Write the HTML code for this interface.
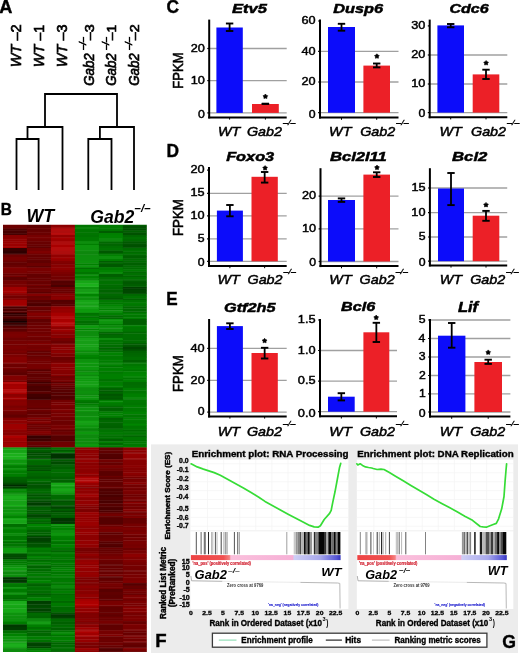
<!DOCTYPE html>
<html><head><meta charset="utf-8"><style>
html,body{margin:0;padding:0;background:#fff;}
body{width:520px;height:653px;overflow:hidden;}
svg{display:block;font-family:"Liberation Sans",sans-serif;will-change:transform;}
</style></head><body>
<svg width="520" height="653" viewBox="0 0 520 653">
<text transform="translate(-0.86,12.70) scale(0.978,1)" font-size="18.62" font-weight="bold" font-style="normal" fill="#000" stroke="#000" stroke-width="0.4">A</text>
<text transform="translate(20.60,67.27) rotate(-90) scale(0.961,1)" font-size="15.13" font-weight="normal" font-style="italic" fill="#000" stroke="#000" stroke-width="0.65">WT</text>
<text transform="translate(20.60,40.60) rotate(-90) scale(1.013,1)" font-size="14.34" font-weight="normal" font-style="normal" fill="#000" stroke="#000" stroke-width="0.65">–2</text>
<text transform="translate(43.60,67.27) rotate(-90) scale(0.961,1)" font-size="15.13" font-weight="normal" font-style="italic" fill="#000" stroke="#000" stroke-width="0.65">WT</text>
<text transform="translate(43.60,40.60) rotate(-90) scale(0.958,1)" font-size="14.55" font-weight="normal" font-style="normal" fill="#000" stroke="#000" stroke-width="0.65">–1</text>
<text transform="translate(66.70,67.27) rotate(-90) scale(0.961,1)" font-size="15.13" font-weight="normal" font-style="italic" fill="#000" stroke="#000" stroke-width="0.65">WT</text>
<text transform="translate(66.70,40.60) rotate(-90) scale(1.006,1)" font-size="14.34" font-weight="normal" font-style="normal" fill="#000" stroke="#000" stroke-width="0.65">–3</text>
<text transform="translate(93.50,85.87) rotate(-90) scale(0.939,1)" font-size="14.21" font-weight="normal" font-style="italic" fill="#000" stroke="#000" stroke-width="0.65">Gab2</text>
<text transform="translate(86.20,49.85) rotate(-90) scale(0.919,1)" font-size="9.93" font-weight="normal" font-style="italic" fill="#000" stroke="#000" stroke-width="0.65">–/–</text>
<text transform="translate(93.50,40.20) rotate(-90) scale(1.142,1)" font-size="12.47" font-weight="normal" font-style="normal" fill="#000" stroke="#000" stroke-width="0.65">–3</text>
<text transform="translate(116.30,85.87) rotate(-90) scale(0.939,1)" font-size="14.21" font-weight="normal" font-style="italic" fill="#000" stroke="#000" stroke-width="0.65">Gab2</text>
<text transform="translate(109.00,49.85) rotate(-90) scale(0.919,1)" font-size="9.93" font-weight="normal" font-style="italic" fill="#000" stroke="#000" stroke-width="0.65">–/–</text>
<text transform="translate(116.30,40.20) rotate(-90) scale(1.086,1)" font-size="12.65" font-weight="normal" font-style="normal" fill="#000" stroke="#000" stroke-width="0.65">–1</text>
<text transform="translate(139.10,85.87) rotate(-90) scale(0.939,1)" font-size="14.21" font-weight="normal" font-style="italic" fill="#000" stroke="#000" stroke-width="0.65">Gab2</text>
<text transform="translate(131.80,49.85) rotate(-90) scale(0.919,1)" font-size="9.93" font-weight="normal" font-style="italic" fill="#000" stroke="#000" stroke-width="0.65">–/–</text>
<text transform="translate(139.10,40.20) rotate(-90) scale(1.150,1)" font-size="12.47" font-weight="normal" font-style="normal" fill="#000" stroke="#000" stroke-width="0.65">–2</text>
<path d="M16.5,190V139H38.6V190 M27.5,139V127H62.5V190 M88.3,190V139H111.5V190 M99.9,139V127H134V190 M45,127V94H117V127" fill="none" stroke="#000" stroke-width="1.8"/>
<text transform="translate(0.86,215.10) scale(0.905,1)" font-size="17.02" font-weight="bold" font-style="normal" fill="#000" stroke="#000" stroke-width="0.4">B</text>
<text transform="translate(26.41,222.20) scale(1.014,1)" font-size="17.60" font-weight="bold" font-style="italic" fill="#000">WT</text>
<text transform="translate(90.26,222.60) scale(0.967,1)" font-size="18.21" font-weight="bold" font-style="italic" fill="#000">Gab2</text>
<text transform="translate(134.54,211.50) scale(1.099,1)" font-size="10.48" font-weight="bold" font-style="italic" fill="#000">–/–</text>
<defs><clipPath id="hmc"><rect x="2.9" y="224.8" width="144" height="427.2"/></clipPath><filter id="hmb" x="-0.01" y="-0.01" width="1.02" height="1.02"><feGaussianBlur stdDeviation="0.25 0.55"/></filter></defs><g clip-path="url(#hmc)"><g filter="url(#hmb)">
<rect x="2.90" y="222.00" width="24.40" height="3.40" fill="rgb(128,0,0)"/>
<rect x="2.90" y="225.00" width="24.40" height="3.40" fill="rgb(108,0,0)"/>
<rect x="2.90" y="228.00" width="24.40" height="0.90" fill="rgb(109,0,0)"/>
<rect x="2.90" y="228.50" width="24.40" height="2.40" fill="rgb(80,0,0)"/>
<rect x="2.90" y="230.50" width="24.40" height="3.40" fill="rgb(71,0,0)"/>
<rect x="2.90" y="233.50" width="24.40" height="1.90" fill="rgb(70,0,0)"/>
<rect x="2.90" y="235.00" width="24.40" height="3.40" fill="rgb(135,1,1)"/>
<rect x="2.90" y="238.00" width="24.40" height="1.90" fill="rgb(139,2,2)"/>
<rect x="2.90" y="239.50" width="24.40" height="2.40" fill="rgb(147,2,2)"/>
<rect x="2.90" y="241.50" width="24.40" height="2.40" fill="rgb(152,3,3)"/>
<rect x="2.90" y="243.50" width="24.40" height="1.90" fill="rgb(156,3,3)"/>
<rect x="2.90" y="245.00" width="24.40" height="1.90" fill="rgb(152,3,3)"/>
<rect x="2.90" y="246.50" width="24.40" height="1.90" fill="rgb(162,5,5)"/>
<rect x="2.90" y="248.00" width="24.40" height="3.40" fill="rgb(53,0,0)"/>
<rect x="2.90" y="251.00" width="24.40" height="2.90" fill="rgb(47,0,0)"/>
<rect x="2.90" y="253.50" width="24.40" height="1.40" fill="rgb(66,0,0)"/>
<rect x="2.90" y="254.50" width="24.40" height="2.90" fill="rgb(108,0,0)"/>
<rect x="2.90" y="257.00" width="24.40" height="3.40" fill="rgb(118,0,0)"/>
<rect x="2.90" y="260.00" width="24.40" height="1.40" fill="rgb(111,0,0)"/>
<rect x="2.90" y="261.00" width="24.40" height="1.90" fill="rgb(105,0,0)"/>
<rect x="2.90" y="262.50" width="24.40" height="2.90" fill="rgb(98,0,0)"/>
<rect x="2.90" y="265.00" width="24.40" height="2.90" fill="rgb(105,0,0)"/>
<rect x="2.90" y="267.50" width="24.40" height="1.90" fill="rgb(129,1,1)"/>
<rect x="2.90" y="269.00" width="24.40" height="3.40" fill="rgb(124,0,0)"/>
<rect x="2.90" y="272.00" width="24.40" height="1.90" fill="rgb(122,0,0)"/>
<rect x="2.90" y="273.50" width="24.40" height="0.90" fill="rgb(112,0,0)"/>
<rect x="2.90" y="274.00" width="24.40" height="1.90" fill="rgb(104,0,0)"/>
<rect x="2.90" y="275.50" width="24.40" height="1.90" fill="rgb(116,0,0)"/>
<rect x="2.90" y="277.00" width="24.40" height="3.40" fill="rgb(91,0,0)"/>
<rect x="2.90" y="280.00" width="24.40" height="0.90" fill="rgb(108,0,0)"/>
<rect x="2.90" y="280.50" width="24.40" height="1.90" fill="rgb(114,0,0)"/>
<rect x="2.90" y="282.00" width="24.40" height="2.90" fill="rgb(116,0,0)"/>
<rect x="2.90" y="284.50" width="24.40" height="2.90" fill="rgb(124,0,0)"/>
<rect x="2.90" y="287.00" width="24.40" height="3.40" fill="rgb(158,4,4)"/>
<rect x="2.90" y="290.00" width="24.40" height="1.90" fill="rgb(163,5,5)"/>
<rect x="2.90" y="291.50" width="24.40" height="1.90" fill="rgb(164,5,5)"/>
<rect x="2.90" y="293.00" width="24.40" height="0.90" fill="rgb(146,2,2)"/>
<rect x="2.90" y="293.50" width="24.40" height="2.40" fill="rgb(138,1,1)"/>
<rect x="2.90" y="295.50" width="24.40" height="3.40" fill="rgb(115,0,0)"/>
<rect x="2.90" y="298.50" width="24.40" height="1.90" fill="rgb(135,1,1)"/>
<rect x="26.90" y="222.00" width="24.40" height="3.40" fill="rgb(98,0,0)"/>
<rect x="26.90" y="225.00" width="24.40" height="3.40" fill="rgb(97,0,0)"/>
<rect x="26.90" y="228.00" width="24.40" height="0.90" fill="rgb(115,0,0)"/>
<rect x="26.90" y="228.50" width="24.40" height="2.90" fill="rgb(100,0,0)"/>
<rect x="26.90" y="231.00" width="24.40" height="1.90" fill="rgb(102,0,0)"/>
<rect x="26.90" y="232.50" width="24.40" height="1.90" fill="rgb(107,0,0)"/>
<rect x="26.90" y="234.00" width="24.40" height="1.40" fill="rgb(105,0,0)"/>
<rect x="26.90" y="235.00" width="24.40" height="2.90" fill="rgb(118,0,0)"/>
<rect x="26.90" y="237.50" width="24.40" height="1.90" fill="rgb(119,0,0)"/>
<rect x="26.90" y="239.00" width="24.40" height="2.90" fill="rgb(112,0,0)"/>
<rect x="26.90" y="241.50" width="24.40" height="3.40" fill="rgb(103,0,0)"/>
<rect x="26.90" y="244.50" width="24.40" height="2.40" fill="rgb(102,0,0)"/>
<rect x="26.90" y="246.50" width="24.40" height="1.90" fill="rgb(94,0,0)"/>
<rect x="26.90" y="248.00" width="24.40" height="3.40" fill="rgb(114,0,0)"/>
<rect x="26.90" y="251.00" width="24.40" height="2.40" fill="rgb(126,0,0)"/>
<rect x="26.90" y="253.00" width="24.40" height="1.90" fill="rgb(116,0,0)"/>
<rect x="26.90" y="254.50" width="24.40" height="3.40" fill="rgb(102,0,0)"/>
<rect x="26.90" y="257.50" width="24.40" height="2.40" fill="rgb(104,0,0)"/>
<rect x="26.90" y="259.50" width="24.40" height="1.90" fill="rgb(100,0,0)"/>
<rect x="26.90" y="261.00" width="24.40" height="2.40" fill="rgb(96,0,0)"/>
<rect x="26.90" y="263.00" width="24.40" height="3.40" fill="rgb(108,0,0)"/>
<rect x="26.90" y="266.00" width="24.40" height="1.90" fill="rgb(93,0,0)"/>
<rect x="26.90" y="267.50" width="24.40" height="1.90" fill="rgb(120,0,0)"/>
<rect x="26.90" y="269.00" width="24.40" height="2.90" fill="rgb(120,0,0)"/>
<rect x="26.90" y="271.50" width="24.40" height="2.40" fill="rgb(118,0,0)"/>
<rect x="26.90" y="273.50" width="24.40" height="0.90" fill="rgb(111,0,0)"/>
<rect x="26.90" y="274.00" width="24.40" height="3.40" fill="rgb(99,0,0)"/>
<rect x="26.90" y="277.00" width="24.40" height="1.90" fill="rgb(105,0,0)"/>
<rect x="26.90" y="278.50" width="24.40" height="2.40" fill="rgb(102,0,0)"/>
<rect x="26.90" y="280.50" width="24.40" height="1.90" fill="rgb(109,0,0)"/>
<rect x="26.90" y="282.00" width="24.40" height="2.90" fill="rgb(104,0,0)"/>
<rect x="26.90" y="284.50" width="24.40" height="1.90" fill="rgb(116,0,0)"/>
<rect x="26.90" y="286.00" width="24.40" height="1.40" fill="rgb(99,0,0)"/>
<rect x="26.90" y="287.00" width="24.40" height="1.90" fill="rgb(108,0,0)"/>
<rect x="26.90" y="288.50" width="24.40" height="1.90" fill="rgb(103,0,0)"/>
<rect x="26.90" y="290.00" width="24.40" height="2.40" fill="rgb(106,0,0)"/>
<rect x="26.90" y="292.00" width="24.40" height="1.90" fill="rgb(90,0,0)"/>
<rect x="26.90" y="293.50" width="24.40" height="2.90" fill="rgb(130,1,1)"/>
<rect x="26.90" y="296.00" width="24.40" height="2.40" fill="rgb(105,0,0)"/>
<rect x="26.90" y="298.00" width="24.40" height="2.40" fill="rgb(110,0,0)"/>
<rect x="50.90" y="222.00" width="24.40" height="2.90" fill="rgb(149,3,3)"/>
<rect x="50.90" y="224.50" width="24.40" height="1.90" fill="rgb(137,1,1)"/>
<rect x="50.90" y="226.00" width="24.40" height="1.90" fill="rgb(143,2,2)"/>
<rect x="50.90" y="227.50" width="24.40" height="1.40" fill="rgb(156,3,3)"/>
<rect x="50.90" y="228.50" width="24.40" height="2.40" fill="rgb(177,8,8)"/>
<rect x="50.90" y="230.50" width="24.40" height="2.90" fill="rgb(174,7,7)"/>
<rect x="50.90" y="233.00" width="24.40" height="1.90" fill="rgb(184,10,10)"/>
<rect x="50.90" y="234.50" width="24.40" height="0.90" fill="rgb(167,5,5)"/>
<rect x="50.90" y="235.00" width="24.40" height="2.90" fill="rgb(148,2,2)"/>
<rect x="50.90" y="237.50" width="24.40" height="1.90" fill="rgb(164,5,5)"/>
<rect x="50.90" y="239.00" width="24.40" height="2.90" fill="rgb(156,3,3)"/>
<rect x="50.90" y="241.50" width="24.40" height="3.40" fill="rgb(173,7,7)"/>
<rect x="50.90" y="244.50" width="24.40" height="1.90" fill="rgb(169,6,6)"/>
<rect x="50.90" y="246.00" width="24.40" height="1.90" fill="rgb(169,6,6)"/>
<rect x="50.90" y="247.50" width="24.40" height="0.90" fill="rgb(183,9,9)"/>
<rect x="50.90" y="248.00" width="24.40" height="2.90" fill="rgb(179,8,8)"/>
<rect x="50.90" y="250.50" width="24.40" height="3.40" fill="rgb(173,7,7)"/>
<rect x="50.90" y="253.50" width="24.40" height="1.40" fill="rgb(166,5,5)"/>
<rect x="50.90" y="254.50" width="24.40" height="3.40" fill="rgb(146,2,2)"/>
<rect x="50.90" y="257.50" width="24.40" height="1.90" fill="rgb(157,4,4)"/>
<rect x="50.90" y="259.00" width="24.40" height="2.40" fill="rgb(148,2,2)"/>
<rect x="50.90" y="261.00" width="24.40" height="2.40" fill="rgb(131,1,1)"/>
<rect x="50.90" y="263.00" width="24.40" height="1.90" fill="rgb(126,0,0)"/>
<rect x="50.90" y="264.50" width="24.40" height="3.40" fill="rgb(136,1,1)"/>
<rect x="50.90" y="267.50" width="24.40" height="2.90" fill="rgb(142,2,2)"/>
<rect x="50.90" y="270.00" width="24.40" height="2.40" fill="rgb(132,1,1)"/>
<rect x="50.90" y="272.00" width="24.40" height="2.40" fill="rgb(124,0,0)"/>
<rect x="50.90" y="274.00" width="24.40" height="2.90" fill="rgb(117,0,0)"/>
<rect x="50.90" y="276.50" width="24.40" height="3.40" fill="rgb(113,0,0)"/>
<rect x="50.90" y="279.50" width="24.40" height="1.40" fill="rgb(118,0,0)"/>
<rect x="50.90" y="280.50" width="24.40" height="2.90" fill="rgb(83,0,0)"/>
<rect x="50.90" y="283.00" width="24.40" height="2.40" fill="rgb(88,0,0)"/>
<rect x="50.90" y="285.00" width="24.40" height="2.40" fill="rgb(73,0,0)"/>
<rect x="50.90" y="287.00" width="24.40" height="2.90" fill="rgb(107,0,0)"/>
<rect x="50.90" y="289.50" width="24.40" height="2.40" fill="rgb(106,0,0)"/>
<rect x="50.90" y="291.50" width="24.40" height="1.90" fill="rgb(107,0,0)"/>
<rect x="50.90" y="293.00" width="24.40" height="0.90" fill="rgb(106,0,0)"/>
<rect x="50.90" y="293.50" width="24.40" height="2.40" fill="rgb(135,1,1)"/>
<rect x="50.90" y="295.50" width="24.40" height="1.90" fill="rgb(131,1,1)"/>
<rect x="50.90" y="297.00" width="24.40" height="2.40" fill="rgb(138,1,1)"/>
<rect x="50.90" y="299.00" width="24.40" height="1.40" fill="rgb(130,1,1)"/>
<rect x="74.90" y="222.00" width="24.40" height="2.90" fill="rgb(5,128,5)"/>
<rect x="74.90" y="224.50" width="24.40" height="3.40" fill="rgb(2,116,2)"/>
<rect x="74.90" y="227.50" width="24.40" height="1.40" fill="rgb(7,134,7)"/>
<rect x="74.90" y="228.50" width="24.40" height="1.90" fill="rgb(3,119,3)"/>
<rect x="74.90" y="230.00" width="24.40" height="2.90" fill="rgb(2,117,2)"/>
<rect x="74.90" y="232.50" width="24.40" height="2.90" fill="rgb(2,116,2)"/>
<rect x="74.90" y="235.00" width="24.40" height="2.40" fill="rgb(2,114,2)"/>
<rect x="74.90" y="237.00" width="24.40" height="3.40" fill="rgb(3,120,3)"/>
<rect x="74.90" y="240.00" width="24.40" height="1.90" fill="rgb(3,122,3)"/>
<rect x="74.90" y="241.50" width="24.40" height="2.40" fill="rgb(10,142,10)"/>
<rect x="74.90" y="243.50" width="24.40" height="1.90" fill="rgb(5,127,5)"/>
<rect x="74.90" y="245.00" width="24.40" height="3.40" fill="rgb(13,147,13)"/>
<rect x="74.90" y="248.00" width="24.40" height="2.90" fill="rgb(12,146,12)"/>
<rect x="74.90" y="250.50" width="24.40" height="1.90" fill="rgb(8,138,8)"/>
<rect x="74.90" y="252.00" width="24.40" height="2.90" fill="rgb(7,135,7)"/>
<rect x="74.90" y="254.50" width="24.40" height="2.90" fill="rgb(9,140,9)"/>
<rect x="74.90" y="257.00" width="24.40" height="3.40" fill="rgb(9,141,9)"/>
<rect x="74.90" y="260.00" width="24.40" height="1.40" fill="rgb(10,142,10)"/>
<rect x="74.90" y="261.00" width="24.40" height="2.90" fill="rgb(12,145,12)"/>
<rect x="74.90" y="263.50" width="24.40" height="2.40" fill="rgb(5,130,5)"/>
<rect x="74.90" y="265.50" width="24.40" height="2.40" fill="rgb(13,148,13)"/>
<rect x="74.90" y="267.50" width="24.40" height="1.90" fill="rgb(1,109,1)"/>
<rect x="74.90" y="269.00" width="24.40" height="3.40" fill="rgb(6,130,6)"/>
<rect x="74.90" y="272.00" width="24.40" height="2.40" fill="rgb(2,117,2)"/>
<rect x="74.90" y="274.00" width="24.40" height="1.90" fill="rgb(9,141,9)"/>
<rect x="74.90" y="275.50" width="24.40" height="3.40" fill="rgb(6,130,6)"/>
<rect x="74.90" y="278.50" width="24.40" height="2.40" fill="rgb(8,137,8)"/>
<rect x="74.90" y="280.50" width="24.40" height="3.40" fill="rgb(24,166,24)"/>
<rect x="74.90" y="283.50" width="24.40" height="1.90" fill="rgb(30,176,30)"/>
<rect x="74.90" y="285.00" width="24.40" height="1.90" fill="rgb(30,176,30)"/>
<rect x="74.90" y="286.50" width="24.40" height="0.90" fill="rgb(30,176,30)"/>
<rect x="74.90" y="287.00" width="24.40" height="2.90" fill="rgb(12,146,12)"/>
<rect x="74.90" y="289.50" width="24.40" height="2.90" fill="rgb(18,155,18)"/>
<rect x="74.90" y="292.00" width="24.40" height="1.90" fill="rgb(26,170,26)"/>
<rect x="74.90" y="293.50" width="24.40" height="2.90" fill="rgb(6,132,6)"/>
<rect x="74.90" y="296.00" width="24.40" height="1.90" fill="rgb(12,146,12)"/>
<rect x="74.90" y="297.50" width="24.40" height="2.90" fill="rgb(9,141,9)"/>
<rect x="98.90" y="222.00" width="24.40" height="2.90" fill="rgb(3,120,3)"/>
<rect x="98.90" y="224.50" width="24.40" height="1.90" fill="rgb(3,122,3)"/>
<rect x="98.90" y="226.00" width="24.40" height="2.90" fill="rgb(4,123,4)"/>
<rect x="98.90" y="228.50" width="24.40" height="2.90" fill="rgb(2,118,2)"/>
<rect x="98.90" y="231.00" width="24.40" height="2.40" fill="rgb(0,92,0)"/>
<rect x="98.90" y="233.00" width="24.40" height="2.40" fill="rgb(5,127,5)"/>
<rect x="98.90" y="235.00" width="24.40" height="3.40" fill="rgb(6,130,6)"/>
<rect x="98.90" y="238.00" width="24.40" height="2.40" fill="rgb(7,135,7)"/>
<rect x="98.90" y="240.00" width="24.40" height="1.90" fill="rgb(7,134,7)"/>
<rect x="98.90" y="241.50" width="24.40" height="2.40" fill="rgb(0,103,0)"/>
<rect x="98.90" y="243.50" width="24.40" height="2.90" fill="rgb(0,101,0)"/>
<rect x="98.90" y="246.00" width="24.40" height="2.40" fill="rgb(1,110,1)"/>
<rect x="98.90" y="248.00" width="24.40" height="2.90" fill="rgb(2,115,2)"/>
<rect x="98.90" y="250.50" width="24.40" height="2.90" fill="rgb(0,89,0)"/>
<rect x="98.90" y="253.00" width="24.40" height="1.90" fill="rgb(0,107,0)"/>
<rect x="98.90" y="254.50" width="24.40" height="1.90" fill="rgb(6,130,6)"/>
<rect x="98.90" y="256.00" width="24.40" height="3.40" fill="rgb(9,141,9)"/>
<rect x="98.90" y="259.00" width="24.40" height="2.40" fill="rgb(4,125,4)"/>
<rect x="98.90" y="261.00" width="24.40" height="1.90" fill="rgb(0,93,0)"/>
<rect x="98.90" y="262.50" width="24.40" height="1.90" fill="rgb(0,105,0)"/>
<rect x="98.90" y="264.00" width="24.40" height="3.40" fill="rgb(0,88,0)"/>
<rect x="98.90" y="267.00" width="24.40" height="0.90" fill="rgb(1,113,1)"/>
<rect x="98.90" y="267.50" width="24.40" height="2.90" fill="rgb(3,122,3)"/>
<rect x="98.90" y="270.00" width="24.40" height="2.90" fill="rgb(6,130,6)"/>
<rect x="98.90" y="272.50" width="24.40" height="1.90" fill="rgb(7,136,7)"/>
<rect x="98.90" y="274.00" width="24.40" height="3.40" fill="rgb(0,94,0)"/>
<rect x="98.90" y="277.00" width="24.40" height="2.90" fill="rgb(1,110,1)"/>
<rect x="98.90" y="279.50" width="24.40" height="1.40" fill="rgb(0,109,0)"/>
<rect x="98.90" y="280.50" width="24.40" height="2.90" fill="rgb(1,112,1)"/>
<rect x="98.90" y="283.00" width="24.40" height="1.90" fill="rgb(1,113,1)"/>
<rect x="98.90" y="284.50" width="24.40" height="1.90" fill="rgb(0,106,0)"/>
<rect x="98.90" y="286.00" width="24.40" height="1.40" fill="rgb(0,109,0)"/>
<rect x="98.90" y="287.00" width="24.40" height="2.90" fill="rgb(0,103,0)"/>
<rect x="98.90" y="289.50" width="24.40" height="3.40" fill="rgb(0,99,0)"/>
<rect x="98.90" y="292.50" width="24.40" height="1.40" fill="rgb(0,94,0)"/>
<rect x="98.90" y="293.50" width="24.40" height="2.90" fill="rgb(0,104,0)"/>
<rect x="98.90" y="296.00" width="24.40" height="2.40" fill="rgb(0,99,0)"/>
<rect x="98.90" y="298.00" width="24.40" height="1.90" fill="rgb(0,90,0)"/>
<rect x="98.90" y="299.50" width="24.40" height="0.90" fill="rgb(0,95,0)"/>
<rect x="122.90" y="222.00" width="24.00" height="2.40" fill="rgb(0,76,0)"/>
<rect x="122.90" y="224.00" width="24.00" height="2.40" fill="rgb(0,92,0)"/>
<rect x="122.90" y="226.00" width="24.00" height="2.40" fill="rgb(0,79,0)"/>
<rect x="122.90" y="228.00" width="24.00" height="0.90" fill="rgb(0,92,0)"/>
<rect x="122.90" y="228.50" width="24.00" height="2.40" fill="rgb(0,78,0)"/>
<rect x="122.90" y="230.50" width="24.00" height="2.40" fill="rgb(0,95,0)"/>
<rect x="122.90" y="232.50" width="24.00" height="2.90" fill="rgb(0,81,0)"/>
<rect x="122.90" y="235.00" width="24.00" height="2.40" fill="rgb(0,101,0)"/>
<rect x="122.90" y="237.00" width="24.00" height="2.40" fill="rgb(1,110,1)"/>
<rect x="122.90" y="239.00" width="24.00" height="2.40" fill="rgb(0,105,0)"/>
<rect x="122.90" y="241.00" width="24.00" height="0.90" fill="rgb(0,99,0)"/>
<rect x="122.90" y="241.50" width="24.00" height="2.40" fill="rgb(0,89,0)"/>
<rect x="122.90" y="243.50" width="24.00" height="1.90" fill="rgb(0,83,0)"/>
<rect x="122.90" y="245.00" width="24.00" height="2.90" fill="rgb(0,80,0)"/>
<rect x="122.90" y="247.50" width="24.00" height="0.90" fill="rgb(0,91,0)"/>
<rect x="122.90" y="248.00" width="24.00" height="2.40" fill="rgb(0,107,0)"/>
<rect x="122.90" y="250.00" width="24.00" height="1.90" fill="rgb(1,114,1)"/>
<rect x="122.90" y="251.50" width="24.00" height="1.90" fill="rgb(0,107,0)"/>
<rect x="122.90" y="253.00" width="24.00" height="1.90" fill="rgb(2,114,2)"/>
<rect x="122.90" y="254.50" width="24.00" height="1.90" fill="rgb(0,101,0)"/>
<rect x="122.90" y="256.00" width="24.00" height="2.90" fill="rgb(0,94,0)"/>
<rect x="122.90" y="258.50" width="24.00" height="2.40" fill="rgb(0,107,0)"/>
<rect x="122.90" y="260.50" width="24.00" height="0.90" fill="rgb(0,96,0)"/>
<rect x="122.90" y="261.00" width="24.00" height="1.90" fill="rgb(0,105,0)"/>
<rect x="122.90" y="262.50" width="24.00" height="3.40" fill="rgb(0,94,0)"/>
<rect x="122.90" y="265.50" width="24.00" height="2.40" fill="rgb(0,105,0)"/>
<rect x="122.90" y="267.50" width="24.00" height="2.40" fill="rgb(0,107,0)"/>
<rect x="122.90" y="269.50" width="24.00" height="2.40" fill="rgb(3,120,3)"/>
<rect x="122.90" y="271.50" width="24.00" height="1.90" fill="rgb(0,103,0)"/>
<rect x="122.90" y="273.00" width="24.00" height="1.40" fill="rgb(1,111,1)"/>
<rect x="122.90" y="274.00" width="24.00" height="1.90" fill="rgb(1,112,1)"/>
<rect x="122.90" y="275.50" width="24.00" height="1.90" fill="rgb(0,100,0)"/>
<rect x="122.90" y="277.00" width="24.00" height="2.90" fill="rgb(1,111,1)"/>
<rect x="122.90" y="279.50" width="24.00" height="1.40" fill="rgb(0,106,0)"/>
<rect x="122.90" y="280.50" width="24.00" height="1.90" fill="rgb(0,93,0)"/>
<rect x="122.90" y="282.00" width="24.00" height="2.40" fill="rgb(0,89,0)"/>
<rect x="122.90" y="284.00" width="24.00" height="2.90" fill="rgb(0,93,0)"/>
<rect x="122.90" y="286.50" width="24.00" height="0.90" fill="rgb(0,95,0)"/>
<rect x="122.90" y="287.00" width="24.00" height="1.90" fill="rgb(0,63,0)"/>
<rect x="122.90" y="288.50" width="24.00" height="1.90" fill="rgb(0,67,0)"/>
<rect x="122.90" y="290.00" width="24.00" height="3.40" fill="rgb(0,71,0)"/>
<rect x="122.90" y="293.00" width="24.00" height="0.90" fill="rgb(0,47,0)"/>
<rect x="122.90" y="293.50" width="24.00" height="2.90" fill="rgb(0,103,0)"/>
<rect x="122.90" y="296.00" width="24.00" height="2.90" fill="rgb(2,114,2)"/>
<rect x="122.90" y="298.50" width="24.00" height="1.90" fill="rgb(0,98,0)"/>
<rect x="2.90" y="300.00" width="24.40" height="3.40" fill="rgb(159,4,4)"/>
<rect x="2.90" y="303.00" width="24.40" height="2.90" fill="rgb(160,4,4)"/>
<rect x="2.90" y="305.50" width="24.40" height="1.23" fill="rgb(155,3,3)"/>
<rect x="2.90" y="306.33" width="24.40" height="2.40" fill="rgb(72,0,0)"/>
<rect x="2.90" y="308.33" width="24.40" height="1.90" fill="rgb(82,0,0)"/>
<rect x="2.90" y="309.83" width="24.40" height="1.90" fill="rgb(74,0,0)"/>
<rect x="2.90" y="311.33" width="24.40" height="1.73" fill="rgb(99,0,0)"/>
<rect x="2.90" y="312.67" width="24.40" height="1.90" fill="rgb(45,0,0)"/>
<rect x="2.90" y="314.17" width="24.40" height="2.40" fill="rgb(58,0,0)"/>
<rect x="2.90" y="316.17" width="24.40" height="2.90" fill="rgb(81,0,0)"/>
<rect x="2.90" y="318.67" width="24.40" height="0.73" fill="rgb(62,0,0)"/>
<rect x="2.90" y="319.00" width="24.40" height="2.40" fill="rgb(49,0,0)"/>
<rect x="2.90" y="321.00" width="24.40" height="1.90" fill="rgb(18,0,0)"/>
<rect x="2.90" y="322.50" width="24.40" height="2.40" fill="rgb(62,0,0)"/>
<rect x="2.90" y="324.50" width="24.40" height="1.23" fill="rgb(43,0,0)"/>
<rect x="2.90" y="325.33" width="24.40" height="1.90" fill="rgb(78,0,0)"/>
<rect x="2.90" y="326.83" width="24.40" height="1.90" fill="rgb(91,0,0)"/>
<rect x="2.90" y="328.33" width="24.40" height="2.90" fill="rgb(92,0,0)"/>
<rect x="2.90" y="330.83" width="24.40" height="1.23" fill="rgb(98,0,0)"/>
<rect x="2.90" y="331.67" width="24.40" height="2.40" fill="rgb(120,0,0)"/>
<rect x="2.90" y="333.67" width="24.40" height="3.40" fill="rgb(124,0,0)"/>
<rect x="2.90" y="336.67" width="24.40" height="1.73" fill="rgb(119,0,0)"/>
<rect x="2.90" y="338.00" width="24.40" height="2.90" fill="rgb(110,0,0)"/>
<rect x="2.90" y="340.50" width="24.40" height="1.90" fill="rgb(116,0,0)"/>
<rect x="2.90" y="342.00" width="24.40" height="2.73" fill="rgb(119,0,0)"/>
<rect x="2.90" y="344.33" width="24.40" height="1.90" fill="rgb(116,0,0)"/>
<rect x="2.90" y="345.83" width="24.40" height="3.40" fill="rgb(122,0,0)"/>
<rect x="2.90" y="348.83" width="24.40" height="2.23" fill="rgb(116,0,0)"/>
<rect x="2.90" y="350.67" width="24.40" height="2.40" fill="rgb(124,0,0)"/>
<rect x="2.90" y="352.67" width="24.40" height="1.90" fill="rgb(111,0,0)"/>
<rect x="2.90" y="354.17" width="24.40" height="3.23" fill="rgb(125,0,0)"/>
<rect x="2.90" y="357.00" width="24.40" height="3.40" fill="rgb(134,1,1)"/>
<rect x="2.90" y="360.00" width="24.40" height="2.90" fill="rgb(132,1,1)"/>
<rect x="2.90" y="362.50" width="24.40" height="1.23" fill="rgb(141,2,2)"/>
<rect x="2.90" y="363.33" width="24.40" height="2.90" fill="rgb(112,0,0)"/>
<rect x="2.90" y="365.83" width="24.40" height="1.90" fill="rgb(108,0,0)"/>
<rect x="2.90" y="367.33" width="24.40" height="1.90" fill="rgb(120,0,0)"/>
<rect x="2.90" y="368.83" width="24.40" height="1.23" fill="rgb(109,0,0)"/>
<rect x="2.90" y="369.67" width="24.40" height="3.40" fill="rgb(101,0,0)"/>
<rect x="2.90" y="372.67" width="24.40" height="2.90" fill="rgb(92,0,0)"/>
<rect x="2.90" y="375.17" width="24.40" height="1.23" fill="rgb(121,0,0)"/>
<rect x="26.90" y="300.00" width="24.40" height="2.90" fill="rgb(88,0,0)"/>
<rect x="26.90" y="302.50" width="24.40" height="1.90" fill="rgb(82,0,0)"/>
<rect x="26.90" y="304.00" width="24.40" height="2.73" fill="rgb(75,0,0)"/>
<rect x="26.90" y="306.33" width="24.40" height="2.90" fill="rgb(106,0,0)"/>
<rect x="26.90" y="308.83" width="24.40" height="1.90" fill="rgb(99,0,0)"/>
<rect x="26.90" y="310.33" width="24.40" height="2.73" fill="rgb(112,0,0)"/>
<rect x="26.90" y="312.67" width="24.40" height="2.40" fill="rgb(133,1,1)"/>
<rect x="26.90" y="314.67" width="24.40" height="1.90" fill="rgb(125,0,0)"/>
<rect x="26.90" y="316.17" width="24.40" height="1.90" fill="rgb(121,0,0)"/>
<rect x="26.90" y="317.67" width="24.40" height="1.73" fill="rgb(123,0,0)"/>
<rect x="26.90" y="319.00" width="24.40" height="2.40" fill="rgb(95,0,0)"/>
<rect x="26.90" y="321.00" width="24.40" height="1.90" fill="rgb(97,0,0)"/>
<rect x="26.90" y="322.50" width="24.40" height="3.23" fill="rgb(103,0,0)"/>
<rect x="26.90" y="325.33" width="24.40" height="3.40" fill="rgb(110,0,0)"/>
<rect x="26.90" y="328.33" width="24.40" height="3.40" fill="rgb(112,0,0)"/>
<rect x="26.90" y="331.33" width="24.40" height="0.73" fill="rgb(120,0,0)"/>
<rect x="26.90" y="331.67" width="24.40" height="2.40" fill="rgb(110,0,0)"/>
<rect x="26.90" y="333.67" width="24.40" height="2.90" fill="rgb(118,0,0)"/>
<rect x="26.90" y="336.17" width="24.40" height="1.90" fill="rgb(113,0,0)"/>
<rect x="26.90" y="337.67" width="24.40" height="0.73" fill="rgb(120,0,0)"/>
<rect x="26.90" y="338.00" width="24.40" height="2.90" fill="rgb(108,0,0)"/>
<rect x="26.90" y="340.50" width="24.40" height="2.90" fill="rgb(117,0,0)"/>
<rect x="26.90" y="343.00" width="24.40" height="1.73" fill="rgb(129,1,1)"/>
<rect x="26.90" y="344.33" width="24.40" height="2.90" fill="rgb(118,0,0)"/>
<rect x="26.90" y="346.83" width="24.40" height="2.40" fill="rgb(114,0,0)"/>
<rect x="26.90" y="348.83" width="24.40" height="2.23" fill="rgb(120,0,0)"/>
<rect x="26.90" y="350.67" width="24.40" height="1.90" fill="rgb(99,0,0)"/>
<rect x="26.90" y="352.17" width="24.40" height="1.90" fill="rgb(99,0,0)"/>
<rect x="26.90" y="353.67" width="24.40" height="1.90" fill="rgb(108,0,0)"/>
<rect x="26.90" y="355.17" width="24.40" height="1.90" fill="rgb(101,0,0)"/>
<rect x="26.90" y="356.67" width="24.40" height="0.73" fill="rgb(106,0,0)"/>
<rect x="26.90" y="357.00" width="24.40" height="2.40" fill="rgb(109,0,0)"/>
<rect x="26.90" y="359.00" width="24.40" height="2.90" fill="rgb(115,0,0)"/>
<rect x="26.90" y="361.50" width="24.40" height="2.23" fill="rgb(113,0,0)"/>
<rect x="26.90" y="363.33" width="24.40" height="2.90" fill="rgb(119,0,0)"/>
<rect x="26.90" y="365.83" width="24.40" height="3.40" fill="rgb(118,0,0)"/>
<rect x="26.90" y="368.83" width="24.40" height="1.23" fill="rgb(105,0,0)"/>
<rect x="26.90" y="369.67" width="24.40" height="1.90" fill="rgb(86,0,0)"/>
<rect x="26.90" y="371.17" width="24.40" height="2.40" fill="rgb(105,0,0)"/>
<rect x="26.90" y="373.17" width="24.40" height="3.23" fill="rgb(95,0,0)"/>
<rect x="50.90" y="300.00" width="24.40" height="2.40" fill="rgb(83,0,0)"/>
<rect x="50.90" y="302.00" width="24.40" height="2.90" fill="rgb(89,0,0)"/>
<rect x="50.90" y="304.50" width="24.40" height="2.23" fill="rgb(93,0,0)"/>
<rect x="50.90" y="306.33" width="24.40" height="2.90" fill="rgb(143,2,2)"/>
<rect x="50.90" y="308.83" width="24.40" height="2.40" fill="rgb(151,3,3)"/>
<rect x="50.90" y="310.83" width="24.40" height="2.23" fill="rgb(149,3,3)"/>
<rect x="50.90" y="312.67" width="24.40" height="3.40" fill="rgb(166,5,5)"/>
<rect x="50.90" y="315.67" width="24.40" height="2.90" fill="rgb(177,7,7)"/>
<rect x="50.90" y="318.17" width="24.40" height="1.23" fill="rgb(176,7,7)"/>
<rect x="50.90" y="319.00" width="24.40" height="3.40" fill="rgb(170,6,6)"/>
<rect x="50.90" y="322.00" width="24.40" height="1.90" fill="rgb(186,10,10)"/>
<rect x="50.90" y="323.50" width="24.40" height="2.23" fill="rgb(177,7,7)"/>
<rect x="50.90" y="325.33" width="24.40" height="1.90" fill="rgb(166,5,5)"/>
<rect x="50.90" y="326.83" width="24.40" height="2.90" fill="rgb(142,2,2)"/>
<rect x="50.90" y="329.33" width="24.40" height="2.73" fill="rgb(155,3,3)"/>
<rect x="50.90" y="331.67" width="24.40" height="2.90" fill="rgb(140,2,2)"/>
<rect x="50.90" y="334.17" width="24.40" height="2.90" fill="rgb(133,1,1)"/>
<rect x="50.90" y="336.67" width="24.40" height="1.73" fill="rgb(142,2,2)"/>
<rect x="50.90" y="338.00" width="24.40" height="3.40" fill="rgb(115,0,0)"/>
<rect x="50.90" y="341.00" width="24.40" height="2.90" fill="rgb(106,0,0)"/>
<rect x="50.90" y="343.50" width="24.40" height="1.23" fill="rgb(123,0,0)"/>
<rect x="50.90" y="344.33" width="24.40" height="3.40" fill="rgb(133,1,1)"/>
<rect x="50.90" y="347.33" width="24.40" height="2.40" fill="rgb(143,2,2)"/>
<rect x="50.90" y="349.33" width="24.40" height="1.73" fill="rgb(132,1,1)"/>
<rect x="50.90" y="350.67" width="24.40" height="2.90" fill="rgb(142,2,2)"/>
<rect x="50.90" y="353.17" width="24.40" height="3.40" fill="rgb(125,0,0)"/>
<rect x="50.90" y="356.17" width="24.40" height="1.23" fill="rgb(130,1,1)"/>
<rect x="50.90" y="357.00" width="24.40" height="3.40" fill="rgb(105,0,0)"/>
<rect x="50.90" y="360.00" width="24.40" height="2.40" fill="rgb(115,0,0)"/>
<rect x="50.90" y="362.00" width="24.40" height="1.73" fill="rgb(125,0,0)"/>
<rect x="50.90" y="363.33" width="24.40" height="2.90" fill="rgb(141,2,2)"/>
<rect x="50.90" y="365.83" width="24.40" height="1.90" fill="rgb(137,1,1)"/>
<rect x="50.90" y="367.33" width="24.40" height="2.40" fill="rgb(139,2,2)"/>
<rect x="50.90" y="369.33" width="24.40" height="0.73" fill="rgb(147,2,2)"/>
<rect x="50.90" y="369.67" width="24.40" height="3.40" fill="rgb(134,1,1)"/>
<rect x="50.90" y="372.67" width="24.40" height="1.90" fill="rgb(131,1,1)"/>
<rect x="50.90" y="374.17" width="24.40" height="1.90" fill="rgb(133,1,1)"/>
<rect x="50.90" y="375.67" width="24.40" height="0.73" fill="rgb(147,2,2)"/>
<rect x="74.90" y="300.00" width="24.40" height="2.90" fill="rgb(23,164,23)"/>
<rect x="74.90" y="302.50" width="24.40" height="1.90" fill="rgb(26,168,26)"/>
<rect x="74.90" y="304.00" width="24.40" height="1.90" fill="rgb(20,160,20)"/>
<rect x="74.90" y="305.50" width="24.40" height="1.23" fill="rgb(19,158,19)"/>
<rect x="74.90" y="306.33" width="24.40" height="2.90" fill="rgb(22,163,22)"/>
<rect x="74.90" y="308.83" width="24.40" height="3.40" fill="rgb(16,153,16)"/>
<rect x="74.90" y="311.83" width="24.40" height="1.23" fill="rgb(22,162,22)"/>
<rect x="74.90" y="312.67" width="24.40" height="2.40" fill="rgb(1,113,1)"/>
<rect x="74.90" y="314.67" width="24.40" height="1.90" fill="rgb(3,122,3)"/>
<rect x="74.90" y="316.17" width="24.40" height="1.90" fill="rgb(1,110,1)"/>
<rect x="74.90" y="317.67" width="24.40" height="1.73" fill="rgb(5,129,5)"/>
<rect x="74.90" y="319.00" width="24.40" height="1.90" fill="rgb(5,127,5)"/>
<rect x="74.90" y="320.50" width="24.40" height="3.40" fill="rgb(1,109,1)"/>
<rect x="74.90" y="323.50" width="24.40" height="1.90" fill="rgb(1,111,1)"/>
<rect x="74.90" y="325.00" width="24.40" height="0.73" fill="rgb(3,120,3)"/>
<rect x="74.90" y="325.33" width="24.40" height="3.40" fill="rgb(17,154,17)"/>
<rect x="74.90" y="328.33" width="24.40" height="2.40" fill="rgb(6,133,6)"/>
<rect x="74.90" y="330.33" width="24.40" height="1.73" fill="rgb(13,147,13)"/>
<rect x="74.90" y="331.67" width="24.40" height="2.40" fill="rgb(8,140,8)"/>
<rect x="74.90" y="333.67" width="24.40" height="2.90" fill="rgb(10,142,10)"/>
<rect x="74.90" y="336.17" width="24.40" height="2.23" fill="rgb(13,147,13)"/>
<rect x="74.90" y="338.00" width="24.40" height="2.90" fill="rgb(21,160,21)"/>
<rect x="74.90" y="340.50" width="24.40" height="2.90" fill="rgb(19,157,19)"/>
<rect x="74.90" y="343.00" width="24.40" height="1.73" fill="rgb(18,157,18)"/>
<rect x="74.90" y="344.33" width="24.40" height="2.40" fill="rgb(22,162,22)"/>
<rect x="74.90" y="346.33" width="24.40" height="1.90" fill="rgb(19,158,19)"/>
<rect x="74.90" y="347.83" width="24.40" height="3.23" fill="rgb(18,157,18)"/>
<rect x="74.90" y="350.67" width="24.40" height="1.90" fill="rgb(8,138,8)"/>
<rect x="74.90" y="352.17" width="24.40" height="2.90" fill="rgb(11,144,11)"/>
<rect x="74.90" y="354.67" width="24.40" height="2.40" fill="rgb(6,132,6)"/>
<rect x="74.90" y="356.67" width="24.40" height="0.73" fill="rgb(7,135,7)"/>
<rect x="74.90" y="357.00" width="24.40" height="2.40" fill="rgb(4,126,4)"/>
<rect x="74.90" y="359.00" width="24.40" height="3.40" fill="rgb(12,145,12)"/>
<rect x="74.90" y="362.00" width="24.40" height="1.73" fill="rgb(17,154,17)"/>
<rect x="74.90" y="363.33" width="24.40" height="3.40" fill="rgb(14,149,14)"/>
<rect x="74.90" y="366.33" width="24.40" height="2.90" fill="rgb(15,151,15)"/>
<rect x="74.90" y="368.83" width="24.40" height="1.23" fill="rgb(20,159,20)"/>
<rect x="74.90" y="369.67" width="24.40" height="1.90" fill="rgb(7,135,7)"/>
<rect x="74.90" y="371.17" width="24.40" height="1.90" fill="rgb(9,140,9)"/>
<rect x="74.90" y="372.67" width="24.40" height="2.40" fill="rgb(16,152,16)"/>
<rect x="74.90" y="374.67" width="24.40" height="1.73" fill="rgb(7,136,7)"/>
<rect x="98.90" y="300.00" width="24.40" height="2.90" fill="rgb(3,122,3)"/>
<rect x="98.90" y="302.50" width="24.40" height="2.40" fill="rgb(3,119,3)"/>
<rect x="98.90" y="304.50" width="24.40" height="1.90" fill="rgb(6,133,6)"/>
<rect x="98.90" y="306.00" width="24.40" height="0.73" fill="rgb(1,111,1)"/>
<rect x="98.90" y="306.33" width="24.40" height="2.40" fill="rgb(8,138,8)"/>
<rect x="98.90" y="308.33" width="24.40" height="2.40" fill="rgb(6,130,6)"/>
<rect x="98.90" y="310.33" width="24.40" height="2.73" fill="rgb(11,143,11)"/>
<rect x="98.90" y="312.67" width="24.40" height="2.90" fill="rgb(5,127,5)"/>
<rect x="98.90" y="315.17" width="24.40" height="2.40" fill="rgb(0,107,0)"/>
<rect x="98.90" y="317.17" width="24.40" height="2.23" fill="rgb(0,105,0)"/>
<rect x="98.90" y="319.00" width="24.40" height="1.90" fill="rgb(13,147,13)"/>
<rect x="98.90" y="320.50" width="24.40" height="1.90" fill="rgb(15,150,15)"/>
<rect x="98.90" y="322.00" width="24.40" height="2.40" fill="rgb(12,146,12)"/>
<rect x="98.90" y="324.00" width="24.40" height="1.73" fill="rgb(5,127,5)"/>
<rect x="98.90" y="325.33" width="24.40" height="1.90" fill="rgb(7,134,7)"/>
<rect x="98.90" y="326.83" width="24.40" height="1.90" fill="rgb(13,148,13)"/>
<rect x="98.90" y="328.33" width="24.40" height="3.40" fill="rgb(8,139,8)"/>
<rect x="98.90" y="331.33" width="24.40" height="0.73" fill="rgb(8,137,8)"/>
<rect x="98.90" y="331.67" width="24.40" height="1.90" fill="rgb(0,106,0)"/>
<rect x="98.90" y="333.17" width="24.40" height="1.90" fill="rgb(0,97,0)"/>
<rect x="98.90" y="334.67" width="24.40" height="3.40" fill="rgb(0,106,0)"/>
<rect x="98.90" y="337.67" width="24.40" height="0.73" fill="rgb(1,113,1)"/>
<rect x="98.90" y="338.00" width="24.40" height="2.40" fill="rgb(8,139,8)"/>
<rect x="98.90" y="340.00" width="24.40" height="2.90" fill="rgb(2,116,2)"/>
<rect x="98.90" y="342.50" width="24.40" height="2.23" fill="rgb(2,114,2)"/>
<rect x="98.90" y="344.33" width="24.40" height="3.40" fill="rgb(1,109,1)"/>
<rect x="98.90" y="347.33" width="24.40" height="1.90" fill="rgb(0,97,0)"/>
<rect x="98.90" y="348.83" width="24.40" height="1.90" fill="rgb(1,112,1)"/>
<rect x="98.90" y="350.33" width="24.40" height="0.73" fill="rgb(0,99,0)"/>
<rect x="98.90" y="350.67" width="24.40" height="1.90" fill="rgb(1,111,1)"/>
<rect x="98.90" y="352.17" width="24.40" height="3.40" fill="rgb(5,129,5)"/>
<rect x="98.90" y="355.17" width="24.40" height="2.23" fill="rgb(3,122,3)"/>
<rect x="98.90" y="357.00" width="24.40" height="2.40" fill="rgb(3,121,3)"/>
<rect x="98.90" y="359.00" width="24.40" height="1.90" fill="rgb(4,125,4)"/>
<rect x="98.90" y="360.50" width="24.40" height="2.40" fill="rgb(4,125,4)"/>
<rect x="98.90" y="362.50" width="24.40" height="1.23" fill="rgb(3,120,3)"/>
<rect x="98.90" y="363.33" width="24.40" height="2.90" fill="rgb(7,133,7)"/>
<rect x="98.90" y="365.83" width="24.40" height="1.90" fill="rgb(2,118,2)"/>
<rect x="98.90" y="367.33" width="24.40" height="2.73" fill="rgb(4,125,4)"/>
<rect x="98.90" y="369.67" width="24.40" height="1.90" fill="rgb(5,128,5)"/>
<rect x="98.90" y="371.17" width="24.40" height="2.90" fill="rgb(3,120,3)"/>
<rect x="98.90" y="373.67" width="24.40" height="2.73" fill="rgb(5,127,5)"/>
<rect x="122.90" y="300.00" width="24.00" height="2.90" fill="rgb(2,115,2)"/>
<rect x="122.90" y="302.50" width="24.00" height="1.90" fill="rgb(4,124,4)"/>
<rect x="122.90" y="304.00" width="24.00" height="2.40" fill="rgb(3,119,3)"/>
<rect x="122.90" y="306.00" width="24.00" height="0.73" fill="rgb(3,119,3)"/>
<rect x="122.90" y="306.33" width="24.00" height="2.40" fill="rgb(0,105,0)"/>
<rect x="122.90" y="308.33" width="24.00" height="3.40" fill="rgb(0,106,0)"/>
<rect x="122.90" y="311.33" width="24.00" height="1.73" fill="rgb(0,105,0)"/>
<rect x="122.90" y="312.67" width="24.00" height="1.90" fill="rgb(3,123,3)"/>
<rect x="122.90" y="314.17" width="24.00" height="3.40" fill="rgb(3,120,3)"/>
<rect x="122.90" y="317.17" width="24.00" height="2.23" fill="rgb(4,123,4)"/>
<rect x="122.90" y="319.00" width="24.00" height="2.40" fill="rgb(0,97,0)"/>
<rect x="122.90" y="321.00" width="24.00" height="3.40" fill="rgb(0,94,0)"/>
<rect x="122.90" y="324.00" width="24.00" height="1.73" fill="rgb(0,100,0)"/>
<rect x="122.90" y="325.33" width="24.00" height="1.90" fill="rgb(5,128,5)"/>
<rect x="122.90" y="326.83" width="24.00" height="3.40" fill="rgb(2,117,2)"/>
<rect x="122.90" y="329.83" width="24.00" height="2.23" fill="rgb(2,118,2)"/>
<rect x="122.90" y="331.67" width="24.00" height="1.90" fill="rgb(0,104,0)"/>
<rect x="122.90" y="333.17" width="24.00" height="2.90" fill="rgb(0,109,0)"/>
<rect x="122.90" y="335.67" width="24.00" height="2.73" fill="rgb(1,109,1)"/>
<rect x="122.90" y="338.00" width="24.00" height="2.90" fill="rgb(0,108,0)"/>
<rect x="122.90" y="340.50" width="24.00" height="2.90" fill="rgb(0,108,0)"/>
<rect x="122.90" y="343.00" width="24.00" height="1.73" fill="rgb(0,95,0)"/>
<rect x="122.90" y="344.33" width="24.00" height="2.90" fill="rgb(0,88,0)"/>
<rect x="122.90" y="346.83" width="24.00" height="2.40" fill="rgb(0,70,0)"/>
<rect x="122.90" y="348.83" width="24.00" height="2.23" fill="rgb(0,79,0)"/>
<rect x="122.90" y="350.67" width="24.00" height="2.40" fill="rgb(0,98,0)"/>
<rect x="122.90" y="352.67" width="24.00" height="2.40" fill="rgb(0,102,0)"/>
<rect x="122.90" y="354.67" width="24.00" height="2.40" fill="rgb(0,103,0)"/>
<rect x="122.90" y="356.67" width="24.00" height="0.73" fill="rgb(1,109,1)"/>
<rect x="122.90" y="357.00" width="24.00" height="3.40" fill="rgb(1,110,1)"/>
<rect x="122.90" y="360.00" width="24.00" height="2.90" fill="rgb(0,96,0)"/>
<rect x="122.90" y="362.50" width="24.00" height="1.23" fill="rgb(2,118,2)"/>
<rect x="122.90" y="363.33" width="24.00" height="2.90" fill="rgb(2,118,2)"/>
<rect x="122.90" y="365.83" width="24.00" height="2.40" fill="rgb(3,123,3)"/>
<rect x="122.90" y="367.83" width="24.00" height="2.23" fill="rgb(5,129,5)"/>
<rect x="122.90" y="369.67" width="24.00" height="1.90" fill="rgb(2,117,2)"/>
<rect x="122.90" y="371.17" width="24.00" height="2.90" fill="rgb(5,128,5)"/>
<rect x="122.90" y="373.67" width="24.00" height="2.73" fill="rgb(6,132,6)"/>
<rect x="2.90" y="376.00" width="24.40" height="2.40" fill="rgb(128,0,0)"/>
<rect x="2.90" y="378.00" width="24.40" height="2.90" fill="rgb(128,0,0)"/>
<rect x="2.90" y="380.50" width="24.40" height="1.85" fill="rgb(119,0,0)"/>
<rect x="2.90" y="381.95" width="24.40" height="2.40" fill="rgb(183,10,10)"/>
<rect x="2.90" y="383.95" width="24.40" height="2.40" fill="rgb(162,5,5)"/>
<rect x="2.90" y="385.95" width="24.40" height="2.35" fill="rgb(166,5,5)"/>
<rect x="2.90" y="387.90" width="24.40" height="1.90" fill="rgb(163,5,5)"/>
<rect x="2.90" y="389.40" width="24.40" height="2.40" fill="rgb(181,9,9)"/>
<rect x="2.90" y="391.40" width="24.40" height="2.85" fill="rgb(175,7,7)"/>
<rect x="2.90" y="393.85" width="24.40" height="3.40" fill="rgb(140,2,2)"/>
<rect x="2.90" y="396.85" width="24.40" height="1.90" fill="rgb(159,4,4)"/>
<rect x="2.90" y="398.35" width="24.40" height="1.85" fill="rgb(161,4,4)"/>
<rect x="2.90" y="399.80" width="24.40" height="2.40" fill="rgb(133,1,1)"/>
<rect x="2.90" y="401.80" width="24.40" height="3.40" fill="rgb(136,1,1)"/>
<rect x="2.90" y="404.80" width="24.40" height="1.35" fill="rgb(134,1,1)"/>
<rect x="2.90" y="405.75" width="24.40" height="2.40" fill="rgb(122,0,0)"/>
<rect x="2.90" y="407.75" width="24.40" height="2.90" fill="rgb(130,1,1)"/>
<rect x="2.90" y="410.25" width="24.40" height="1.85" fill="rgb(122,0,0)"/>
<rect x="2.90" y="411.70" width="24.40" height="3.40" fill="rgb(110,0,0)"/>
<rect x="2.90" y="414.70" width="24.40" height="3.35" fill="rgb(98,0,0)"/>
<rect x="2.90" y="417.65" width="24.40" height="2.90" fill="rgb(128,0,0)"/>
<rect x="2.90" y="420.15" width="24.40" height="3.40" fill="rgb(142,2,2)"/>
<rect x="2.90" y="423.15" width="24.40" height="0.85" fill="rgb(113,0,0)"/>
<rect x="2.90" y="423.60" width="24.40" height="3.40" fill="rgb(157,4,4)"/>
<rect x="2.90" y="426.60" width="24.40" height="3.35" fill="rgb(157,4,4)"/>
<rect x="2.90" y="429.55" width="24.40" height="2.90" fill="rgb(139,2,2)"/>
<rect x="2.90" y="432.05" width="24.40" height="3.40" fill="rgb(135,1,1)"/>
<rect x="2.90" y="435.05" width="24.40" height="0.85" fill="rgb(137,1,1)"/>
<rect x="2.90" y="435.50" width="24.40" height="2.90" fill="rgb(172,6,6)"/>
<rect x="2.90" y="438.00" width="24.40" height="3.40" fill="rgb(157,4,4)"/>
<rect x="2.90" y="441.00" width="24.40" height="0.85" fill="rgb(174,7,7)"/>
<rect x="2.90" y="441.45" width="24.40" height="1.90" fill="rgb(148,2,2)"/>
<rect x="2.90" y="442.95" width="24.40" height="2.40" fill="rgb(160,4,4)"/>
<rect x="2.90" y="444.95" width="24.40" height="2.85" fill="rgb(160,4,4)"/>
<rect x="26.90" y="376.00" width="24.40" height="1.90" fill="rgb(97,0,0)"/>
<rect x="26.90" y="377.50" width="24.40" height="2.40" fill="rgb(101,0,0)"/>
<rect x="26.90" y="379.50" width="24.40" height="2.85" fill="rgb(90,0,0)"/>
<rect x="26.90" y="381.95" width="24.40" height="1.90" fill="rgb(65,0,0)"/>
<rect x="26.90" y="383.45" width="24.40" height="2.90" fill="rgb(86,0,0)"/>
<rect x="26.90" y="385.95" width="24.40" height="2.35" fill="rgb(74,0,0)"/>
<rect x="26.90" y="387.90" width="24.40" height="2.40" fill="rgb(76,0,0)"/>
<rect x="26.90" y="389.90" width="24.40" height="1.90" fill="rgb(74,0,0)"/>
<rect x="26.90" y="391.40" width="24.40" height="1.90" fill="rgb(92,0,0)"/>
<rect x="26.90" y="392.90" width="24.40" height="1.35" fill="rgb(89,0,0)"/>
<rect x="26.90" y="393.85" width="24.40" height="3.40" fill="rgb(67,0,0)"/>
<rect x="26.90" y="396.85" width="24.40" height="2.90" fill="rgb(61,0,0)"/>
<rect x="26.90" y="399.35" width="24.40" height="0.85" fill="rgb(59,0,0)"/>
<rect x="26.90" y="399.80" width="24.40" height="3.40" fill="rgb(103,0,0)"/>
<rect x="26.90" y="402.80" width="24.40" height="3.35" fill="rgb(107,0,0)"/>
<rect x="26.90" y="405.75" width="24.40" height="2.40" fill="rgb(109,0,0)"/>
<rect x="26.90" y="407.75" width="24.40" height="1.90" fill="rgb(97,0,0)"/>
<rect x="26.90" y="409.25" width="24.40" height="2.85" fill="rgb(108,0,0)"/>
<rect x="26.90" y="411.70" width="24.40" height="2.90" fill="rgb(98,0,0)"/>
<rect x="26.90" y="414.20" width="24.40" height="3.40" fill="rgb(104,0,0)"/>
<rect x="26.90" y="417.20" width="24.40" height="0.85" fill="rgb(104,0,0)"/>
<rect x="26.90" y="417.65" width="24.40" height="1.90" fill="rgb(132,1,1)"/>
<rect x="26.90" y="419.15" width="24.40" height="2.40" fill="rgb(113,0,0)"/>
<rect x="26.90" y="421.15" width="24.40" height="2.85" fill="rgb(131,1,1)"/>
<rect x="26.90" y="423.60" width="24.40" height="1.90" fill="rgb(107,0,0)"/>
<rect x="26.90" y="425.10" width="24.40" height="2.40" fill="rgb(113,0,0)"/>
<rect x="26.90" y="427.10" width="24.40" height="2.40" fill="rgb(106,0,0)"/>
<rect x="26.90" y="429.10" width="24.40" height="0.85" fill="rgb(114,0,0)"/>
<rect x="26.90" y="429.55" width="24.40" height="1.90" fill="rgb(114,0,0)"/>
<rect x="26.90" y="431.05" width="24.40" height="2.90" fill="rgb(131,1,1)"/>
<rect x="26.90" y="433.55" width="24.40" height="2.35" fill="rgb(117,0,0)"/>
<rect x="26.90" y="435.50" width="24.40" height="3.40" fill="rgb(57,0,0)"/>
<rect x="26.90" y="438.50" width="24.40" height="3.35" fill="rgb(66,0,0)"/>
<rect x="26.90" y="441.45" width="24.40" height="2.90" fill="rgb(103,0,0)"/>
<rect x="26.90" y="443.95" width="24.40" height="1.90" fill="rgb(99,0,0)"/>
<rect x="26.90" y="445.45" width="24.40" height="2.35" fill="rgb(95,0,0)"/>
<rect x="50.90" y="376.00" width="24.40" height="2.40" fill="rgb(112,0,0)"/>
<rect x="50.90" y="378.00" width="24.40" height="2.90" fill="rgb(118,0,0)"/>
<rect x="50.90" y="380.50" width="24.40" height="1.85" fill="rgb(121,0,0)"/>
<rect x="50.90" y="381.95" width="24.40" height="1.90" fill="rgb(91,0,0)"/>
<rect x="50.90" y="383.45" width="24.40" height="2.40" fill="rgb(115,0,0)"/>
<rect x="50.90" y="385.45" width="24.40" height="2.40" fill="rgb(98,0,0)"/>
<rect x="50.90" y="387.45" width="24.40" height="0.85" fill="rgb(98,0,0)"/>
<rect x="50.90" y="387.90" width="24.40" height="1.90" fill="rgb(92,0,0)"/>
<rect x="50.90" y="389.40" width="24.40" height="3.40" fill="rgb(89,0,0)"/>
<rect x="50.90" y="392.40" width="24.40" height="1.85" fill="rgb(80,0,0)"/>
<rect x="50.90" y="393.85" width="24.40" height="1.90" fill="rgb(91,0,0)"/>
<rect x="50.90" y="395.35" width="24.40" height="2.90" fill="rgb(81,0,0)"/>
<rect x="50.90" y="397.85" width="24.40" height="2.35" fill="rgb(82,0,0)"/>
<rect x="50.90" y="399.80" width="24.40" height="2.90" fill="rgb(115,0,0)"/>
<rect x="50.90" y="402.30" width="24.40" height="2.40" fill="rgb(118,0,0)"/>
<rect x="50.90" y="404.30" width="24.40" height="1.85" fill="rgb(124,0,0)"/>
<rect x="50.90" y="405.75" width="24.40" height="2.40" fill="rgb(119,0,0)"/>
<rect x="50.90" y="407.75" width="24.40" height="1.90" fill="rgb(114,0,0)"/>
<rect x="50.90" y="409.25" width="24.40" height="2.85" fill="rgb(127,0,0)"/>
<rect x="50.90" y="411.70" width="24.40" height="1.90" fill="rgb(114,0,0)"/>
<rect x="50.90" y="413.20" width="24.40" height="3.40" fill="rgb(121,0,0)"/>
<rect x="50.90" y="416.20" width="24.40" height="1.85" fill="rgb(119,0,0)"/>
<rect x="50.90" y="417.65" width="24.40" height="2.90" fill="rgb(111,0,0)"/>
<rect x="50.90" y="420.15" width="24.40" height="2.90" fill="rgb(108,0,0)"/>
<rect x="50.90" y="422.65" width="24.40" height="1.35" fill="rgb(108,0,0)"/>
<rect x="50.90" y="423.60" width="24.40" height="1.90" fill="rgb(111,0,0)"/>
<rect x="50.90" y="425.10" width="24.40" height="3.40" fill="rgb(119,0,0)"/>
<rect x="50.90" y="428.10" width="24.40" height="1.85" fill="rgb(126,0,0)"/>
<rect x="50.90" y="429.55" width="24.40" height="2.40" fill="rgb(100,0,0)"/>
<rect x="50.90" y="431.55" width="24.40" height="3.40" fill="rgb(109,0,0)"/>
<rect x="50.90" y="434.55" width="24.40" height="1.35" fill="rgb(110,0,0)"/>
<rect x="50.90" y="435.50" width="24.40" height="1.90" fill="rgb(83,0,0)"/>
<rect x="50.90" y="437.00" width="24.40" height="3.40" fill="rgb(84,0,0)"/>
<rect x="50.90" y="440.00" width="24.40" height="1.85" fill="rgb(77,0,0)"/>
<rect x="50.90" y="441.45" width="24.40" height="1.90" fill="rgb(108,0,0)"/>
<rect x="50.90" y="442.95" width="24.40" height="3.40" fill="rgb(110,0,0)"/>
<rect x="50.90" y="445.95" width="24.40" height="1.85" fill="rgb(119,0,0)"/>
<rect x="74.90" y="376.00" width="24.40" height="1.90" fill="rgb(18,156,18)"/>
<rect x="74.90" y="377.50" width="24.40" height="2.40" fill="rgb(14,150,14)"/>
<rect x="74.90" y="379.50" width="24.40" height="2.40" fill="rgb(17,154,17)"/>
<rect x="74.90" y="381.50" width="24.40" height="0.85" fill="rgb(24,165,24)"/>
<rect x="74.90" y="381.95" width="24.40" height="2.90" fill="rgb(21,160,21)"/>
<rect x="74.90" y="384.45" width="24.40" height="2.90" fill="rgb(20,159,20)"/>
<rect x="74.90" y="386.95" width="24.40" height="1.35" fill="rgb(14,149,14)"/>
<rect x="74.90" y="387.90" width="24.40" height="3.40" fill="rgb(8,140,8)"/>
<rect x="74.90" y="390.90" width="24.40" height="3.35" fill="rgb(11,144,11)"/>
<rect x="74.90" y="393.85" width="24.40" height="1.90" fill="rgb(8,137,8)"/>
<rect x="74.90" y="395.35" width="24.40" height="2.40" fill="rgb(13,147,13)"/>
<rect x="74.90" y="397.35" width="24.40" height="1.90" fill="rgb(14,148,14)"/>
<rect x="74.90" y="398.85" width="24.40" height="1.35" fill="rgb(14,149,14)"/>
<rect x="74.90" y="399.80" width="24.40" height="2.40" fill="rgb(3,122,3)"/>
<rect x="74.90" y="401.80" width="24.40" height="1.90" fill="rgb(1,113,1)"/>
<rect x="74.90" y="403.30" width="24.40" height="1.90" fill="rgb(3,123,3)"/>
<rect x="74.90" y="404.80" width="24.40" height="1.35" fill="rgb(8,137,8)"/>
<rect x="74.90" y="405.75" width="24.40" height="1.90" fill="rgb(7,135,7)"/>
<rect x="74.90" y="407.25" width="24.40" height="3.40" fill="rgb(11,144,11)"/>
<rect x="74.90" y="410.25" width="24.40" height="1.85" fill="rgb(15,151,15)"/>
<rect x="74.90" y="411.70" width="24.40" height="2.40" fill="rgb(8,138,8)"/>
<rect x="74.90" y="413.70" width="24.40" height="2.90" fill="rgb(8,140,8)"/>
<rect x="74.90" y="416.20" width="24.40" height="1.85" fill="rgb(14,149,14)"/>
<rect x="74.90" y="417.65" width="24.40" height="3.40" fill="rgb(10,142,10)"/>
<rect x="74.90" y="420.65" width="24.40" height="2.90" fill="rgb(22,162,22)"/>
<rect x="74.90" y="423.15" width="24.40" height="0.85" fill="rgb(13,147,13)"/>
<rect x="74.90" y="423.60" width="24.40" height="2.40" fill="rgb(19,157,19)"/>
<rect x="74.90" y="425.60" width="24.40" height="1.90" fill="rgb(12,145,12)"/>
<rect x="74.90" y="427.10" width="24.40" height="1.90" fill="rgb(13,148,13)"/>
<rect x="74.90" y="428.60" width="24.40" height="1.35" fill="rgb(4,125,4)"/>
<rect x="74.90" y="429.55" width="24.40" height="2.40" fill="rgb(7,133,7)"/>
<rect x="74.90" y="431.55" width="24.40" height="3.40" fill="rgb(15,151,15)"/>
<rect x="74.90" y="434.55" width="24.40" height="1.35" fill="rgb(5,127,5)"/>
<rect x="74.90" y="435.50" width="24.40" height="3.40" fill="rgb(8,138,8)"/>
<rect x="74.90" y="438.50" width="24.40" height="3.35" fill="rgb(9,141,9)"/>
<rect x="74.90" y="441.45" width="24.40" height="2.90" fill="rgb(9,140,9)"/>
<rect x="74.90" y="443.95" width="24.40" height="2.40" fill="rgb(16,153,16)"/>
<rect x="74.90" y="445.95" width="24.40" height="1.85" fill="rgb(9,141,9)"/>
<rect x="98.90" y="376.00" width="24.40" height="3.40" fill="rgb(5,127,5)"/>
<rect x="98.90" y="379.00" width="24.40" height="2.90" fill="rgb(1,114,1)"/>
<rect x="98.90" y="381.50" width="24.40" height="0.85" fill="rgb(4,123,4)"/>
<rect x="98.90" y="381.95" width="24.40" height="3.40" fill="rgb(4,124,4)"/>
<rect x="98.90" y="384.95" width="24.40" height="1.90" fill="rgb(5,129,5)"/>
<rect x="98.90" y="386.45" width="24.40" height="1.85" fill="rgb(3,119,3)"/>
<rect x="98.90" y="387.90" width="24.40" height="2.90" fill="rgb(0,98,0)"/>
<rect x="98.90" y="390.40" width="24.40" height="1.90" fill="rgb(0,92,0)"/>
<rect x="98.90" y="391.90" width="24.40" height="2.35" fill="rgb(0,102,0)"/>
<rect x="98.90" y="393.85" width="24.40" height="2.40" fill="rgb(0,85,0)"/>
<rect x="98.90" y="395.85" width="24.40" height="2.40" fill="rgb(0,93,0)"/>
<rect x="98.90" y="397.85" width="24.40" height="2.35" fill="rgb(0,89,0)"/>
<rect x="98.90" y="399.80" width="24.40" height="1.90" fill="rgb(4,126,4)"/>
<rect x="98.90" y="401.30" width="24.40" height="1.90" fill="rgb(7,136,7)"/>
<rect x="98.90" y="402.80" width="24.40" height="3.35" fill="rgb(3,122,3)"/>
<rect x="98.90" y="405.75" width="24.40" height="1.90" fill="rgb(0,108,0)"/>
<rect x="98.90" y="407.25" width="24.40" height="2.90" fill="rgb(0,98,0)"/>
<rect x="98.90" y="409.75" width="24.40" height="1.90" fill="rgb(0,101,0)"/>
<rect x="98.90" y="411.25" width="24.40" height="0.85" fill="rgb(1,113,1)"/>
<rect x="98.90" y="411.70" width="24.40" height="1.90" fill="rgb(4,125,4)"/>
<rect x="98.90" y="413.20" width="24.40" height="2.40" fill="rgb(5,130,5)"/>
<rect x="98.90" y="415.20" width="24.40" height="1.90" fill="rgb(4,124,4)"/>
<rect x="98.90" y="416.70" width="24.40" height="1.35" fill="rgb(5,129,5)"/>
<rect x="98.90" y="417.65" width="24.40" height="2.40" fill="rgb(0,95,0)"/>
<rect x="98.90" y="419.65" width="24.40" height="2.90" fill="rgb(0,103,0)"/>
<rect x="98.90" y="422.15" width="24.40" height="1.85" fill="rgb(0,102,0)"/>
<rect x="98.90" y="423.60" width="24.40" height="2.40" fill="rgb(0,100,0)"/>
<rect x="98.90" y="425.60" width="24.40" height="2.90" fill="rgb(0,96,0)"/>
<rect x="98.90" y="428.10" width="24.40" height="1.85" fill="rgb(0,102,0)"/>
<rect x="98.90" y="429.55" width="24.40" height="3.40" fill="rgb(2,115,2)"/>
<rect x="98.90" y="432.55" width="24.40" height="1.90" fill="rgb(3,121,3)"/>
<rect x="98.90" y="434.05" width="24.40" height="1.85" fill="rgb(2,115,2)"/>
<rect x="98.90" y="435.50" width="24.40" height="2.40" fill="rgb(1,111,1)"/>
<rect x="98.90" y="437.50" width="24.40" height="1.90" fill="rgb(1,111,1)"/>
<rect x="98.90" y="439.00" width="24.40" height="2.85" fill="rgb(0,94,0)"/>
<rect x="98.90" y="441.45" width="24.40" height="1.90" fill="rgb(5,129,5)"/>
<rect x="98.90" y="442.95" width="24.40" height="2.90" fill="rgb(0,104,0)"/>
<rect x="98.90" y="445.45" width="24.40" height="1.90" fill="rgb(4,126,4)"/>
<rect x="98.90" y="446.95" width="24.40" height="0.85" fill="rgb(3,119,3)"/>
<rect x="122.90" y="376.00" width="24.00" height="1.90" fill="rgb(7,136,7)"/>
<rect x="122.90" y="377.50" width="24.00" height="2.40" fill="rgb(2,118,2)"/>
<rect x="122.90" y="379.50" width="24.00" height="2.85" fill="rgb(5,128,5)"/>
<rect x="122.90" y="381.95" width="24.00" height="3.40" fill="rgb(0,108,0)"/>
<rect x="122.90" y="384.95" width="24.00" height="3.35" fill="rgb(1,110,1)"/>
<rect x="122.90" y="387.90" width="24.00" height="2.90" fill="rgb(4,125,4)"/>
<rect x="122.90" y="390.40" width="24.00" height="2.90" fill="rgb(2,116,2)"/>
<rect x="122.90" y="392.90" width="24.00" height="1.35" fill="rgb(3,122,3)"/>
<rect x="122.90" y="393.85" width="24.00" height="3.40" fill="rgb(4,126,4)"/>
<rect x="122.90" y="396.85" width="24.00" height="2.90" fill="rgb(7,134,7)"/>
<rect x="122.90" y="399.35" width="24.00" height="0.85" fill="rgb(1,110,1)"/>
<rect x="122.90" y="399.80" width="24.00" height="3.40" fill="rgb(3,120,3)"/>
<rect x="122.90" y="402.80" width="24.00" height="2.40" fill="rgb(2,116,2)"/>
<rect x="122.90" y="404.80" width="24.00" height="1.35" fill="rgb(3,123,3)"/>
<rect x="122.90" y="405.75" width="24.00" height="1.90" fill="rgb(4,125,4)"/>
<rect x="122.90" y="407.25" width="24.00" height="1.90" fill="rgb(3,120,3)"/>
<rect x="122.90" y="408.75" width="24.00" height="3.35" fill="rgb(3,121,3)"/>
<rect x="122.90" y="411.70" width="24.00" height="2.90" fill="rgb(5,129,5)"/>
<rect x="122.90" y="414.20" width="24.00" height="3.40" fill="rgb(3,119,3)"/>
<rect x="122.90" y="417.20" width="24.00" height="0.85" fill="rgb(0,107,0)"/>
<rect x="122.90" y="417.65" width="24.00" height="1.90" fill="rgb(5,128,5)"/>
<rect x="122.90" y="419.15" width="24.00" height="2.90" fill="rgb(4,123,4)"/>
<rect x="122.90" y="421.65" width="24.00" height="2.35" fill="rgb(3,121,3)"/>
<rect x="122.90" y="423.60" width="24.00" height="2.40" fill="rgb(6,133,6)"/>
<rect x="122.90" y="425.60" width="24.00" height="3.40" fill="rgb(2,117,2)"/>
<rect x="122.90" y="428.60" width="24.00" height="1.35" fill="rgb(4,126,4)"/>
<rect x="122.90" y="429.55" width="24.00" height="1.90" fill="rgb(0,107,0)"/>
<rect x="122.90" y="431.05" width="24.00" height="1.90" fill="rgb(2,114,2)"/>
<rect x="122.90" y="432.55" width="24.00" height="1.90" fill="rgb(2,117,2)"/>
<rect x="122.90" y="434.05" width="24.00" height="1.85" fill="rgb(2,117,2)"/>
<rect x="122.90" y="435.50" width="24.00" height="1.90" fill="rgb(0,102,0)"/>
<rect x="122.90" y="437.00" width="24.00" height="3.40" fill="rgb(2,117,2)"/>
<rect x="122.90" y="440.00" width="24.00" height="1.85" fill="rgb(1,111,1)"/>
<rect x="122.90" y="441.45" width="24.00" height="2.40" fill="rgb(3,120,3)"/>
<rect x="122.90" y="443.45" width="24.00" height="2.90" fill="rgb(3,119,3)"/>
<rect x="122.90" y="445.95" width="24.00" height="1.85" fill="rgb(5,128,5)"/>
<rect x="2.90" y="447.40" width="24.40" height="2.40" fill="rgb(22,162,22)"/>
<rect x="2.90" y="449.40" width="24.40" height="2.90" fill="rgb(23,163,23)"/>
<rect x="2.90" y="451.90" width="24.40" height="1.78" fill="rgb(25,167,25)"/>
<rect x="2.90" y="453.28" width="24.40" height="3.40" fill="rgb(30,176,30)"/>
<rect x="2.90" y="456.28" width="24.40" height="1.90" fill="rgb(30,176,30)"/>
<rect x="2.90" y="457.78" width="24.40" height="1.78" fill="rgb(30,176,30)"/>
<rect x="2.90" y="459.17" width="24.40" height="2.90" fill="rgb(14,149,14)"/>
<rect x="2.90" y="461.67" width="24.40" height="1.90" fill="rgb(16,152,16)"/>
<rect x="2.90" y="463.17" width="24.40" height="2.28" fill="rgb(15,151,15)"/>
<rect x="2.90" y="465.05" width="24.40" height="3.40" fill="rgb(4,126,4)"/>
<rect x="2.90" y="468.05" width="24.40" height="2.40" fill="rgb(11,144,11)"/>
<rect x="2.90" y="470.05" width="24.40" height="1.28" fill="rgb(5,128,5)"/>
<rect x="2.90" y="470.93" width="24.40" height="2.90" fill="rgb(4,125,4)"/>
<rect x="2.90" y="473.43" width="24.40" height="2.90" fill="rgb(4,125,4)"/>
<rect x="2.90" y="475.93" width="24.40" height="1.28" fill="rgb(4,125,4)"/>
<rect x="2.90" y="476.82" width="24.40" height="3.40" fill="rgb(0,98,0)"/>
<rect x="2.90" y="479.82" width="24.40" height="2.40" fill="rgb(0,91,0)"/>
<rect x="2.90" y="481.82" width="24.40" height="1.28" fill="rgb(0,89,0)"/>
<rect x="2.90" y="482.70" width="24.40" height="2.40" fill="rgb(0,74,0)"/>
<rect x="2.90" y="484.70" width="24.40" height="1.90" fill="rgb(0,44,0)"/>
<rect x="2.90" y="486.20" width="24.40" height="2.78" fill="rgb(0,65,0)"/>
<rect x="2.90" y="488.58" width="24.40" height="3.40" fill="rgb(7,136,7)"/>
<rect x="2.90" y="491.58" width="24.40" height="1.90" fill="rgb(8,138,8)"/>
<rect x="2.90" y="493.08" width="24.40" height="1.78" fill="rgb(10,143,10)"/>
<rect x="2.90" y="494.47" width="24.40" height="1.90" fill="rgb(22,163,22)"/>
<rect x="2.90" y="495.97" width="24.40" height="3.40" fill="rgb(28,173,28)"/>
<rect x="2.90" y="498.97" width="24.40" height="1.78" fill="rgb(24,166,24)"/>
<rect x="2.90" y="500.35" width="24.40" height="2.90" fill="rgb(21,162,21)"/>
<rect x="2.90" y="502.85" width="24.40" height="2.40" fill="rgb(21,161,21)"/>
<rect x="2.90" y="504.85" width="24.40" height="1.78" fill="rgb(30,176,30)"/>
<rect x="2.90" y="506.23" width="24.40" height="3.40" fill="rgb(12,147,12)"/>
<rect x="2.90" y="509.23" width="24.40" height="2.90" fill="rgb(12,146,12)"/>
<rect x="2.90" y="511.73" width="24.40" height="0.78" fill="rgb(17,154,17)"/>
<rect x="2.90" y="512.12" width="24.40" height="2.90" fill="rgb(17,154,17)"/>
<rect x="2.90" y="514.62" width="24.40" height="2.40" fill="rgb(8,138,8)"/>
<rect x="2.90" y="516.62" width="24.40" height="1.78" fill="rgb(6,133,6)"/>
<rect x="26.90" y="447.40" width="24.40" height="2.40" fill="rgb(0,85,0)"/>
<rect x="26.90" y="449.40" width="24.40" height="2.90" fill="rgb(0,92,0)"/>
<rect x="26.90" y="451.90" width="24.40" height="1.78" fill="rgb(0,78,0)"/>
<rect x="26.90" y="453.28" width="24.40" height="2.40" fill="rgb(0,75,0)"/>
<rect x="26.90" y="455.28" width="24.40" height="1.90" fill="rgb(0,82,0)"/>
<rect x="26.90" y="456.78" width="24.40" height="1.90" fill="rgb(0,89,0)"/>
<rect x="26.90" y="458.28" width="24.40" height="1.28" fill="rgb(0,65,0)"/>
<rect x="26.90" y="459.17" width="24.40" height="1.90" fill="rgb(2,115,2)"/>
<rect x="26.90" y="460.67" width="24.40" height="3.40" fill="rgb(0,103,0)"/>
<rect x="26.90" y="463.67" width="24.40" height="1.78" fill="rgb(0,105,0)"/>
<rect x="26.90" y="465.05" width="24.40" height="2.40" fill="rgb(0,82,0)"/>
<rect x="26.90" y="467.05" width="24.40" height="2.90" fill="rgb(0,90,0)"/>
<rect x="26.90" y="469.55" width="24.40" height="1.78" fill="rgb(0,78,0)"/>
<rect x="26.90" y="470.93" width="24.40" height="2.40" fill="rgb(1,110,1)"/>
<rect x="26.90" y="472.93" width="24.40" height="3.40" fill="rgb(0,102,0)"/>
<rect x="26.90" y="475.93" width="24.40" height="1.28" fill="rgb(0,99,0)"/>
<rect x="26.90" y="476.82" width="24.40" height="2.40" fill="rgb(0,91,0)"/>
<rect x="26.90" y="478.82" width="24.40" height="2.90" fill="rgb(0,109,0)"/>
<rect x="26.90" y="481.32" width="24.40" height="1.78" fill="rgb(0,100,0)"/>
<rect x="26.90" y="482.70" width="24.40" height="1.90" fill="rgb(0,88,0)"/>
<rect x="26.90" y="484.20" width="24.40" height="2.90" fill="rgb(0,82,0)"/>
<rect x="26.90" y="486.70" width="24.40" height="2.28" fill="rgb(0,84,0)"/>
<rect x="26.90" y="488.58" width="24.40" height="2.90" fill="rgb(0,103,0)"/>
<rect x="26.90" y="491.08" width="24.40" height="2.40" fill="rgb(0,107,0)"/>
<rect x="26.90" y="493.08" width="24.40" height="1.78" fill="rgb(0,95,0)"/>
<rect x="26.90" y="494.47" width="24.40" height="2.40" fill="rgb(0,83,0)"/>
<rect x="26.90" y="496.47" width="24.40" height="1.90" fill="rgb(0,98,0)"/>
<rect x="26.90" y="497.97" width="24.40" height="1.90" fill="rgb(0,86,0)"/>
<rect x="26.90" y="499.47" width="24.40" height="1.28" fill="rgb(0,89,0)"/>
<rect x="26.90" y="500.35" width="24.40" height="2.40" fill="rgb(0,75,0)"/>
<rect x="26.90" y="502.35" width="24.40" height="3.40" fill="rgb(0,60,0)"/>
<rect x="26.90" y="505.35" width="24.40" height="1.28" fill="rgb(0,69,0)"/>
<rect x="26.90" y="506.23" width="24.40" height="1.90" fill="rgb(0,88,0)"/>
<rect x="26.90" y="507.73" width="24.40" height="2.90" fill="rgb(0,96,0)"/>
<rect x="26.90" y="510.23" width="24.40" height="2.28" fill="rgb(0,88,0)"/>
<rect x="26.90" y="512.12" width="24.40" height="2.40" fill="rgb(0,91,0)"/>
<rect x="26.90" y="514.12" width="24.40" height="3.40" fill="rgb(0,70,0)"/>
<rect x="26.90" y="517.12" width="24.40" height="1.28" fill="rgb(0,78,0)"/>
<rect x="50.90" y="447.40" width="24.40" height="2.40" fill="rgb(2,115,2)"/>
<rect x="50.90" y="449.40" width="24.40" height="1.90" fill="rgb(0,90,0)"/>
<rect x="50.90" y="450.90" width="24.40" height="1.90" fill="rgb(0,104,0)"/>
<rect x="50.90" y="452.40" width="24.40" height="1.28" fill="rgb(0,105,0)"/>
<rect x="50.90" y="453.28" width="24.40" height="1.90" fill="rgb(0,49,0)"/>
<rect x="50.90" y="454.78" width="24.40" height="2.40" fill="rgb(0,50,0)"/>
<rect x="50.90" y="456.78" width="24.40" height="1.90" fill="rgb(0,51,0)"/>
<rect x="50.90" y="458.28" width="24.40" height="1.28" fill="rgb(0,50,0)"/>
<rect x="50.90" y="459.17" width="24.40" height="2.40" fill="rgb(0,89,0)"/>
<rect x="50.90" y="461.17" width="24.40" height="3.40" fill="rgb(0,75,0)"/>
<rect x="50.90" y="464.17" width="24.40" height="1.28" fill="rgb(0,90,0)"/>
<rect x="50.90" y="465.05" width="24.40" height="1.90" fill="rgb(0,91,0)"/>
<rect x="50.90" y="466.55" width="24.40" height="3.40" fill="rgb(0,95,0)"/>
<rect x="50.90" y="469.55" width="24.40" height="1.78" fill="rgb(1,110,1)"/>
<rect x="50.90" y="470.93" width="24.40" height="1.90" fill="rgb(0,108,0)"/>
<rect x="50.90" y="472.43" width="24.40" height="2.90" fill="rgb(0,104,0)"/>
<rect x="50.90" y="474.93" width="24.40" height="2.28" fill="rgb(0,103,0)"/>
<rect x="50.90" y="476.82" width="24.40" height="2.90" fill="rgb(0,95,0)"/>
<rect x="50.90" y="479.32" width="24.40" height="2.90" fill="rgb(0,98,0)"/>
<rect x="50.90" y="481.82" width="24.40" height="1.28" fill="rgb(0,98,0)"/>
<rect x="50.90" y="482.70" width="24.40" height="2.90" fill="rgb(25,167,25)"/>
<rect x="50.90" y="485.20" width="24.40" height="1.90" fill="rgb(22,162,22)"/>
<rect x="50.90" y="486.70" width="24.40" height="2.28" fill="rgb(16,152,16)"/>
<rect x="50.90" y="488.58" width="24.40" height="2.40" fill="rgb(25,168,25)"/>
<rect x="50.90" y="490.58" width="24.40" height="1.90" fill="rgb(19,158,19)"/>
<rect x="50.90" y="492.08" width="24.40" height="2.40" fill="rgb(14,149,14)"/>
<rect x="50.90" y="494.08" width="24.40" height="0.78" fill="rgb(18,155,18)"/>
<rect x="50.90" y="494.47" width="24.40" height="2.90" fill="rgb(0,107,0)"/>
<rect x="50.90" y="496.97" width="24.40" height="2.90" fill="rgb(0,105,0)"/>
<rect x="50.90" y="499.47" width="24.40" height="1.28" fill="rgb(0,105,0)"/>
<rect x="50.90" y="500.35" width="24.40" height="1.90" fill="rgb(0,81,0)"/>
<rect x="50.90" y="501.85" width="24.40" height="2.40" fill="rgb(0,90,0)"/>
<rect x="50.90" y="503.85" width="24.40" height="1.90" fill="rgb(0,91,0)"/>
<rect x="50.90" y="505.35" width="24.40" height="1.28" fill="rgb(0,82,0)"/>
<rect x="50.90" y="506.23" width="24.40" height="2.90" fill="rgb(0,69,0)"/>
<rect x="50.90" y="508.73" width="24.40" height="2.40" fill="rgb(0,94,0)"/>
<rect x="50.90" y="510.73" width="24.40" height="1.78" fill="rgb(0,76,0)"/>
<rect x="50.90" y="512.12" width="24.40" height="2.40" fill="rgb(0,92,0)"/>
<rect x="50.90" y="514.12" width="24.40" height="2.90" fill="rgb(0,92,0)"/>
<rect x="50.90" y="516.62" width="24.40" height="1.78" fill="rgb(0,89,0)"/>
<rect x="74.90" y="447.40" width="24.40" height="2.40" fill="rgb(147,2,2)"/>
<rect x="74.90" y="449.40" width="24.40" height="1.90" fill="rgb(137,1,1)"/>
<rect x="74.90" y="450.90" width="24.40" height="2.40" fill="rgb(144,2,2)"/>
<rect x="74.90" y="452.90" width="24.40" height="0.78" fill="rgb(135,1,1)"/>
<rect x="74.90" y="453.28" width="24.40" height="2.40" fill="rgb(140,2,2)"/>
<rect x="74.90" y="455.28" width="24.40" height="3.40" fill="rgb(141,2,2)"/>
<rect x="74.90" y="458.28" width="24.40" height="1.28" fill="rgb(136,1,1)"/>
<rect x="74.90" y="459.17" width="24.40" height="1.90" fill="rgb(145,2,2)"/>
<rect x="74.90" y="460.67" width="24.40" height="1.90" fill="rgb(151,3,3)"/>
<rect x="74.90" y="462.17" width="24.40" height="3.28" fill="rgb(136,1,1)"/>
<rect x="74.90" y="465.05" width="24.40" height="3.40" fill="rgb(141,2,2)"/>
<rect x="74.90" y="468.05" width="24.40" height="3.28" fill="rgb(139,2,2)"/>
<rect x="74.90" y="470.93" width="24.40" height="2.40" fill="rgb(139,2,2)"/>
<rect x="74.90" y="472.93" width="24.40" height="1.90" fill="rgb(152,3,3)"/>
<rect x="74.90" y="474.43" width="24.40" height="1.90" fill="rgb(138,1,1)"/>
<rect x="74.90" y="475.93" width="24.40" height="1.28" fill="rgb(144,2,2)"/>
<rect x="74.90" y="476.82" width="24.40" height="1.90" fill="rgb(169,6,6)"/>
<rect x="74.90" y="478.32" width="24.40" height="2.40" fill="rgb(174,7,7)"/>
<rect x="74.90" y="480.32" width="24.40" height="2.78" fill="rgb(180,9,9)"/>
<rect x="74.90" y="482.70" width="24.40" height="2.90" fill="rgb(150,3,3)"/>
<rect x="74.90" y="485.20" width="24.40" height="2.40" fill="rgb(143,2,2)"/>
<rect x="74.90" y="487.20" width="24.40" height="1.78" fill="rgb(124,0,0)"/>
<rect x="74.90" y="488.58" width="24.40" height="1.90" fill="rgb(148,2,2)"/>
<rect x="74.90" y="490.08" width="24.40" height="3.40" fill="rgb(143,2,2)"/>
<rect x="74.90" y="493.08" width="24.40" height="1.78" fill="rgb(147,2,2)"/>
<rect x="74.90" y="494.47" width="24.40" height="2.40" fill="rgb(159,4,4)"/>
<rect x="74.90" y="496.47" width="24.40" height="1.90" fill="rgb(148,2,2)"/>
<rect x="74.90" y="497.97" width="24.40" height="2.78" fill="rgb(137,1,1)"/>
<rect x="74.90" y="500.35" width="24.40" height="1.90" fill="rgb(146,2,2)"/>
<rect x="74.90" y="501.85" width="24.40" height="2.90" fill="rgb(147,2,2)"/>
<rect x="74.90" y="504.35" width="24.40" height="2.28" fill="rgb(139,2,2)"/>
<rect x="74.90" y="506.23" width="24.40" height="2.40" fill="rgb(127,0,0)"/>
<rect x="74.90" y="508.23" width="24.40" height="1.90" fill="rgb(130,1,1)"/>
<rect x="74.90" y="509.73" width="24.40" height="2.78" fill="rgb(124,0,0)"/>
<rect x="74.90" y="512.12" width="24.40" height="2.40" fill="rgb(154,3,3)"/>
<rect x="74.90" y="514.12" width="24.40" height="3.40" fill="rgb(149,3,3)"/>
<rect x="74.90" y="517.12" width="24.40" height="1.28" fill="rgb(153,3,3)"/>
<rect x="98.90" y="447.40" width="24.40" height="1.90" fill="rgb(104,0,0)"/>
<rect x="98.90" y="448.90" width="24.40" height="1.90" fill="rgb(101,0,0)"/>
<rect x="98.90" y="450.40" width="24.40" height="2.90" fill="rgb(96,0,0)"/>
<rect x="98.90" y="452.90" width="24.40" height="0.78" fill="rgb(102,0,0)"/>
<rect x="98.90" y="453.28" width="24.40" height="2.90" fill="rgb(82,0,0)"/>
<rect x="98.90" y="455.78" width="24.40" height="2.40" fill="rgb(82,0,0)"/>
<rect x="98.90" y="457.78" width="24.40" height="1.78" fill="rgb(77,0,0)"/>
<rect x="98.90" y="459.17" width="24.40" height="3.40" fill="rgb(111,0,0)"/>
<rect x="98.90" y="462.17" width="24.40" height="3.28" fill="rgb(102,0,0)"/>
<rect x="98.90" y="465.05" width="24.40" height="3.40" fill="rgb(120,0,0)"/>
<rect x="98.90" y="468.05" width="24.40" height="2.40" fill="rgb(110,0,0)"/>
<rect x="98.90" y="470.05" width="24.40" height="1.28" fill="rgb(109,0,0)"/>
<rect x="98.90" y="470.93" width="24.40" height="2.40" fill="rgb(91,0,0)"/>
<rect x="98.90" y="472.93" width="24.40" height="3.40" fill="rgb(90,0,0)"/>
<rect x="98.90" y="475.93" width="24.40" height="1.28" fill="rgb(109,0,0)"/>
<rect x="98.90" y="476.82" width="24.40" height="2.90" fill="rgb(97,0,0)"/>
<rect x="98.90" y="479.32" width="24.40" height="2.40" fill="rgb(96,0,0)"/>
<rect x="98.90" y="481.32" width="24.40" height="1.78" fill="rgb(101,0,0)"/>
<rect x="98.90" y="482.70" width="24.40" height="3.40" fill="rgb(95,0,0)"/>
<rect x="98.90" y="485.70" width="24.40" height="1.90" fill="rgb(103,0,0)"/>
<rect x="98.90" y="487.20" width="24.40" height="1.78" fill="rgb(103,0,0)"/>
<rect x="98.90" y="488.58" width="24.40" height="2.90" fill="rgb(80,0,0)"/>
<rect x="98.90" y="491.08" width="24.40" height="1.90" fill="rgb(81,0,0)"/>
<rect x="98.90" y="492.58" width="24.40" height="2.28" fill="rgb(80,0,0)"/>
<rect x="98.90" y="494.47" width="24.40" height="2.90" fill="rgb(73,0,0)"/>
<rect x="98.90" y="496.97" width="24.40" height="3.40" fill="rgb(81,0,0)"/>
<rect x="98.90" y="499.97" width="24.40" height="0.78" fill="rgb(83,0,0)"/>
<rect x="98.90" y="500.35" width="24.40" height="3.40" fill="rgb(73,0,0)"/>
<rect x="98.90" y="503.35" width="24.40" height="2.90" fill="rgb(88,0,0)"/>
<rect x="98.90" y="505.85" width="24.40" height="0.78" fill="rgb(83,0,0)"/>
<rect x="98.90" y="506.23" width="24.40" height="1.90" fill="rgb(84,0,0)"/>
<rect x="98.90" y="507.73" width="24.40" height="2.90" fill="rgb(72,0,0)"/>
<rect x="98.90" y="510.23" width="24.40" height="2.28" fill="rgb(80,0,0)"/>
<rect x="98.90" y="512.12" width="24.40" height="1.90" fill="rgb(97,0,0)"/>
<rect x="98.90" y="513.62" width="24.40" height="2.90" fill="rgb(115,0,0)"/>
<rect x="98.90" y="516.12" width="24.40" height="1.90" fill="rgb(96,0,0)"/>
<rect x="98.90" y="517.62" width="24.40" height="0.78" fill="rgb(92,0,0)"/>
<rect x="122.90" y="447.40" width="24.00" height="3.40" fill="rgb(139,2,2)"/>
<rect x="122.90" y="450.40" width="24.00" height="2.40" fill="rgb(143,2,2)"/>
<rect x="122.90" y="452.40" width="24.00" height="1.28" fill="rgb(132,1,1)"/>
<rect x="122.90" y="453.28" width="24.00" height="2.90" fill="rgb(149,3,3)"/>
<rect x="122.90" y="455.78" width="24.00" height="2.90" fill="rgb(145,2,2)"/>
<rect x="122.90" y="458.28" width="24.00" height="1.28" fill="rgb(149,3,3)"/>
<rect x="122.90" y="459.17" width="24.00" height="2.90" fill="rgb(136,1,1)"/>
<rect x="122.90" y="461.67" width="24.00" height="2.40" fill="rgb(135,1,1)"/>
<rect x="122.90" y="463.67" width="24.00" height="1.78" fill="rgb(133,1,1)"/>
<rect x="122.90" y="465.05" width="24.00" height="2.90" fill="rgb(138,2,2)"/>
<rect x="122.90" y="467.55" width="24.00" height="3.40" fill="rgb(131,1,1)"/>
<rect x="122.90" y="470.55" width="24.00" height="0.78" fill="rgb(139,2,2)"/>
<rect x="122.90" y="470.93" width="24.00" height="1.90" fill="rgb(132,1,1)"/>
<rect x="122.90" y="472.43" width="24.00" height="2.90" fill="rgb(138,1,1)"/>
<rect x="122.90" y="474.93" width="24.00" height="1.90" fill="rgb(128,0,0)"/>
<rect x="122.90" y="476.43" width="24.00" height="0.78" fill="rgb(144,2,2)"/>
<rect x="122.90" y="476.82" width="24.00" height="1.90" fill="rgb(116,0,0)"/>
<rect x="122.90" y="478.32" width="24.00" height="1.90" fill="rgb(115,0,0)"/>
<rect x="122.90" y="479.82" width="24.00" height="2.90" fill="rgb(122,0,0)"/>
<rect x="122.90" y="482.32" width="24.00" height="0.78" fill="rgb(126,0,0)"/>
<rect x="122.90" y="482.70" width="24.00" height="1.90" fill="rgb(138,1,1)"/>
<rect x="122.90" y="484.20" width="24.00" height="3.40" fill="rgb(115,0,0)"/>
<rect x="122.90" y="487.20" width="24.00" height="1.78" fill="rgb(123,0,0)"/>
<rect x="122.90" y="488.58" width="24.00" height="1.90" fill="rgb(109,0,0)"/>
<rect x="122.90" y="490.08" width="24.00" height="1.90" fill="rgb(126,0,0)"/>
<rect x="122.90" y="491.58" width="24.00" height="3.28" fill="rgb(122,0,0)"/>
<rect x="122.90" y="494.47" width="24.00" height="2.40" fill="rgb(109,0,0)"/>
<rect x="122.90" y="496.47" width="24.00" height="3.40" fill="rgb(117,0,0)"/>
<rect x="122.90" y="499.47" width="24.00" height="1.28" fill="rgb(122,0,0)"/>
<rect x="122.90" y="500.35" width="24.00" height="1.90" fill="rgb(111,0,0)"/>
<rect x="122.90" y="501.85" width="24.00" height="1.90" fill="rgb(136,1,1)"/>
<rect x="122.90" y="503.35" width="24.00" height="2.90" fill="rgb(119,0,0)"/>
<rect x="122.90" y="505.85" width="24.00" height="0.78" fill="rgb(119,0,0)"/>
<rect x="122.90" y="506.23" width="24.00" height="3.40" fill="rgb(115,0,0)"/>
<rect x="122.90" y="509.23" width="24.00" height="2.40" fill="rgb(132,1,1)"/>
<rect x="122.90" y="511.23" width="24.00" height="1.28" fill="rgb(120,0,0)"/>
<rect x="122.90" y="512.12" width="24.00" height="1.90" fill="rgb(113,0,0)"/>
<rect x="122.90" y="513.62" width="24.00" height="1.90" fill="rgb(125,0,0)"/>
<rect x="122.90" y="515.12" width="24.00" height="1.90" fill="rgb(116,0,0)"/>
<rect x="122.90" y="516.62" width="24.00" height="1.78" fill="rgb(126,0,0)"/>
<rect x="2.90" y="518.00" width="24.40" height="1.90" fill="rgb(23,163,23)"/>
<rect x="2.90" y="519.50" width="24.40" height="1.90" fill="rgb(24,165,24)"/>
<rect x="2.90" y="521.00" width="24.40" height="2.90" fill="rgb(23,163,23)"/>
<rect x="2.90" y="523.50" width="24.40" height="0.82" fill="rgb(30,176,30)"/>
<rect x="2.90" y="523.92" width="24.40" height="3.40" fill="rgb(1,110,1)"/>
<rect x="2.90" y="526.92" width="24.40" height="3.32" fill="rgb(7,135,7)"/>
<rect x="2.90" y="529.83" width="24.40" height="2.40" fill="rgb(4,123,4)"/>
<rect x="2.90" y="531.83" width="24.40" height="1.90" fill="rgb(5,128,5)"/>
<rect x="2.90" y="533.33" width="24.40" height="2.40" fill="rgb(8,137,8)"/>
<rect x="2.90" y="535.33" width="24.40" height="0.82" fill="rgb(8,138,8)"/>
<rect x="2.90" y="535.75" width="24.40" height="3.40" fill="rgb(2,117,2)"/>
<rect x="2.90" y="538.75" width="24.40" height="1.90" fill="rgb(2,118,2)"/>
<rect x="2.90" y="540.25" width="24.40" height="1.82" fill="rgb(6,133,6)"/>
<rect x="2.90" y="541.67" width="24.40" height="1.90" fill="rgb(0,108,0)"/>
<rect x="2.90" y="543.17" width="24.40" height="3.40" fill="rgb(2,118,2)"/>
<rect x="2.90" y="546.17" width="24.40" height="1.82" fill="rgb(3,120,3)"/>
<rect x="2.90" y="547.58" width="24.40" height="3.40" fill="rgb(17,154,17)"/>
<rect x="2.90" y="550.58" width="24.40" height="1.90" fill="rgb(16,153,16)"/>
<rect x="2.90" y="552.08" width="24.40" height="1.82" fill="rgb(12,146,12)"/>
<rect x="2.90" y="553.50" width="24.40" height="2.90" fill="rgb(0,78,0)"/>
<rect x="2.90" y="556.00" width="24.40" height="1.90" fill="rgb(0,73,0)"/>
<rect x="2.90" y="557.50" width="24.40" height="2.32" fill="rgb(0,71,0)"/>
<rect x="2.90" y="559.42" width="24.40" height="2.40" fill="rgb(3,122,3)"/>
<rect x="2.90" y="561.42" width="24.40" height="2.40" fill="rgb(2,119,2)"/>
<rect x="2.90" y="563.42" width="24.40" height="1.90" fill="rgb(4,126,4)"/>
<rect x="2.90" y="564.92" width="24.40" height="0.82" fill="rgb(7,135,7)"/>
<rect x="2.90" y="565.33" width="24.40" height="2.40" fill="rgb(11,144,11)"/>
<rect x="2.90" y="567.33" width="24.40" height="3.40" fill="rgb(17,155,17)"/>
<rect x="2.90" y="570.33" width="24.40" height="1.32" fill="rgb(11,144,11)"/>
<rect x="2.90" y="571.25" width="24.40" height="3.40" fill="rgb(8,137,8)"/>
<rect x="2.90" y="574.25" width="24.40" height="1.90" fill="rgb(11,144,11)"/>
<rect x="2.90" y="575.75" width="24.40" height="1.82" fill="rgb(7,135,7)"/>
<rect x="2.90" y="577.17" width="24.40" height="2.40" fill="rgb(0,50,0)"/>
<rect x="2.90" y="579.17" width="24.40" height="3.40" fill="rgb(0,57,0)"/>
<rect x="2.90" y="582.17" width="24.40" height="1.32" fill="rgb(0,54,0)"/>
<rect x="2.90" y="583.08" width="24.40" height="1.90" fill="rgb(3,121,3)"/>
<rect x="2.90" y="584.58" width="24.40" height="2.90" fill="rgb(3,120,3)"/>
<rect x="2.90" y="587.08" width="24.40" height="2.32" fill="rgb(11,145,11)"/>
<rect x="26.90" y="518.00" width="24.40" height="1.90" fill="rgb(0,97,0)"/>
<rect x="26.90" y="519.50" width="24.40" height="1.90" fill="rgb(1,111,1)"/>
<rect x="26.90" y="521.00" width="24.40" height="1.90" fill="rgb(0,101,0)"/>
<rect x="26.90" y="522.50" width="24.40" height="1.82" fill="rgb(0,98,0)"/>
<rect x="26.90" y="523.92" width="24.40" height="2.90" fill="rgb(6,133,6)"/>
<rect x="26.90" y="526.42" width="24.40" height="2.90" fill="rgb(3,119,3)"/>
<rect x="26.90" y="528.92" width="24.40" height="1.32" fill="rgb(2,114,2)"/>
<rect x="26.90" y="529.83" width="24.40" height="2.90" fill="rgb(0,98,0)"/>
<rect x="26.90" y="532.33" width="24.40" height="2.40" fill="rgb(0,95,0)"/>
<rect x="26.90" y="534.33" width="24.40" height="1.82" fill="rgb(0,104,0)"/>
<rect x="26.90" y="535.75" width="24.40" height="1.90" fill="rgb(0,71,0)"/>
<rect x="26.90" y="537.25" width="24.40" height="2.90" fill="rgb(0,64,0)"/>
<rect x="26.90" y="539.75" width="24.40" height="2.32" fill="rgb(0,64,0)"/>
<rect x="26.90" y="541.67" width="24.40" height="1.90" fill="rgb(0,80,0)"/>
<rect x="26.90" y="543.17" width="24.40" height="2.90" fill="rgb(0,83,0)"/>
<rect x="26.90" y="545.67" width="24.40" height="2.32" fill="rgb(0,84,0)"/>
<rect x="26.90" y="547.58" width="24.40" height="2.40" fill="rgb(4,125,4)"/>
<rect x="26.90" y="549.58" width="24.40" height="2.90" fill="rgb(2,116,2)"/>
<rect x="26.90" y="552.08" width="24.40" height="1.82" fill="rgb(5,127,5)"/>
<rect x="26.90" y="553.50" width="24.40" height="2.90" fill="rgb(1,110,1)"/>
<rect x="26.90" y="556.00" width="24.40" height="1.90" fill="rgb(6,130,6)"/>
<rect x="26.90" y="557.50" width="24.40" height="2.32" fill="rgb(3,122,3)"/>
<rect x="26.90" y="559.42" width="24.40" height="1.90" fill="rgb(0,106,0)"/>
<rect x="26.90" y="560.92" width="24.40" height="1.90" fill="rgb(2,117,2)"/>
<rect x="26.90" y="562.42" width="24.40" height="2.40" fill="rgb(3,121,3)"/>
<rect x="26.90" y="564.42" width="24.40" height="1.32" fill="rgb(3,122,3)"/>
<rect x="26.90" y="565.33" width="24.40" height="3.40" fill="rgb(0,99,0)"/>
<rect x="26.90" y="568.33" width="24.40" height="1.90" fill="rgb(1,113,1)"/>
<rect x="26.90" y="569.83" width="24.40" height="1.82" fill="rgb(0,105,0)"/>
<rect x="26.90" y="571.25" width="24.40" height="2.40" fill="rgb(2,114,2)"/>
<rect x="26.90" y="573.25" width="24.40" height="3.40" fill="rgb(3,122,3)"/>
<rect x="26.90" y="576.25" width="24.40" height="1.32" fill="rgb(1,111,1)"/>
<rect x="26.90" y="577.17" width="24.40" height="3.40" fill="rgb(2,117,2)"/>
<rect x="26.90" y="580.17" width="24.40" height="1.90" fill="rgb(6,133,6)"/>
<rect x="26.90" y="581.67" width="24.40" height="1.82" fill="rgb(5,128,5)"/>
<rect x="26.90" y="583.08" width="24.40" height="1.90" fill="rgb(0,102,0)"/>
<rect x="26.90" y="584.58" width="24.40" height="1.90" fill="rgb(0,95,0)"/>
<rect x="26.90" y="586.08" width="24.40" height="1.90" fill="rgb(1,111,1)"/>
<rect x="26.90" y="587.58" width="24.40" height="1.82" fill="rgb(1,109,1)"/>
<rect x="50.90" y="518.00" width="24.40" height="2.40" fill="rgb(0,54,0)"/>
<rect x="50.90" y="520.00" width="24.40" height="1.90" fill="rgb(0,53,0)"/>
<rect x="50.90" y="521.50" width="24.40" height="2.82" fill="rgb(0,55,0)"/>
<rect x="50.90" y="523.92" width="24.40" height="1.90" fill="rgb(16,153,16)"/>
<rect x="50.90" y="525.42" width="24.40" height="2.40" fill="rgb(5,130,5)"/>
<rect x="50.90" y="527.42" width="24.40" height="2.82" fill="rgb(5,129,5)"/>
<rect x="50.90" y="529.83" width="24.40" height="3.40" fill="rgb(9,140,9)"/>
<rect x="50.90" y="532.83" width="24.40" height="3.32" fill="rgb(14,149,14)"/>
<rect x="50.90" y="535.75" width="24.40" height="2.40" fill="rgb(5,129,5)"/>
<rect x="50.90" y="537.75" width="24.40" height="2.90" fill="rgb(4,124,4)"/>
<rect x="50.90" y="540.25" width="24.40" height="1.82" fill="rgb(5,128,5)"/>
<rect x="50.90" y="541.67" width="24.40" height="2.90" fill="rgb(1,113,1)"/>
<rect x="50.90" y="544.17" width="24.40" height="3.40" fill="rgb(6,131,6)"/>
<rect x="50.90" y="547.17" width="24.40" height="0.82" fill="rgb(1,110,1)"/>
<rect x="50.90" y="547.58" width="24.40" height="2.90" fill="rgb(2,116,2)"/>
<rect x="50.90" y="550.08" width="24.40" height="2.40" fill="rgb(0,102,0)"/>
<rect x="50.90" y="552.08" width="24.40" height="1.82" fill="rgb(4,124,4)"/>
<rect x="50.90" y="553.50" width="24.40" height="1.90" fill="rgb(3,120,3)"/>
<rect x="50.90" y="555.00" width="24.40" height="2.90" fill="rgb(2,117,2)"/>
<rect x="50.90" y="557.50" width="24.40" height="2.32" fill="rgb(3,121,3)"/>
<rect x="50.90" y="559.42" width="24.40" height="2.90" fill="rgb(1,113,1)"/>
<rect x="50.90" y="561.92" width="24.40" height="1.90" fill="rgb(4,124,4)"/>
<rect x="50.90" y="563.42" width="24.40" height="2.32" fill="rgb(2,117,2)"/>
<rect x="50.90" y="565.33" width="24.40" height="2.40" fill="rgb(1,113,1)"/>
<rect x="50.90" y="567.33" width="24.40" height="2.40" fill="rgb(4,126,4)"/>
<rect x="50.90" y="569.33" width="24.40" height="2.32" fill="rgb(5,129,5)"/>
<rect x="50.90" y="571.25" width="24.40" height="3.40" fill="rgb(2,118,2)"/>
<rect x="50.90" y="574.25" width="24.40" height="1.90" fill="rgb(4,123,4)"/>
<rect x="50.90" y="575.75" width="24.40" height="1.82" fill="rgb(7,134,7)"/>
<rect x="50.90" y="577.17" width="24.40" height="2.90" fill="rgb(2,118,2)"/>
<rect x="50.90" y="579.67" width="24.40" height="2.90" fill="rgb(3,122,3)"/>
<rect x="50.90" y="582.17" width="24.40" height="1.32" fill="rgb(2,116,2)"/>
<rect x="50.90" y="583.08" width="24.40" height="2.40" fill="rgb(3,120,3)"/>
<rect x="50.90" y="585.08" width="24.40" height="3.40" fill="rgb(7,134,7)"/>
<rect x="50.90" y="588.08" width="24.40" height="1.32" fill="rgb(2,118,2)"/>
<rect x="74.90" y="518.00" width="24.40" height="1.90" fill="rgb(145,2,2)"/>
<rect x="74.90" y="519.50" width="24.40" height="2.40" fill="rgb(149,3,3)"/>
<rect x="74.90" y="521.50" width="24.40" height="2.82" fill="rgb(154,3,3)"/>
<rect x="74.90" y="523.92" width="24.40" height="2.40" fill="rgb(154,3,3)"/>
<rect x="74.90" y="525.92" width="24.40" height="2.90" fill="rgb(143,2,2)"/>
<rect x="74.90" y="528.42" width="24.40" height="1.82" fill="rgb(139,2,2)"/>
<rect x="74.90" y="529.83" width="24.40" height="2.90" fill="rgb(151,3,3)"/>
<rect x="74.90" y="532.33" width="24.40" height="2.40" fill="rgb(150,3,3)"/>
<rect x="74.90" y="534.33" width="24.40" height="1.82" fill="rgb(142,2,2)"/>
<rect x="74.90" y="535.75" width="24.40" height="2.40" fill="rgb(140,2,2)"/>
<rect x="74.90" y="537.75" width="24.40" height="2.90" fill="rgb(140,2,2)"/>
<rect x="74.90" y="540.25" width="24.40" height="1.82" fill="rgb(146,2,2)"/>
<rect x="74.90" y="541.67" width="24.40" height="2.90" fill="rgb(149,3,3)"/>
<rect x="74.90" y="544.17" width="24.40" height="3.40" fill="rgb(144,2,2)"/>
<rect x="74.90" y="547.17" width="24.40" height="0.82" fill="rgb(149,3,3)"/>
<rect x="74.90" y="547.58" width="24.40" height="2.40" fill="rgb(119,0,0)"/>
<rect x="74.90" y="549.58" width="24.40" height="1.90" fill="rgb(116,0,0)"/>
<rect x="74.90" y="551.08" width="24.40" height="2.82" fill="rgb(124,0,0)"/>
<rect x="74.90" y="553.50" width="24.40" height="2.90" fill="rgb(143,2,2)"/>
<rect x="74.90" y="556.00" width="24.40" height="2.90" fill="rgb(133,1,1)"/>
<rect x="74.90" y="558.50" width="24.40" height="1.32" fill="rgb(116,0,0)"/>
<rect x="74.90" y="559.42" width="24.40" height="2.90" fill="rgb(147,2,2)"/>
<rect x="74.90" y="561.92" width="24.40" height="2.40" fill="rgb(153,3,3)"/>
<rect x="74.90" y="563.92" width="24.40" height="1.82" fill="rgb(142,2,2)"/>
<rect x="74.90" y="565.33" width="24.40" height="2.40" fill="rgb(153,3,3)"/>
<rect x="74.90" y="567.33" width="24.40" height="1.90" fill="rgb(149,3,3)"/>
<rect x="74.90" y="568.83" width="24.40" height="2.82" fill="rgb(148,2,2)"/>
<rect x="74.90" y="571.25" width="24.40" height="1.90" fill="rgb(143,2,2)"/>
<rect x="74.90" y="572.75" width="24.40" height="2.40" fill="rgb(151,3,3)"/>
<rect x="74.90" y="574.75" width="24.40" height="2.40" fill="rgb(145,2,2)"/>
<rect x="74.90" y="576.75" width="24.40" height="0.82" fill="rgb(156,3,3)"/>
<rect x="74.90" y="577.17" width="24.40" height="2.40" fill="rgb(124,0,0)"/>
<rect x="74.90" y="579.17" width="24.40" height="1.90" fill="rgb(124,0,0)"/>
<rect x="74.90" y="580.67" width="24.40" height="1.90" fill="rgb(129,1,1)"/>
<rect x="74.90" y="582.17" width="24.40" height="1.32" fill="rgb(123,0,0)"/>
<rect x="74.90" y="583.08" width="24.40" height="2.90" fill="rgb(127,0,0)"/>
<rect x="74.90" y="585.58" width="24.40" height="3.40" fill="rgb(141,2,2)"/>
<rect x="74.90" y="588.58" width="24.40" height="0.82" fill="rgb(121,0,0)"/>
<rect x="98.90" y="518.00" width="24.40" height="3.40" fill="rgb(84,0,0)"/>
<rect x="98.90" y="521.00" width="24.40" height="3.32" fill="rgb(84,0,0)"/>
<rect x="98.90" y="523.92" width="24.40" height="1.90" fill="rgb(100,0,0)"/>
<rect x="98.90" y="525.42" width="24.40" height="1.90" fill="rgb(111,0,0)"/>
<rect x="98.90" y="526.92" width="24.40" height="2.40" fill="rgb(123,0,0)"/>
<rect x="98.90" y="528.92" width="24.40" height="1.32" fill="rgb(115,0,0)"/>
<rect x="98.90" y="529.83" width="24.40" height="2.90" fill="rgb(119,0,0)"/>
<rect x="98.90" y="532.33" width="24.40" height="2.40" fill="rgb(92,0,0)"/>
<rect x="98.90" y="534.33" width="24.40" height="1.82" fill="rgb(102,0,0)"/>
<rect x="98.90" y="535.75" width="24.40" height="3.40" fill="rgb(100,0,0)"/>
<rect x="98.90" y="538.75" width="24.40" height="2.90" fill="rgb(103,0,0)"/>
<rect x="98.90" y="541.25" width="24.40" height="0.82" fill="rgb(99,0,0)"/>
<rect x="98.90" y="541.67" width="24.40" height="1.90" fill="rgb(86,0,0)"/>
<rect x="98.90" y="543.17" width="24.40" height="2.90" fill="rgb(85,0,0)"/>
<rect x="98.90" y="545.67" width="24.40" height="1.90" fill="rgb(77,0,0)"/>
<rect x="98.90" y="547.17" width="24.40" height="0.82" fill="rgb(83,0,0)"/>
<rect x="98.90" y="547.58" width="24.40" height="1.90" fill="rgb(103,0,0)"/>
<rect x="98.90" y="549.08" width="24.40" height="2.40" fill="rgb(100,0,0)"/>
<rect x="98.90" y="551.08" width="24.40" height="2.82" fill="rgb(104,0,0)"/>
<rect x="98.90" y="553.50" width="24.40" height="2.90" fill="rgb(112,0,0)"/>
<rect x="98.90" y="556.00" width="24.40" height="2.40" fill="rgb(118,0,0)"/>
<rect x="98.90" y="558.00" width="24.40" height="1.82" fill="rgb(119,0,0)"/>
<rect x="98.90" y="559.42" width="24.40" height="2.90" fill="rgb(107,0,0)"/>
<rect x="98.90" y="561.92" width="24.40" height="2.90" fill="rgb(102,0,0)"/>
<rect x="98.90" y="564.42" width="24.40" height="1.32" fill="rgb(95,0,0)"/>
<rect x="98.90" y="565.33" width="24.40" height="3.40" fill="rgb(102,0,0)"/>
<rect x="98.90" y="568.33" width="24.40" height="2.40" fill="rgb(102,0,0)"/>
<rect x="98.90" y="570.33" width="24.40" height="1.32" fill="rgb(105,0,0)"/>
<rect x="98.90" y="571.25" width="24.40" height="3.40" fill="rgb(103,0,0)"/>
<rect x="98.90" y="574.25" width="24.40" height="2.40" fill="rgb(116,0,0)"/>
<rect x="98.90" y="576.25" width="24.40" height="1.32" fill="rgb(96,0,0)"/>
<rect x="98.90" y="577.17" width="24.40" height="2.90" fill="rgb(91,0,0)"/>
<rect x="98.90" y="579.67" width="24.40" height="1.90" fill="rgb(102,0,0)"/>
<rect x="98.90" y="581.17" width="24.40" height="2.32" fill="rgb(105,0,0)"/>
<rect x="98.90" y="583.08" width="24.40" height="2.90" fill="rgb(118,0,0)"/>
<rect x="98.90" y="585.58" width="24.40" height="1.90" fill="rgb(113,0,0)"/>
<rect x="98.90" y="587.08" width="24.40" height="2.32" fill="rgb(115,0,0)"/>
<rect x="122.90" y="518.00" width="24.00" height="2.40" fill="rgb(100,0,0)"/>
<rect x="122.90" y="520.00" width="24.00" height="3.40" fill="rgb(102,0,0)"/>
<rect x="122.90" y="523.00" width="24.00" height="1.32" fill="rgb(108,0,0)"/>
<rect x="122.90" y="523.92" width="24.00" height="2.90" fill="rgb(117,0,0)"/>
<rect x="122.90" y="526.42" width="24.00" height="1.90" fill="rgb(116,0,0)"/>
<rect x="122.90" y="527.92" width="24.00" height="2.32" fill="rgb(126,0,0)"/>
<rect x="122.90" y="529.83" width="24.00" height="2.40" fill="rgb(118,0,0)"/>
<rect x="122.90" y="531.83" width="24.00" height="2.90" fill="rgb(123,0,0)"/>
<rect x="122.90" y="534.33" width="24.00" height="1.82" fill="rgb(118,0,0)"/>
<rect x="122.90" y="535.75" width="24.00" height="1.90" fill="rgb(105,0,0)"/>
<rect x="122.90" y="537.25" width="24.00" height="1.90" fill="rgb(120,0,0)"/>
<rect x="122.90" y="538.75" width="24.00" height="1.90" fill="rgb(111,0,0)"/>
<rect x="122.90" y="540.25" width="24.00" height="1.82" fill="rgb(118,0,0)"/>
<rect x="122.90" y="541.67" width="24.00" height="3.40" fill="rgb(122,0,0)"/>
<rect x="122.90" y="544.67" width="24.00" height="2.40" fill="rgb(116,0,0)"/>
<rect x="122.90" y="546.67" width="24.00" height="1.32" fill="rgb(131,1,1)"/>
<rect x="122.90" y="547.58" width="24.00" height="2.90" fill="rgb(106,0,0)"/>
<rect x="122.90" y="550.08" width="24.00" height="2.90" fill="rgb(121,0,0)"/>
<rect x="122.90" y="552.58" width="24.00" height="1.32" fill="rgb(121,0,0)"/>
<rect x="122.90" y="553.50" width="24.00" height="1.90" fill="rgb(138,1,1)"/>
<rect x="122.90" y="555.00" width="24.00" height="2.40" fill="rgb(140,2,2)"/>
<rect x="122.90" y="557.00" width="24.00" height="2.82" fill="rgb(129,1,1)"/>
<rect x="122.90" y="559.42" width="24.00" height="2.90" fill="rgb(127,0,0)"/>
<rect x="122.90" y="561.92" width="24.00" height="2.40" fill="rgb(121,0,0)"/>
<rect x="122.90" y="563.92" width="24.00" height="1.82" fill="rgb(117,0,0)"/>
<rect x="122.90" y="565.33" width="24.00" height="2.90" fill="rgb(117,0,0)"/>
<rect x="122.90" y="567.83" width="24.00" height="2.90" fill="rgb(115,0,0)"/>
<rect x="122.90" y="570.33" width="24.00" height="1.32" fill="rgb(113,0,0)"/>
<rect x="122.90" y="571.25" width="24.00" height="3.40" fill="rgb(115,0,0)"/>
<rect x="122.90" y="574.25" width="24.00" height="2.90" fill="rgb(121,0,0)"/>
<rect x="122.90" y="576.75" width="24.00" height="0.82" fill="rgb(117,0,0)"/>
<rect x="122.90" y="577.17" width="24.00" height="1.90" fill="rgb(124,0,0)"/>
<rect x="122.90" y="578.67" width="24.00" height="2.40" fill="rgb(121,0,0)"/>
<rect x="122.90" y="580.67" width="24.00" height="2.40" fill="rgb(128,1,1)"/>
<rect x="122.90" y="582.67" width="24.00" height="0.82" fill="rgb(116,0,0)"/>
<rect x="122.90" y="583.08" width="24.00" height="2.90" fill="rgb(84,0,0)"/>
<rect x="122.90" y="585.58" width="24.00" height="3.40" fill="rgb(102,0,0)"/>
<rect x="122.90" y="588.58" width="24.00" height="0.82" fill="rgb(88,0,0)"/>
<rect x="2.90" y="589.00" width="24.40" height="3.40" fill="rgb(3,122,3)"/>
<rect x="2.90" y="592.00" width="24.40" height="1.90" fill="rgb(8,137,8)"/>
<rect x="2.90" y="593.50" width="24.40" height="1.81" fill="rgb(13,147,13)"/>
<rect x="2.90" y="594.91" width="24.40" height="3.40" fill="rgb(1,113,1)"/>
<rect x="2.90" y="597.91" width="24.40" height="1.90" fill="rgb(0,106,0)"/>
<rect x="2.90" y="599.41" width="24.40" height="1.81" fill="rgb(2,115,2)"/>
<rect x="2.90" y="600.82" width="24.40" height="2.40" fill="rgb(27,171,27)"/>
<rect x="2.90" y="602.82" width="24.40" height="1.90" fill="rgb(29,174,29)"/>
<rect x="2.90" y="604.32" width="24.40" height="2.81" fill="rgb(25,168,25)"/>
<rect x="2.90" y="606.73" width="24.40" height="1.90" fill="rgb(22,162,22)"/>
<rect x="2.90" y="608.23" width="24.40" height="1.90" fill="rgb(25,168,25)"/>
<rect x="2.90" y="609.73" width="24.40" height="2.40" fill="rgb(24,166,24)"/>
<rect x="2.90" y="611.73" width="24.40" height="1.31" fill="rgb(26,169,26)"/>
<rect x="2.90" y="612.64" width="24.40" height="2.90" fill="rgb(13,147,13)"/>
<rect x="2.90" y="615.14" width="24.40" height="2.90" fill="rgb(11,144,11)"/>
<rect x="2.90" y="617.64" width="24.40" height="1.31" fill="rgb(8,140,8)"/>
<rect x="2.90" y="618.55" width="24.40" height="3.40" fill="rgb(10,143,10)"/>
<rect x="2.90" y="621.55" width="24.40" height="3.31" fill="rgb(3,123,3)"/>
<rect x="2.90" y="624.45" width="24.40" height="2.90" fill="rgb(0,57,0)"/>
<rect x="2.90" y="626.95" width="24.40" height="3.40" fill="rgb(0,61,0)"/>
<rect x="2.90" y="629.95" width="24.40" height="0.81" fill="rgb(0,76,0)"/>
<rect x="2.90" y="630.36" width="24.40" height="3.40" fill="rgb(1,110,1)"/>
<rect x="2.90" y="633.36" width="24.40" height="2.90" fill="rgb(5,130,5)"/>
<rect x="2.90" y="635.86" width="24.40" height="0.81" fill="rgb(8,137,8)"/>
<rect x="2.90" y="636.27" width="24.40" height="3.40" fill="rgb(12,146,12)"/>
<rect x="2.90" y="639.27" width="24.40" height="2.40" fill="rgb(13,147,13)"/>
<rect x="2.90" y="641.27" width="24.40" height="1.31" fill="rgb(10,143,10)"/>
<rect x="2.90" y="642.18" width="24.40" height="1.90" fill="rgb(22,162,22)"/>
<rect x="2.90" y="643.68" width="24.40" height="3.40" fill="rgb(29,174,29)"/>
<rect x="2.90" y="646.68" width="24.40" height="1.81" fill="rgb(22,163,22)"/>
<rect x="2.90" y="648.09" width="24.40" height="3.40" fill="rgb(8,139,8)"/>
<rect x="2.90" y="651.09" width="24.40" height="0.91" fill="rgb(7,135,7)"/>
<rect x="2.90" y="653.59" width="24.40" height="-1.59" fill="rgb(14,149,14)"/>
<rect x="26.90" y="589.00" width="24.40" height="1.90" fill="rgb(1,111,1)"/>
<rect x="26.90" y="590.50" width="24.40" height="3.40" fill="rgb(0,108,0)"/>
<rect x="26.90" y="593.50" width="24.40" height="1.81" fill="rgb(0,92,0)"/>
<rect x="26.90" y="594.91" width="24.40" height="2.90" fill="rgb(0,107,0)"/>
<rect x="26.90" y="597.41" width="24.40" height="3.40" fill="rgb(5,127,5)"/>
<rect x="26.90" y="600.41" width="24.40" height="0.81" fill="rgb(4,124,4)"/>
<rect x="26.90" y="600.82" width="24.40" height="2.40" fill="rgb(0,62,0)"/>
<rect x="26.90" y="602.82" width="24.40" height="1.90" fill="rgb(0,64,0)"/>
<rect x="26.90" y="604.32" width="24.40" height="2.81" fill="rgb(0,71,0)"/>
<rect x="26.90" y="606.73" width="24.40" height="1.90" fill="rgb(0,77,0)"/>
<rect x="26.90" y="608.23" width="24.40" height="3.40" fill="rgb(0,66,0)"/>
<rect x="26.90" y="611.23" width="24.40" height="1.81" fill="rgb(0,70,0)"/>
<rect x="26.90" y="612.64" width="24.40" height="3.40" fill="rgb(0,107,0)"/>
<rect x="26.90" y="615.64" width="24.40" height="2.90" fill="rgb(0,101,0)"/>
<rect x="26.90" y="618.14" width="24.40" height="0.81" fill="rgb(1,113,1)"/>
<rect x="26.90" y="618.55" width="24.40" height="3.40" fill="rgb(7,135,7)"/>
<rect x="26.90" y="621.55" width="24.40" height="2.90" fill="rgb(18,156,18)"/>
<rect x="26.90" y="624.05" width="24.40" height="0.81" fill="rgb(8,138,8)"/>
<rect x="26.90" y="624.45" width="24.40" height="2.90" fill="rgb(5,127,5)"/>
<rect x="26.90" y="626.95" width="24.40" height="2.40" fill="rgb(1,110,1)"/>
<rect x="26.90" y="628.95" width="24.40" height="1.81" fill="rgb(4,124,4)"/>
<rect x="26.90" y="630.36" width="24.40" height="2.40" fill="rgb(0,98,0)"/>
<rect x="26.90" y="632.36" width="24.40" height="1.90" fill="rgb(0,105,0)"/>
<rect x="26.90" y="633.86" width="24.40" height="2.81" fill="rgb(0,103,0)"/>
<rect x="26.90" y="636.27" width="24.40" height="3.40" fill="rgb(4,124,4)"/>
<rect x="26.90" y="639.27" width="24.40" height="3.31" fill="rgb(1,112,1)"/>
<rect x="26.90" y="642.18" width="24.40" height="1.90" fill="rgb(0,72,0)"/>
<rect x="26.90" y="643.68" width="24.40" height="2.90" fill="rgb(0,67,0)"/>
<rect x="26.90" y="646.18" width="24.40" height="2.31" fill="rgb(0,72,0)"/>
<rect x="26.90" y="648.09" width="24.40" height="2.40" fill="rgb(2,117,2)"/>
<rect x="26.90" y="650.09" width="24.40" height="1.91" fill="rgb(6,132,6)"/>
<rect x="26.90" y="652.59" width="24.40" height="-0.59" fill="rgb(3,121,3)"/>
<rect x="50.90" y="589.00" width="24.40" height="1.90" fill="rgb(2,115,2)"/>
<rect x="50.90" y="590.50" width="24.40" height="3.40" fill="rgb(4,125,4)"/>
<rect x="50.90" y="593.50" width="24.40" height="1.81" fill="rgb(0,106,0)"/>
<rect x="50.90" y="594.91" width="24.40" height="3.40" fill="rgb(2,115,2)"/>
<rect x="50.90" y="597.91" width="24.40" height="2.40" fill="rgb(2,117,2)"/>
<rect x="50.90" y="599.91" width="24.40" height="1.31" fill="rgb(4,126,4)"/>
<rect x="50.90" y="600.82" width="24.40" height="2.40" fill="rgb(0,102,0)"/>
<rect x="50.90" y="602.82" width="24.40" height="2.40" fill="rgb(3,122,3)"/>
<rect x="50.90" y="604.82" width="24.40" height="1.90" fill="rgb(3,119,3)"/>
<rect x="50.90" y="606.32" width="24.40" height="0.81" fill="rgb(1,114,1)"/>
<rect x="50.90" y="606.73" width="24.40" height="3.40" fill="rgb(0,103,0)"/>
<rect x="50.90" y="609.73" width="24.40" height="2.90" fill="rgb(0,108,0)"/>
<rect x="50.90" y="612.23" width="24.40" height="0.81" fill="rgb(0,96,0)"/>
<rect x="50.90" y="612.64" width="24.40" height="1.90" fill="rgb(0,82,0)"/>
<rect x="50.90" y="614.14" width="24.40" height="2.90" fill="rgb(0,59,0)"/>
<rect x="50.90" y="616.64" width="24.40" height="2.31" fill="rgb(0,66,0)"/>
<rect x="50.90" y="618.55" width="24.40" height="3.40" fill="rgb(0,105,0)"/>
<rect x="50.90" y="621.55" width="24.40" height="2.90" fill="rgb(0,97,0)"/>
<rect x="50.90" y="624.05" width="24.40" height="0.81" fill="rgb(0,96,0)"/>
<rect x="50.90" y="624.45" width="24.40" height="1.90" fill="rgb(0,103,0)"/>
<rect x="50.90" y="625.95" width="24.40" height="1.90" fill="rgb(1,110,1)"/>
<rect x="50.90" y="627.45" width="24.40" height="3.31" fill="rgb(0,97,0)"/>
<rect x="50.90" y="630.36" width="24.40" height="2.40" fill="rgb(2,118,2)"/>
<rect x="50.90" y="632.36" width="24.40" height="2.90" fill="rgb(8,138,8)"/>
<rect x="50.90" y="634.86" width="24.40" height="1.81" fill="rgb(2,115,2)"/>
<rect x="50.90" y="636.27" width="24.40" height="2.90" fill="rgb(4,125,4)"/>
<rect x="50.90" y="638.77" width="24.40" height="1.90" fill="rgb(5,128,5)"/>
<rect x="50.90" y="640.27" width="24.40" height="2.31" fill="rgb(3,120,3)"/>
<rect x="50.90" y="642.18" width="24.40" height="2.40" fill="rgb(0,100,0)"/>
<rect x="50.90" y="644.18" width="24.40" height="3.40" fill="rgb(0,107,0)"/>
<rect x="50.90" y="647.18" width="24.40" height="1.31" fill="rgb(1,109,1)"/>
<rect x="50.90" y="648.09" width="24.40" height="3.40" fill="rgb(1,109,1)"/>
<rect x="50.90" y="651.09" width="24.40" height="0.91" fill="rgb(0,97,0)"/>
<rect x="50.90" y="653.59" width="24.40" height="-1.59" fill="rgb(0,100,0)"/>
<rect x="74.90" y="589.00" width="24.40" height="1.90" fill="rgb(132,1,1)"/>
<rect x="74.90" y="590.50" width="24.40" height="1.90" fill="rgb(139,2,2)"/>
<rect x="74.90" y="592.00" width="24.40" height="2.40" fill="rgb(135,1,1)"/>
<rect x="74.90" y="594.00" width="24.40" height="1.31" fill="rgb(145,2,2)"/>
<rect x="74.90" y="594.91" width="24.40" height="2.90" fill="rgb(146,2,2)"/>
<rect x="74.90" y="597.41" width="24.40" height="1.90" fill="rgb(135,1,1)"/>
<rect x="74.90" y="598.91" width="24.40" height="2.31" fill="rgb(164,5,5)"/>
<rect x="74.90" y="600.82" width="24.40" height="3.40" fill="rgb(172,6,6)"/>
<rect x="74.90" y="603.82" width="24.40" height="2.40" fill="rgb(180,8,8)"/>
<rect x="74.90" y="605.82" width="24.40" height="1.31" fill="rgb(160,4,4)"/>
<rect x="74.90" y="606.73" width="24.40" height="1.90" fill="rgb(153,3,3)"/>
<rect x="74.90" y="608.23" width="24.40" height="3.40" fill="rgb(145,2,2)"/>
<rect x="74.90" y="611.23" width="24.40" height="1.81" fill="rgb(154,3,3)"/>
<rect x="74.90" y="612.64" width="24.40" height="2.40" fill="rgb(127,0,0)"/>
<rect x="74.90" y="614.64" width="24.40" height="3.40" fill="rgb(129,1,1)"/>
<rect x="74.90" y="617.64" width="24.40" height="1.31" fill="rgb(122,0,0)"/>
<rect x="74.90" y="618.55" width="24.40" height="1.90" fill="rgb(135,1,1)"/>
<rect x="74.90" y="620.05" width="24.40" height="2.40" fill="rgb(132,1,1)"/>
<rect x="74.90" y="622.05" width="24.40" height="1.90" fill="rgb(121,0,0)"/>
<rect x="74.90" y="623.55" width="24.40" height="1.31" fill="rgb(124,0,0)"/>
<rect x="74.90" y="624.45" width="24.40" height="1.90" fill="rgb(145,2,2)"/>
<rect x="74.90" y="625.95" width="24.40" height="1.90" fill="rgb(134,1,1)"/>
<rect x="74.90" y="627.45" width="24.40" height="2.40" fill="rgb(159,4,4)"/>
<rect x="74.90" y="629.45" width="24.40" height="1.31" fill="rgb(141,2,2)"/>
<rect x="74.90" y="630.36" width="24.40" height="2.90" fill="rgb(174,7,7)"/>
<rect x="74.90" y="632.86" width="24.40" height="2.90" fill="rgb(159,4,4)"/>
<rect x="74.90" y="635.36" width="24.40" height="1.31" fill="rgb(179,8,8)"/>
<rect x="74.90" y="636.27" width="24.40" height="3.40" fill="rgb(147,2,2)"/>
<rect x="74.90" y="639.27" width="24.40" height="3.31" fill="rgb(149,3,3)"/>
<rect x="74.90" y="642.18" width="24.40" height="1.90" fill="rgb(124,0,0)"/>
<rect x="74.90" y="643.68" width="24.40" height="1.90" fill="rgb(125,0,0)"/>
<rect x="74.90" y="645.18" width="24.40" height="2.90" fill="rgb(120,0,0)"/>
<rect x="74.90" y="647.68" width="24.40" height="0.81" fill="rgb(129,1,1)"/>
<rect x="74.90" y="648.09" width="24.40" height="2.40" fill="rgb(153,3,3)"/>
<rect x="74.90" y="650.09" width="24.40" height="1.90" fill="rgb(140,2,2)"/>
<rect x="74.90" y="651.59" width="24.40" height="0.41" fill="rgb(149,3,3)"/>
<rect x="74.90" y="653.09" width="24.40" height="-1.09" fill="rgb(144,2,2)"/>
<rect x="98.90" y="589.00" width="24.40" height="3.40" fill="rgb(89,0,0)"/>
<rect x="98.90" y="592.00" width="24.40" height="3.31" fill="rgb(96,0,0)"/>
<rect x="98.90" y="594.91" width="24.40" height="3.40" fill="rgb(92,0,0)"/>
<rect x="98.90" y="597.91" width="24.40" height="1.90" fill="rgb(100,0,0)"/>
<rect x="98.90" y="599.41" width="24.40" height="1.81" fill="rgb(94,0,0)"/>
<rect x="98.90" y="600.82" width="24.40" height="3.40" fill="rgb(120,0,0)"/>
<rect x="98.90" y="603.82" width="24.40" height="1.90" fill="rgb(124,0,0)"/>
<rect x="98.90" y="605.32" width="24.40" height="1.81" fill="rgb(112,0,0)"/>
<rect x="98.90" y="606.73" width="24.40" height="3.40" fill="rgb(97,0,0)"/>
<rect x="98.90" y="609.73" width="24.40" height="2.90" fill="rgb(101,0,0)"/>
<rect x="98.90" y="612.23" width="24.40" height="0.81" fill="rgb(94,0,0)"/>
<rect x="98.90" y="612.64" width="24.40" height="2.40" fill="rgb(104,0,0)"/>
<rect x="98.90" y="614.64" width="24.40" height="2.40" fill="rgb(95,0,0)"/>
<rect x="98.90" y="616.64" width="24.40" height="2.31" fill="rgb(109,0,0)"/>
<rect x="98.90" y="618.55" width="24.40" height="2.40" fill="rgb(104,0,0)"/>
<rect x="98.90" y="620.55" width="24.40" height="3.40" fill="rgb(118,0,0)"/>
<rect x="98.90" y="623.55" width="24.40" height="1.31" fill="rgb(108,0,0)"/>
<rect x="98.90" y="624.45" width="24.40" height="2.90" fill="rgb(95,0,0)"/>
<rect x="98.90" y="626.95" width="24.40" height="3.40" fill="rgb(97,0,0)"/>
<rect x="98.90" y="629.95" width="24.40" height="0.81" fill="rgb(104,0,0)"/>
<rect x="98.90" y="630.36" width="24.40" height="2.90" fill="rgb(118,0,0)"/>
<rect x="98.90" y="632.86" width="24.40" height="1.90" fill="rgb(117,0,0)"/>
<rect x="98.90" y="634.36" width="24.40" height="2.31" fill="rgb(128,0,0)"/>
<rect x="98.90" y="636.27" width="24.40" height="2.90" fill="rgb(105,0,0)"/>
<rect x="98.90" y="638.77" width="24.40" height="3.40" fill="rgb(109,0,0)"/>
<rect x="98.90" y="641.77" width="24.40" height="0.81" fill="rgb(97,0,0)"/>
<rect x="98.90" y="642.18" width="24.40" height="3.40" fill="rgb(113,0,0)"/>
<rect x="98.90" y="645.18" width="24.40" height="2.40" fill="rgb(102,0,0)"/>
<rect x="98.90" y="647.18" width="24.40" height="1.31" fill="rgb(102,0,0)"/>
<rect x="98.90" y="648.09" width="24.40" height="3.40" fill="rgb(83,0,0)"/>
<rect x="98.90" y="651.09" width="24.40" height="0.91" fill="rgb(92,0,0)"/>
<rect x="98.90" y="653.59" width="24.40" height="-1.59" fill="rgb(100,0,0)"/>
<rect x="122.90" y="589.00" width="24.00" height="2.90" fill="rgb(115,0,0)"/>
<rect x="122.90" y="591.50" width="24.00" height="2.40" fill="rgb(113,0,0)"/>
<rect x="122.90" y="593.50" width="24.00" height="1.81" fill="rgb(106,0,0)"/>
<rect x="122.90" y="594.91" width="24.00" height="2.90" fill="rgb(124,0,0)"/>
<rect x="122.90" y="597.41" width="24.00" height="1.90" fill="rgb(126,0,0)"/>
<rect x="122.90" y="598.91" width="24.00" height="2.31" fill="rgb(112,0,0)"/>
<rect x="122.90" y="600.82" width="24.00" height="2.90" fill="rgb(123,0,0)"/>
<rect x="122.90" y="603.32" width="24.00" height="2.40" fill="rgb(119,0,0)"/>
<rect x="122.90" y="605.32" width="24.00" height="1.81" fill="rgb(120,0,0)"/>
<rect x="122.90" y="606.73" width="24.00" height="1.90" fill="rgb(136,1,1)"/>
<rect x="122.90" y="608.23" width="24.00" height="3.40" fill="rgb(131,1,1)"/>
<rect x="122.90" y="611.23" width="24.00" height="1.81" fill="rgb(136,1,1)"/>
<rect x="122.90" y="612.64" width="24.00" height="2.90" fill="rgb(117,0,0)"/>
<rect x="122.90" y="615.14" width="24.00" height="2.90" fill="rgb(121,0,0)"/>
<rect x="122.90" y="617.64" width="24.00" height="1.31" fill="rgb(129,1,1)"/>
<rect x="122.90" y="618.55" width="24.00" height="2.90" fill="rgb(124,0,0)"/>
<rect x="122.90" y="621.05" width="24.00" height="3.40" fill="rgb(104,0,0)"/>
<rect x="122.90" y="624.05" width="24.00" height="0.81" fill="rgb(134,1,1)"/>
<rect x="122.90" y="624.45" width="24.00" height="2.90" fill="rgb(121,0,0)"/>
<rect x="122.90" y="626.95" width="24.00" height="2.90" fill="rgb(119,0,0)"/>
<rect x="122.90" y="629.45" width="24.00" height="1.31" fill="rgb(123,0,0)"/>
<rect x="122.90" y="630.36" width="24.00" height="2.40" fill="rgb(109,0,0)"/>
<rect x="122.90" y="632.36" width="24.00" height="3.40" fill="rgb(105,0,0)"/>
<rect x="122.90" y="635.36" width="24.00" height="1.31" fill="rgb(120,0,0)"/>
<rect x="122.90" y="636.27" width="24.00" height="2.40" fill="rgb(122,0,0)"/>
<rect x="122.90" y="638.27" width="24.00" height="3.40" fill="rgb(111,0,0)"/>
<rect x="122.90" y="641.27" width="24.00" height="1.31" fill="rgb(127,0,0)"/>
<rect x="122.90" y="642.18" width="24.00" height="2.90" fill="rgb(104,0,0)"/>
<rect x="122.90" y="644.68" width="24.00" height="2.90" fill="rgb(96,0,0)"/>
<rect x="122.90" y="647.18" width="24.00" height="1.31" fill="rgb(102,0,0)"/>
<rect x="122.90" y="648.09" width="24.00" height="1.90" fill="rgb(130,1,1)"/>
<rect x="122.90" y="649.59" width="24.00" height="1.90" fill="rgb(119,0,0)"/>
<rect x="122.90" y="651.09" width="24.00" height="0.91" fill="rgb(107,0,0)"/>
<rect x="122.90" y="652.59" width="24.00" height="-0.59" fill="rgb(114,0,0)"/>
</g></g>
<line x1="209.20" y1="48.50" x2="286.70" y2="48.50" stroke="#a0a0a0" stroke-width="1.3"/>
<line x1="209.20" y1="80.60" x2="286.70" y2="80.60" stroke="#a0a0a0" stroke-width="1.3"/>
<line x1="209.20" y1="112.90" x2="286.70" y2="112.90" stroke="#a0a0a0" stroke-width="1.3"/>
<rect x="216.40" y="27.50" width="26.40" height="85.40" fill="#0c0cfa"/>
<line x1="229.60" y1="23.50" x2="229.60" y2="31.00" stroke="#000" stroke-width="1.8"/>
<line x1="225.90" y1="23.50" x2="233.30" y2="23.50" stroke="#000" stroke-width="1.9"/>
<line x1="225.90" y1="31.00" x2="233.30" y2="31.00" stroke="#000" stroke-width="1.9"/>
<line x1="229.60" y1="117.40" x2="229.60" y2="119.60" stroke="#000" stroke-width="1"/>
<rect x="252.00" y="104.00" width="26.80" height="8.90" fill="#ec2027"/>
<line x1="265.40" y1="103.70" x2="265.40" y2="103.90" stroke="#000" stroke-width="1.8"/>
<line x1="261.70" y1="103.70" x2="269.10" y2="103.70" stroke="#000" stroke-width="1.9"/>
<line x1="261.70" y1="103.90" x2="269.10" y2="103.90" stroke="#000" stroke-width="1.9"/>
<line x1="265.40" y1="117.40" x2="265.40" y2="119.60" stroke="#000" stroke-width="1"/>
<polygon points="265.40,94.00 266.31,95.25 267.78,95.73 266.87,96.98 266.87,98.52 265.40,98.05 263.93,98.52 263.93,96.98 263.02,95.73 264.49,95.25" fill="#000" stroke="#000" stroke-width="0.6" stroke-linejoin="round"/>
<line x1="209.20" y1="19.60" x2="209.20" y2="118.40" stroke="#000" stroke-width="2"/>
<line x1="208.20" y1="117.40" x2="286.70" y2="117.40" stroke="#000" stroke-width="2"/>
<line x1="207.30" y1="48.50" x2="209.20" y2="48.50" stroke="#000" stroke-width="1.2"/>
<text transform="translate(190.66,51.75) scale(1.153,1)" font-size="11.03" font-weight="normal" font-style="normal" fill="#000" stroke="#000" stroke-width="0.45">20</text>
<line x1="207.30" y1="80.60" x2="209.20" y2="80.60" stroke="#000" stroke-width="1.2"/>
<text transform="translate(190.67,83.85) scale(1.152,1)" font-size="11.03" font-weight="normal" font-style="normal" fill="#000" stroke="#000" stroke-width="0.45">10</text>
<line x1="207.30" y1="112.90" x2="209.20" y2="112.90" stroke="#000" stroke-width="1.2"/>
<text transform="translate(197.95,118.25) scale(1.113,1)" font-size="11.03" font-weight="normal" font-style="normal" fill="#000" stroke="#000" stroke-width="0.45">0</text>
<text transform="translate(232.06,13.35) scale(1.209,1)" font-size="13.67" font-weight="bold" font-style="italic" fill="#000" stroke="#000" stroke-width="0.5">Etv5</text>
<text transform="translate(217.99,135.60) scale(1.076,1)" font-size="13.38" font-weight="normal" font-style="italic" fill="#000" stroke="#000" stroke-width="0.5">WT</text>
<text transform="translate(246.93,135.60) scale(1.073,1)" font-size="13.38" font-weight="normal" font-style="italic" fill="#000" stroke="#000" stroke-width="0.5">Gab2</text>
<text transform="translate(282.99,125.20) scale(1.292,1)" font-size="6.90" font-weight="normal" font-style="italic" fill="#000" stroke="#000" stroke-width="0.3">–/–</text>
<line x1="320.00" y1="51.30" x2="398.50" y2="51.30" stroke="#a0a0a0" stroke-width="1.3"/>
<line x1="320.00" y1="82.00" x2="398.50" y2="82.00" stroke="#a0a0a0" stroke-width="1.3"/>
<line x1="320.00" y1="112.70" x2="398.50" y2="112.70" stroke="#a0a0a0" stroke-width="1.3"/>
<rect x="328.00" y="27.00" width="27.00" height="85.70" fill="#0c0cfa"/>
<line x1="341.50" y1="23.80" x2="341.50" y2="30.70" stroke="#000" stroke-width="1.8"/>
<line x1="337.80" y1="23.80" x2="345.20" y2="23.80" stroke="#000" stroke-width="1.9"/>
<line x1="337.80" y1="30.70" x2="345.20" y2="30.70" stroke="#000" stroke-width="1.9"/>
<line x1="341.50" y1="117.60" x2="341.50" y2="119.80" stroke="#000" stroke-width="1"/>
<rect x="363.40" y="65.60" width="26.60" height="47.10" fill="#ec2027"/>
<line x1="376.70" y1="63.50" x2="376.70" y2="67.40" stroke="#000" stroke-width="1.8"/>
<line x1="373.00" y1="63.50" x2="380.40" y2="63.50" stroke="#000" stroke-width="1.9"/>
<line x1="373.00" y1="67.40" x2="380.40" y2="67.40" stroke="#000" stroke-width="1.9"/>
<line x1="376.70" y1="117.60" x2="376.70" y2="119.80" stroke="#000" stroke-width="1"/>
<polygon points="376.90,53.80 377.81,55.05 379.28,55.53 378.37,56.78 378.37,58.32 376.90,57.85 375.43,58.32 375.43,56.78 374.52,55.53 375.99,55.05" fill="#000" stroke="#000" stroke-width="0.6" stroke-linejoin="round"/>
<line x1="320.00" y1="19.60" x2="320.00" y2="118.60" stroke="#000" stroke-width="2"/>
<line x1="319.00" y1="117.60" x2="398.50" y2="117.60" stroke="#000" stroke-width="2"/>
<line x1="318.10" y1="21.00" x2="320.00" y2="21.00" stroke="#000" stroke-width="1.2"/>
<text transform="translate(301.46,24.25) scale(1.153,1)" font-size="11.03" font-weight="normal" font-style="normal" fill="#000" stroke="#000" stroke-width="0.45">60</text>
<line x1="318.10" y1="51.30" x2="320.00" y2="51.30" stroke="#000" stroke-width="1.2"/>
<text transform="translate(301.45,54.55) scale(1.154,1)" font-size="11.03" font-weight="normal" font-style="normal" fill="#000" stroke="#000" stroke-width="0.45">40</text>
<line x1="318.10" y1="82.00" x2="320.00" y2="82.00" stroke="#000" stroke-width="1.2"/>
<text transform="translate(301.46,85.25) scale(1.153,1)" font-size="11.03" font-weight="normal" font-style="normal" fill="#000" stroke="#000" stroke-width="0.45">20</text>
<line x1="318.10" y1="112.70" x2="320.00" y2="112.70" stroke="#000" stroke-width="1.2"/>
<text transform="translate(308.75,117.55) scale(1.113,1)" font-size="11.03" font-weight="normal" font-style="normal" fill="#000" stroke="#000" stroke-width="0.45">0</text>
<text transform="translate(333.36,13.35) scale(1.277,1)" font-size="12.76" font-weight="bold" font-style="italic" fill="#000" stroke="#000" stroke-width="0.5">Dusp6</text>
<text transform="translate(329.09,135.60) scale(1.076,1)" font-size="13.38" font-weight="normal" font-style="italic" fill="#000" stroke="#000" stroke-width="0.5">WT</text>
<text transform="translate(360.18,135.60) scale(1.073,1)" font-size="13.38" font-weight="normal" font-style="italic" fill="#000" stroke="#000" stroke-width="0.5">Gab2</text>
<text transform="translate(396.24,125.20) scale(1.292,1)" font-size="6.90" font-weight="normal" font-style="italic" fill="#000" stroke="#000" stroke-width="0.3">–/–</text>
<line x1="429.70" y1="55.00" x2="507.30" y2="55.00" stroke="#a0a0a0" stroke-width="1.3"/>
<line x1="429.70" y1="84.00" x2="507.30" y2="84.00" stroke="#a0a0a0" stroke-width="1.3"/>
<line x1="429.70" y1="112.60" x2="507.30" y2="112.60" stroke="#a0a0a0" stroke-width="1.3"/>
<rect x="437.40" y="25.40" width="26.60" height="87.20" fill="#0c0cfa"/>
<line x1="450.70" y1="24.00" x2="450.70" y2="27.30" stroke="#000" stroke-width="1.8"/>
<line x1="447.00" y1="24.00" x2="454.40" y2="24.00" stroke="#000" stroke-width="1.9"/>
<line x1="447.00" y1="27.30" x2="454.40" y2="27.30" stroke="#000" stroke-width="1.9"/>
<line x1="450.70" y1="117.20" x2="450.70" y2="119.40" stroke="#000" stroke-width="1"/>
<rect x="472.70" y="74.40" width="26.60" height="38.20" fill="#ec2027"/>
<line x1="486.00" y1="69.70" x2="486.00" y2="79.00" stroke="#000" stroke-width="1.8"/>
<line x1="482.30" y1="69.70" x2="489.70" y2="69.70" stroke="#000" stroke-width="1.9"/>
<line x1="482.30" y1="79.00" x2="489.70" y2="79.00" stroke="#000" stroke-width="1.9"/>
<line x1="486.00" y1="117.20" x2="486.00" y2="119.40" stroke="#000" stroke-width="1"/>
<polygon points="486.10,60.50 487.01,61.75 488.48,62.23 487.57,63.48 487.57,65.02 486.10,64.55 484.63,65.02 484.63,63.48 483.72,62.23 485.19,61.75" fill="#000" stroke="#000" stroke-width="0.6" stroke-linejoin="round"/>
<line x1="429.70" y1="19.60" x2="429.70" y2="118.20" stroke="#000" stroke-width="2"/>
<line x1="428.70" y1="117.20" x2="507.30" y2="117.20" stroke="#000" stroke-width="2"/>
<line x1="427.80" y1="25.90" x2="429.70" y2="25.90" stroke="#000" stroke-width="1.2"/>
<text transform="translate(411.16,29.15) scale(1.154,1)" font-size="11.03" font-weight="normal" font-style="normal" fill="#000" stroke="#000" stroke-width="0.45">30</text>
<line x1="427.80" y1="55.00" x2="429.70" y2="55.00" stroke="#000" stroke-width="1.2"/>
<text transform="translate(411.16,58.25) scale(1.153,1)" font-size="11.03" font-weight="normal" font-style="normal" fill="#000" stroke="#000" stroke-width="0.45">20</text>
<line x1="427.80" y1="84.00" x2="429.70" y2="84.00" stroke="#000" stroke-width="1.2"/>
<text transform="translate(411.17,87.25) scale(1.152,1)" font-size="11.03" font-weight="normal" font-style="normal" fill="#000" stroke="#000" stroke-width="0.45">10</text>
<line x1="427.80" y1="112.60" x2="429.70" y2="112.60" stroke="#000" stroke-width="1.2"/>
<text transform="translate(418.45,117.45) scale(1.113,1)" font-size="11.03" font-weight="normal" font-style="normal" fill="#000" stroke="#000" stroke-width="0.45">0</text>
<text transform="translate(449.49,13.45) scale(1.212,1)" font-size="13.24" font-weight="bold" font-style="italic" fill="#000" stroke="#000" stroke-width="0.5">Cdc6</text>
<text transform="translate(439.54,135.60) scale(1.076,1)" font-size="13.38" font-weight="normal" font-style="italic" fill="#000" stroke="#000" stroke-width="0.5">WT</text>
<text transform="translate(470.98,135.60) scale(1.073,1)" font-size="13.38" font-weight="normal" font-style="italic" fill="#000" stroke="#000" stroke-width="0.5">Gab2</text>
<text transform="translate(507.04,125.20) scale(1.292,1)" font-size="6.90" font-weight="normal" font-style="italic" fill="#000" stroke="#000" stroke-width="0.3">–/–</text>
<line x1="209.00" y1="193.30" x2="286.70" y2="193.30" stroke="#a0a0a0" stroke-width="1.3"/>
<line x1="209.00" y1="215.80" x2="286.70" y2="215.80" stroke="#a0a0a0" stroke-width="1.3"/>
<line x1="209.00" y1="238.80" x2="286.70" y2="238.80" stroke="#a0a0a0" stroke-width="1.3"/>
<line x1="209.00" y1="261.30" x2="286.70" y2="261.30" stroke="#a0a0a0" stroke-width="1.3"/>
<rect x="216.90" y="210.60" width="26.00" height="50.70" fill="#0c0cfa"/>
<line x1="229.90" y1="205.00" x2="229.90" y2="216.30" stroke="#000" stroke-width="1.8"/>
<line x1="226.20" y1="205.00" x2="233.60" y2="205.00" stroke="#000" stroke-width="1.9"/>
<line x1="226.20" y1="216.30" x2="233.60" y2="216.30" stroke="#000" stroke-width="1.9"/>
<line x1="229.90" y1="266.00" x2="229.90" y2="268.20" stroke="#000" stroke-width="1"/>
<rect x="251.50" y="176.80" width="26.30" height="84.50" fill="#ec2027"/>
<line x1="264.65" y1="172.00" x2="264.65" y2="182.60" stroke="#000" stroke-width="1.8"/>
<line x1="260.95" y1="172.00" x2="268.35" y2="172.00" stroke="#000" stroke-width="1.9"/>
<line x1="260.95" y1="182.60" x2="268.35" y2="182.60" stroke="#000" stroke-width="1.9"/>
<line x1="264.65" y1="266.00" x2="264.65" y2="268.20" stroke="#000" stroke-width="1"/>
<polygon points="265.10,165.60 266.01,166.85 267.48,167.33 266.57,168.58 266.57,170.12 265.10,169.65 263.63,170.12 263.63,168.58 262.72,167.33 264.19,166.85" fill="#000" stroke="#000" stroke-width="0.6" stroke-linejoin="round"/>
<line x1="209.00" y1="167.00" x2="209.00" y2="267.00" stroke="#000" stroke-width="2"/>
<line x1="208.00" y1="266.00" x2="286.70" y2="266.00" stroke="#000" stroke-width="2"/>
<line x1="207.10" y1="170.20" x2="209.00" y2="170.20" stroke="#000" stroke-width="1.2"/>
<text transform="translate(190.46,173.45) scale(1.153,1)" font-size="11.03" font-weight="normal" font-style="normal" fill="#000" stroke="#000" stroke-width="0.45">20</text>
<line x1="207.10" y1="193.30" x2="209.00" y2="193.30" stroke="#000" stroke-width="1.2"/>
<text transform="translate(190.50,196.49) scale(1.153,1)" font-size="11.02" font-weight="normal" font-style="normal" fill="#000" stroke="#000" stroke-width="0.45">15</text>
<line x1="207.10" y1="215.80" x2="209.00" y2="215.80" stroke="#000" stroke-width="1.2"/>
<text transform="translate(190.47,219.05) scale(1.152,1)" font-size="11.03" font-weight="normal" font-style="normal" fill="#000" stroke="#000" stroke-width="0.45">10</text>
<line x1="207.10" y1="238.80" x2="209.00" y2="238.80" stroke="#000" stroke-width="1.2"/>
<text transform="translate(197.78,241.99) scale(1.113,1)" font-size="11.02" font-weight="normal" font-style="normal" fill="#000" stroke="#000" stroke-width="0.45">5</text>
<line x1="207.10" y1="261.30" x2="209.00" y2="261.30" stroke="#000" stroke-width="1.2"/>
<text transform="translate(197.75,266.15) scale(1.113,1)" font-size="11.03" font-weight="normal" font-style="normal" fill="#000" stroke="#000" stroke-width="0.45">0</text>
<text transform="translate(226.16,160.85) scale(1.211,1)" font-size="13.48" font-weight="bold" font-style="italic" fill="#000" stroke="#000" stroke-width="0.5">Foxo3</text>
<text transform="translate(217.44,284.00) scale(1.076,1)" font-size="13.38" font-weight="normal" font-style="italic" fill="#000" stroke="#000" stroke-width="0.5">WT</text>
<text transform="translate(247.48,284.00) scale(1.073,1)" font-size="13.38" font-weight="normal" font-style="italic" fill="#000" stroke="#000" stroke-width="0.5">Gab2</text>
<text transform="translate(283.54,273.60) scale(1.292,1)" font-size="6.90" font-weight="normal" font-style="italic" fill="#000" stroke="#000" stroke-width="0.3">–/–</text>
<line x1="320.50" y1="196.10" x2="398.50" y2="196.10" stroke="#a0a0a0" stroke-width="1.3"/>
<line x1="320.50" y1="228.90" x2="398.50" y2="228.90" stroke="#a0a0a0" stroke-width="1.3"/>
<line x1="320.50" y1="261.50" x2="398.50" y2="261.50" stroke="#a0a0a0" stroke-width="1.3"/>
<rect x="328.00" y="200.00" width="27.00" height="61.50" fill="#0c0cfa"/>
<line x1="341.50" y1="198.40" x2="341.50" y2="201.90" stroke="#000" stroke-width="1.8"/>
<line x1="337.80" y1="198.40" x2="345.20" y2="198.40" stroke="#000" stroke-width="1.9"/>
<line x1="337.80" y1="201.90" x2="345.20" y2="201.90" stroke="#000" stroke-width="1.9"/>
<line x1="341.50" y1="266.10" x2="341.50" y2="268.30" stroke="#000" stroke-width="1"/>
<rect x="363.40" y="174.60" width="26.60" height="86.90" fill="#ec2027"/>
<line x1="376.70" y1="172.30" x2="376.70" y2="177.00" stroke="#000" stroke-width="1.8"/>
<line x1="373.00" y1="172.30" x2="380.40" y2="172.30" stroke="#000" stroke-width="1.9"/>
<line x1="373.00" y1="177.00" x2="380.40" y2="177.00" stroke="#000" stroke-width="1.9"/>
<line x1="376.70" y1="266.10" x2="376.70" y2="268.30" stroke="#000" stroke-width="1"/>
<polygon points="377.00,165.10 377.91,166.35 379.38,166.83 378.47,168.08 378.47,169.62 377.00,169.15 375.53,169.62 375.53,168.08 374.62,166.83 376.09,166.35" fill="#000" stroke="#000" stroke-width="0.6" stroke-linejoin="round"/>
<line x1="320.50" y1="168.20" x2="320.50" y2="267.10" stroke="#000" stroke-width="2"/>
<line x1="319.50" y1="266.10" x2="398.50" y2="266.10" stroke="#000" stroke-width="2"/>
<line x1="318.60" y1="196.10" x2="320.50" y2="196.10" stroke="#000" stroke-width="1.2"/>
<text transform="translate(301.96,199.35) scale(1.153,1)" font-size="11.03" font-weight="normal" font-style="normal" fill="#000" stroke="#000" stroke-width="0.45">20</text>
<line x1="318.60" y1="228.90" x2="320.50" y2="228.90" stroke="#000" stroke-width="1.2"/>
<text transform="translate(301.97,232.15) scale(1.152,1)" font-size="11.03" font-weight="normal" font-style="normal" fill="#000" stroke="#000" stroke-width="0.45">10</text>
<line x1="318.60" y1="261.50" x2="320.50" y2="261.50" stroke="#000" stroke-width="1.2"/>
<text transform="translate(309.25,266.35) scale(1.113,1)" font-size="11.03" font-weight="normal" font-style="normal" fill="#000" stroke="#000" stroke-width="0.45">0</text>
<text transform="translate(329.96,160.75) scale(1.268,1)" font-size="13.10" font-weight="bold" font-style="italic" fill="#000" stroke="#000" stroke-width="0.5">Bcl2l11</text>
<text transform="translate(329.34,284.00) scale(1.076,1)" font-size="13.38" font-weight="normal" font-style="italic" fill="#000" stroke="#000" stroke-width="0.5">WT</text>
<text transform="translate(359.58,284.00) scale(1.073,1)" font-size="13.38" font-weight="normal" font-style="italic" fill="#000" stroke="#000" stroke-width="0.5">Gab2</text>
<text transform="translate(395.64,273.60) scale(1.292,1)" font-size="6.90" font-weight="normal" font-style="italic" fill="#000" stroke="#000" stroke-width="0.3">–/–</text>
<line x1="429.90" y1="188.00" x2="507.20" y2="188.00" stroke="#a0a0a0" stroke-width="1.3"/>
<line x1="429.90" y1="212.70" x2="507.20" y2="212.70" stroke="#a0a0a0" stroke-width="1.3"/>
<line x1="429.90" y1="237.00" x2="507.20" y2="237.00" stroke="#a0a0a0" stroke-width="1.3"/>
<line x1="429.90" y1="261.20" x2="507.20" y2="261.20" stroke="#a0a0a0" stroke-width="1.3"/>
<rect x="438.00" y="188.50" width="26.00" height="72.70" fill="#0c0cfa"/>
<line x1="451.00" y1="173.00" x2="451.00" y2="205.10" stroke="#000" stroke-width="1.8"/>
<line x1="447.30" y1="173.00" x2="454.70" y2="173.00" stroke="#000" stroke-width="1.9"/>
<line x1="447.30" y1="205.10" x2="454.70" y2="205.10" stroke="#000" stroke-width="1.9"/>
<line x1="451.00" y1="265.40" x2="451.00" y2="267.60" stroke="#000" stroke-width="1"/>
<rect x="472.70" y="215.70" width="26.60" height="45.50" fill="#ec2027"/>
<line x1="486.00" y1="210.90" x2="486.00" y2="220.80" stroke="#000" stroke-width="1.8"/>
<line x1="482.30" y1="210.90" x2="489.70" y2="210.90" stroke="#000" stroke-width="1.9"/>
<line x1="482.30" y1="220.80" x2="489.70" y2="220.80" stroke="#000" stroke-width="1.9"/>
<line x1="486.00" y1="265.40" x2="486.00" y2="267.60" stroke="#000" stroke-width="1"/>
<polygon points="486.00,202.40 486.91,203.65 488.38,204.13 487.47,205.38 487.47,206.92 486.00,206.45 484.53,206.92 484.53,205.38 483.62,204.13 485.09,203.65" fill="#000" stroke="#000" stroke-width="0.6" stroke-linejoin="round"/>
<line x1="429.90" y1="168.20" x2="429.90" y2="266.40" stroke="#000" stroke-width="2"/>
<line x1="428.90" y1="265.40" x2="507.20" y2="265.40" stroke="#000" stroke-width="2"/>
<line x1="428.00" y1="188.00" x2="429.90" y2="188.00" stroke="#000" stroke-width="1.2"/>
<text transform="translate(411.40,191.19) scale(1.153,1)" font-size="11.02" font-weight="normal" font-style="normal" fill="#000" stroke="#000" stroke-width="0.45">15</text>
<line x1="428.00" y1="212.70" x2="429.90" y2="212.70" stroke="#000" stroke-width="1.2"/>
<text transform="translate(411.37,215.95) scale(1.152,1)" font-size="11.03" font-weight="normal" font-style="normal" fill="#000" stroke="#000" stroke-width="0.45">10</text>
<line x1="428.00" y1="237.00" x2="429.90" y2="237.00" stroke="#000" stroke-width="1.2"/>
<text transform="translate(418.68,240.19) scale(1.113,1)" font-size="11.02" font-weight="normal" font-style="normal" fill="#000" stroke="#000" stroke-width="0.45">5</text>
<line x1="428.00" y1="261.20" x2="429.90" y2="261.20" stroke="#000" stroke-width="1.2"/>
<text transform="translate(418.65,266.05) scale(1.113,1)" font-size="11.03" font-weight="normal" font-style="normal" fill="#000" stroke="#000" stroke-width="0.45">0</text>
<text transform="translate(452.06,160.75) scale(1.236,1)" font-size="13.52" font-weight="bold" font-style="italic" fill="#000" stroke="#000" stroke-width="0.5">Bcl2</text>
<text transform="translate(439.74,284.00) scale(1.076,1)" font-size="13.38" font-weight="normal" font-style="italic" fill="#000" stroke="#000" stroke-width="0.5">WT</text>
<text transform="translate(470.18,284.00) scale(1.073,1)" font-size="13.38" font-weight="normal" font-style="italic" fill="#000" stroke="#000" stroke-width="0.5">Gab2</text>
<text transform="translate(506.24,273.60) scale(1.292,1)" font-size="6.90" font-weight="normal" font-style="italic" fill="#000" stroke="#000" stroke-width="0.3">–/–</text>
<line x1="209.10" y1="348.40" x2="286.70" y2="348.40" stroke="#a0a0a0" stroke-width="1.3"/>
<line x1="209.10" y1="380.40" x2="286.70" y2="380.40" stroke="#a0a0a0" stroke-width="1.3"/>
<line x1="209.10" y1="412.10" x2="286.70" y2="412.10" stroke="#a0a0a0" stroke-width="1.3"/>
<rect x="216.90" y="326.10" width="26.00" height="86.00" fill="#0c0cfa"/>
<line x1="229.90" y1="323.30" x2="229.90" y2="329.00" stroke="#000" stroke-width="1.8"/>
<line x1="226.20" y1="323.30" x2="233.60" y2="323.30" stroke="#000" stroke-width="1.9"/>
<line x1="226.20" y1="329.00" x2="233.60" y2="329.00" stroke="#000" stroke-width="1.9"/>
<line x1="229.90" y1="416.40" x2="229.90" y2="418.60" stroke="#000" stroke-width="1"/>
<rect x="251.50" y="353.00" width="26.30" height="59.10" fill="#ec2027"/>
<line x1="264.65" y1="347.80" x2="264.65" y2="358.50" stroke="#000" stroke-width="1.8"/>
<line x1="260.95" y1="347.80" x2="268.35" y2="347.80" stroke="#000" stroke-width="1.9"/>
<line x1="260.95" y1="358.50" x2="268.35" y2="358.50" stroke="#000" stroke-width="1.9"/>
<line x1="264.65" y1="416.40" x2="264.65" y2="418.60" stroke="#000" stroke-width="1"/>
<polygon points="264.60,338.30 265.51,339.55 266.98,340.03 266.07,341.28 266.07,342.82 264.60,342.35 263.13,342.82 263.13,341.28 262.22,340.03 263.69,339.55" fill="#000" stroke="#000" stroke-width="0.6" stroke-linejoin="round"/>
<line x1="209.10" y1="319.00" x2="209.10" y2="417.40" stroke="#000" stroke-width="2"/>
<line x1="208.10" y1="416.40" x2="286.70" y2="416.40" stroke="#000" stroke-width="2"/>
<line x1="207.20" y1="348.40" x2="209.10" y2="348.40" stroke="#000" stroke-width="1.2"/>
<text transform="translate(190.55,351.65) scale(1.154,1)" font-size="11.03" font-weight="normal" font-style="normal" fill="#000" stroke="#000" stroke-width="0.45">40</text>
<line x1="207.20" y1="380.40" x2="209.10" y2="380.40" stroke="#000" stroke-width="1.2"/>
<text transform="translate(190.56,383.65) scale(1.153,1)" font-size="11.03" font-weight="normal" font-style="normal" fill="#000" stroke="#000" stroke-width="0.45">20</text>
<line x1="207.20" y1="412.10" x2="209.10" y2="412.10" stroke="#000" stroke-width="1.2"/>
<text transform="translate(197.85,415.45) scale(1.113,1)" font-size="11.03" font-weight="normal" font-style="normal" fill="#000" stroke="#000" stroke-width="0.45">0</text>
<text transform="translate(223.98,311.95) scale(1.193,1)" font-size="13.66" font-weight="bold" font-style="italic" fill="#000" stroke="#000" stroke-width="0.5">Gtf2h5</text>
<text transform="translate(217.64,436.20) scale(1.076,1)" font-size="13.38" font-weight="normal" font-style="italic" fill="#000" stroke="#000" stroke-width="0.5">WT</text>
<text transform="translate(246.93,436.20) scale(1.073,1)" font-size="13.38" font-weight="normal" font-style="italic" fill="#000" stroke="#000" stroke-width="0.5">Gab2</text>
<text transform="translate(282.99,425.80) scale(1.292,1)" font-size="6.90" font-weight="normal" font-style="italic" fill="#000" stroke="#000" stroke-width="0.3">–/–</text>
<line x1="320.00" y1="350.50" x2="397.00" y2="350.50" stroke="#a0a0a0" stroke-width="1.3"/>
<line x1="320.00" y1="381.20" x2="397.00" y2="381.20" stroke="#a0a0a0" stroke-width="1.3"/>
<line x1="320.00" y1="411.70" x2="397.00" y2="411.70" stroke="#a0a0a0" stroke-width="1.3"/>
<rect x="328.00" y="396.70" width="26.70" height="15.00" fill="#0c0cfa"/>
<line x1="341.35" y1="393.20" x2="341.35" y2="400.40" stroke="#000" stroke-width="1.8"/>
<line x1="337.65" y1="393.20" x2="345.05" y2="393.20" stroke="#000" stroke-width="1.9"/>
<line x1="337.65" y1="400.40" x2="345.05" y2="400.40" stroke="#000" stroke-width="1.9"/>
<line x1="341.35" y1="416.30" x2="341.35" y2="418.50" stroke="#000" stroke-width="1"/>
<rect x="363.40" y="332.30" width="25.90" height="79.40" fill="#ec2027"/>
<line x1="376.35" y1="322.80" x2="376.35" y2="342.00" stroke="#000" stroke-width="1.8"/>
<line x1="372.65" y1="322.80" x2="380.05" y2="322.80" stroke="#000" stroke-width="1.9"/>
<line x1="372.65" y1="342.00" x2="380.05" y2="342.00" stroke="#000" stroke-width="1.9"/>
<line x1="376.35" y1="416.30" x2="376.35" y2="418.50" stroke="#000" stroke-width="1"/>
<polygon points="376.20,315.10 377.11,316.35 378.58,316.83 377.67,318.08 377.67,319.62 376.20,319.15 374.73,319.62 374.73,318.08 373.82,316.83 375.29,316.35" fill="#000" stroke="#000" stroke-width="0.6" stroke-linejoin="round"/>
<line x1="320.00" y1="318.90" x2="320.00" y2="417.30" stroke="#000" stroke-width="2"/>
<line x1="319.00" y1="416.30" x2="397.00" y2="416.30" stroke="#000" stroke-width="2"/>
<line x1="318.10" y1="320.00" x2="320.00" y2="320.00" stroke="#000" stroke-width="1.2"/>
<text transform="translate(297.83,323.19) scale(1.161,1)" font-size="11.02" font-weight="normal" font-style="normal" fill="#000" stroke="#000" stroke-width="0.45">1.5</text>
<line x1="318.10" y1="350.50" x2="320.00" y2="350.50" stroke="#000" stroke-width="1.2"/>
<text transform="translate(297.79,353.75) scale(1.160,1)" font-size="11.03" font-weight="normal" font-style="normal" fill="#000" stroke="#000" stroke-width="0.45">1.0</text>
<line x1="318.10" y1="381.20" x2="320.00" y2="381.20" stroke="#000" stroke-width="1.2"/>
<text transform="translate(297.82,384.45) scale(1.161,1)" font-size="11.03" font-weight="normal" font-style="normal" fill="#000" stroke="#000" stroke-width="0.45">0.5</text>
<line x1="318.10" y1="411.70" x2="320.00" y2="411.70" stroke="#000" stroke-width="1.2"/>
<text transform="translate(297.78,416.55) scale(1.161,1)" font-size="11.03" font-weight="normal" font-style="normal" fill="#000" stroke="#000" stroke-width="0.45">0.0</text>
<text transform="translate(341.12,311.35) scale(1.257,1)" font-size="12.83" font-weight="bold" font-style="italic" fill="#000" stroke="#000" stroke-width="0.5">Bcl6</text>
<text transform="translate(329.34,436.20) scale(1.076,1)" font-size="13.38" font-weight="normal" font-style="italic" fill="#000" stroke="#000" stroke-width="0.5">WT</text>
<text transform="translate(359.88,436.20) scale(1.073,1)" font-size="13.38" font-weight="normal" font-style="italic" fill="#000" stroke="#000" stroke-width="0.5">Gab2</text>
<text transform="translate(395.94,425.80) scale(1.292,1)" font-size="6.90" font-weight="normal" font-style="italic" fill="#000" stroke="#000" stroke-width="0.3">–/–</text>
<line x1="430.00" y1="320.00" x2="510.40" y2="320.00" stroke="#a0a0a0" stroke-width="1.3"/>
<line x1="430.00" y1="338.50" x2="510.40" y2="338.50" stroke="#a0a0a0" stroke-width="1.3"/>
<line x1="430.00" y1="357.00" x2="510.40" y2="357.00" stroke="#a0a0a0" stroke-width="1.3"/>
<line x1="430.00" y1="375.50" x2="510.40" y2="375.50" stroke="#a0a0a0" stroke-width="1.3"/>
<line x1="430.00" y1="393.90" x2="510.40" y2="393.90" stroke="#a0a0a0" stroke-width="1.3"/>
<line x1="430.00" y1="412.00" x2="510.40" y2="412.00" stroke="#a0a0a0" stroke-width="1.3"/>
<rect x="438.00" y="335.70" width="27.40" height="76.30" fill="#0c0cfa"/>
<line x1="451.70" y1="323.00" x2="451.70" y2="347.70" stroke="#000" stroke-width="1.8"/>
<line x1="448.00" y1="323.00" x2="455.40" y2="323.00" stroke="#000" stroke-width="1.9"/>
<line x1="448.00" y1="347.70" x2="455.40" y2="347.70" stroke="#000" stroke-width="1.9"/>
<line x1="451.70" y1="416.60" x2="451.70" y2="418.80" stroke="#000" stroke-width="1"/>
<rect x="474.40" y="362.00" width="27.60" height="50.00" fill="#ec2027"/>
<line x1="488.20" y1="359.70" x2="488.20" y2="363.90" stroke="#000" stroke-width="1.8"/>
<line x1="484.50" y1="359.70" x2="491.90" y2="359.70" stroke="#000" stroke-width="1.9"/>
<line x1="484.50" y1="363.90" x2="491.90" y2="363.90" stroke="#000" stroke-width="1.9"/>
<line x1="488.20" y1="416.60" x2="488.20" y2="418.80" stroke="#000" stroke-width="1"/>
<polygon points="488.20,349.90 489.11,351.15 490.58,351.63 489.67,352.88 489.67,354.42 488.20,353.95 486.73,354.42 486.73,352.88 485.82,351.63 487.29,351.15" fill="#000" stroke="#000" stroke-width="0.6" stroke-linejoin="round"/>
<line x1="430.00" y1="318.90" x2="430.00" y2="417.60" stroke="#000" stroke-width="2"/>
<line x1="429.00" y1="416.60" x2="510.40" y2="416.60" stroke="#000" stroke-width="2"/>
<line x1="428.10" y1="320.00" x2="430.00" y2="320.00" stroke="#000" stroke-width="1.2"/>
<text transform="translate(418.78,323.19) scale(1.113,1)" font-size="11.02" font-weight="normal" font-style="normal" fill="#000" stroke="#000" stroke-width="0.45">5</text>
<line x1="428.10" y1="338.50" x2="430.00" y2="338.50" stroke="#000" stroke-width="1.2"/>
<text transform="translate(418.60,341.69) scale(1.118,1)" font-size="11.02" font-weight="normal" font-style="normal" fill="#000" stroke="#000" stroke-width="0.45">4</text>
<line x1="428.10" y1="357.00" x2="430.00" y2="357.00" stroke="#000" stroke-width="1.2"/>
<text transform="translate(418.81,360.25) scale(1.112,1)" font-size="11.03" font-weight="normal" font-style="normal" fill="#000" stroke="#000" stroke-width="0.45">3</text>
<line x1="428.10" y1="375.50" x2="430.00" y2="375.50" stroke="#000" stroke-width="1.2"/>
<text transform="translate(418.92,378.75) scale(1.109,1)" font-size="11.03" font-weight="normal" font-style="normal" fill="#000" stroke="#000" stroke-width="0.45">2</text>
<line x1="428.10" y1="393.90" x2="430.00" y2="393.90" stroke="#000" stroke-width="1.2"/>
<text transform="translate(418.92,397.09) scale(1.106,1)" font-size="11.02" font-weight="normal" font-style="normal" fill="#000" stroke="#000" stroke-width="0.45">1</text>
<line x1="428.10" y1="412.00" x2="430.00" y2="412.00" stroke="#000" stroke-width="1.2"/>
<text transform="translate(418.75,416.85) scale(1.113,1)" font-size="11.03" font-weight="normal" font-style="normal" fill="#000" stroke="#000" stroke-width="0.45">0</text>
<text transform="translate(457.96,311.75) scale(1.182,1)" font-size="13.93" font-weight="bold" font-style="italic" fill="#000" stroke="#000" stroke-width="0.5">Lif</text>
<text transform="translate(439.74,436.20) scale(1.076,1)" font-size="13.38" font-weight="normal" font-style="italic" fill="#000" stroke="#000" stroke-width="0.5">WT</text>
<text transform="translate(470.18,436.20) scale(1.073,1)" font-size="13.38" font-weight="normal" font-style="italic" fill="#000" stroke="#000" stroke-width="0.5">Gab2</text>
<text transform="translate(506.24,425.80) scale(1.292,1)" font-size="6.90" font-weight="normal" font-style="italic" fill="#000" stroke="#000" stroke-width="0.3">–/–</text>
<text transform="translate(166.51,13.10) scale(0.952,1)" font-size="18.21" font-weight="bold" font-style="normal" fill="#000" stroke="#000" stroke-width="0.4">C</text>
<text transform="translate(166.53,157.40) scale(0.967,1)" font-size="17.89" font-weight="bold" font-style="normal" fill="#000" stroke="#000" stroke-width="0.4">D</text>
<text transform="translate(166.24,304.60) scale(0.935,1)" font-size="18.33" font-weight="bold" font-style="normal" fill="#000" stroke="#000" stroke-width="0.4">E</text>
<text transform="translate(183.00,88.78) rotate(-90) scale(0.912,1)" font-size="14.40" font-weight="normal" font-style="normal" fill="#000" stroke="#000" stroke-width="0.55">FPKM</text>
<text transform="translate(182.70,236.10) rotate(-90) scale(0.909,1)" font-size="14.69" font-weight="normal" font-style="normal" fill="#000" stroke="#000" stroke-width="0.55">FPKM</text>
<text transform="translate(183.00,391.99) rotate(-90) scale(0.857,1)" font-size="15.42" font-weight="normal" font-style="normal" fill="#000" stroke="#000" stroke-width="0.55">FPKM</text>
<rect x="151.00" y="444.40" width="367.00" height="209.00" fill="#ececec"/>
<rect x="190.40" y="458.80" width="158.00" height="150.20" fill="#fff"/>
<line x1="190.40" y1="459.10" x2="348.40" y2="459.10" stroke="#d8d8d8" stroke-width="0.6"/>
<line x1="207.50" y1="460.00" x2="207.50" y2="530.00" stroke="#f4f4f4" stroke-width="0.7"/>
<line x1="223.60" y1="460.00" x2="223.60" y2="530.00" stroke="#f4f4f4" stroke-width="0.7"/>
<line x1="239.70" y1="460.00" x2="239.70" y2="530.00" stroke="#f4f4f4" stroke-width="0.7"/>
<line x1="255.80" y1="460.00" x2="255.80" y2="530.00" stroke="#f4f4f4" stroke-width="0.7"/>
<line x1="271.90" y1="460.00" x2="271.90" y2="530.00" stroke="#f4f4f4" stroke-width="0.7"/>
<line x1="288.00" y1="460.00" x2="288.00" y2="530.00" stroke="#f4f4f4" stroke-width="0.7"/>
<line x1="304.10" y1="460.00" x2="304.10" y2="530.00" stroke="#f4f4f4" stroke-width="0.7"/>
<line x1="320.20" y1="460.00" x2="320.20" y2="530.00" stroke="#f4f4f4" stroke-width="0.7"/>
<line x1="190.40" y1="463.80" x2="348.40" y2="463.80" stroke="#f4f4f4" stroke-width="0.7"/>
<line x1="190.40" y1="472.70" x2="348.40" y2="472.70" stroke="#f4f4f4" stroke-width="0.7"/>
<line x1="190.40" y1="481.70" x2="348.40" y2="481.70" stroke="#f4f4f4" stroke-width="0.7"/>
<line x1="190.40" y1="490.60" x2="348.40" y2="490.60" stroke="#f4f4f4" stroke-width="0.7"/>
<line x1="190.40" y1="499.50" x2="348.40" y2="499.50" stroke="#f4f4f4" stroke-width="0.7"/>
<line x1="190.40" y1="508.50" x2="348.40" y2="508.50" stroke="#f4f4f4" stroke-width="0.7"/>
<line x1="190.40" y1="517.40" x2="348.40" y2="517.40" stroke="#f4f4f4" stroke-width="0.7"/>
<line x1="190.40" y1="526.30" x2="348.40" y2="526.30" stroke="#f4f4f4" stroke-width="0.7"/>
<line x1="190.40" y1="530.80" x2="348.40" y2="530.80" stroke="#e4e4e4" stroke-width="0.6"/>
<path d="M191.1,463.8 L197.2,466.9 L203.4,469.1 L208.0,470.6 L214.2,472.6 L220.3,475.2 L228.0,479.5 L235.7,483.8 L243.4,488.0 L251.1,492.6 L258.8,497.2 L265.0,501.4 L272.7,505.7 L280.4,510.0 L288.1,514.2 L295.8,518.3 L303.5,522.3 L309.6,525.4 L314.2,526.9 L318.1,527.2 L320.4,525.7 L324.2,519.5 L329.6,513.4 L331.2,510.3 L332.7,502.6 L335.0,491.8 L337.3,479.5 L339.6,467.2 L340.7,463.4" fill="none" stroke="#36dc36" stroke-width="1.7" stroke-linejoin="round" stroke-linecap="round"/>
<rect x="195.80" y="532.00" width="1.00" height="22.30" fill="#555555"/>
<rect x="200.60" y="532.00" width="1.00" height="22.30" fill="#646464"/>
<rect x="203.80" y="532.00" width="1.00" height="22.30" fill="#555555"/>
<rect x="204.80" y="532.00" width="1.00" height="22.30" fill="#737373"/>
<rect x="208.00" y="532.00" width="1.00" height="22.30" fill="#282828"/>
<rect x="211.20" y="532.00" width="1.00" height="22.30" fill="#aaaaaa"/>
<rect x="212.30" y="532.00" width="1.00" height="22.30" fill="#b9b9b9"/>
<rect x="214.90" y="532.00" width="1.00" height="22.30" fill="#555555"/>
<rect x="216.50" y="532.00" width="1.00" height="22.30" fill="#b9b9b9"/>
<rect x="220.70" y="532.00" width="1.00" height="22.30" fill="#464646"/>
<rect x="223.40" y="532.00" width="1.00" height="22.30" fill="#aaaaaa"/>
<rect x="224.90" y="532.00" width="1.00" height="22.30" fill="#969696"/>
<rect x="226.50" y="532.00" width="1.00" height="22.30" fill="#878787"/>
<rect x="233.90" y="532.00" width="1.00" height="22.30" fill="#555555"/>
<rect x="237.10" y="532.00" width="1.00" height="22.30" fill="#737373"/>
<rect x="238.70" y="532.00" width="1.00" height="22.30" fill="#878787"/>
<rect x="286.30" y="532.00" width="1.00" height="22.30" fill="#a0a0a0"/>
<rect x="293.70" y="532.00" width="2.30" height="22.30" fill="#c8c8c8"/>
<rect x="296.00" y="532.00" width="1.70" height="22.30" fill="#969696"/>
<rect x="297.70" y="532.00" width="2.30" height="22.30" fill="#828282"/>
<rect x="300.00" y="532.00" width="1.10" height="22.30" fill="#505050"/>
<rect x="301.10" y="532.00" width="2.90" height="22.30" fill="#b4b4b4"/>
<rect x="304.00" y="532.00" width="1.80" height="22.30" fill="#0a0a0a"/>
<rect x="305.80" y="532.00" width="1.70" height="22.30" fill="#6e6e6e"/>
<rect x="307.50" y="532.00" width="2.30" height="22.30" fill="#0a0a0a"/>
<rect x="309.80" y="532.00" width="2.30" height="22.30" fill="#969696"/>
<rect x="313.80" y="532.00" width="1.80" height="22.30" fill="#282828"/>
<rect x="315.60" y="532.00" width="2.80" height="22.30" fill="#828282"/>
<rect x="318.40" y="532.00" width="6.40" height="22.30" fill="#050505"/>
<rect x="324.80" y="532.00" width="1.70" height="22.30" fill="#323232"/>
<rect x="326.50" y="532.00" width="1.80" height="22.30" fill="#aaaaaa"/>
<rect x="328.30" y="532.00" width="2.80" height="22.30" fill="#050505"/>
<rect x="331.10" y="532.00" width="2.90" height="22.30" fill="#6e6e6e"/>
<rect x="334.00" y="532.00" width="1.80" height="22.30" fill="#050505"/>
<rect x="335.80" y="532.00" width="1.70" height="22.30" fill="#828282"/>
<rect x="337.50" y="532.00" width="2.90" height="22.30" fill="#050505"/>
<defs><linearGradient id="cb190" x1="0" x2="1" y1="0" y2="0"><stop offset="0" stop-color="#ee4444"/><stop offset="0.217" stop-color="#f05050"/><stop offset="0.257" stop-color="#f48080"/><stop offset="0.267" stop-color="#fac0dc"/><stop offset="0.682" stop-color="#f6b0d6"/><stop offset="0.688" stop-color="#d0d0f6"/><stop offset="0.863" stop-color="#a8a8ec"/><stop offset="0.973" stop-color="#5656d6"/><stop offset="1" stop-color="#3434bc"/></linearGradient></defs>
<rect x="190.90" y="555.10" width="149.70" height="5.00" fill="url(#cb190)"/>
<text transform="translate(192.59,564.80) scale(0.879,1)" font-size="4.55" font-weight="bold" font-style="normal" fill="#d01828" stroke="#d01828" stroke-width="0.15">&#39;na_pos&#39; (positively correlated)</text>
<text transform="translate(268.22,605.60) scale(0.789,1)" font-size="4.28" font-weight="bold" font-style="normal" fill="#2424d0" stroke="#2424d0" stroke-width="0.15">&#39;na_neg&#39; (negatively correlated)</text>
<text transform="translate(227.08,587.00) scale(0.802,1)" font-size="5.16" font-weight="bold" font-style="normal" fill="#333">Zero cross at 9769</text>
<path d="M190.9,576 L191.6,580.8 L222.4,581.3" fill="none" stroke="#a8a8a8" stroke-width="0.9"/>
<path d="M222.4,581.3 L300.4,582.4" fill="none" stroke="#e4e4e4" stroke-width="0.8"/>
<path d="M300.4,582.4 L337.6,583.0 L339.8,583.4 L340.1,608.5" fill="none" stroke="#b0b0b0" stroke-width="0.9"/>
<text transform="translate(189.10,614.60) scale(1.108,1)" font-size="6.16" font-weight="bold" font-style="normal" fill="#000" stroke="#000" stroke-width="0.3">0</text>
<text transform="translate(202.23,614.60) scale(1.108,1)" font-size="6.16" font-weight="bold" font-style="normal" fill="#000" stroke="#000" stroke-width="0.3">2.5</text>
<text transform="translate(221.10,614.60) scale(1.092,1)" font-size="6.25" font-weight="bold" font-style="normal" fill="#000" stroke="#000" stroke-width="0.3">5</text>
<text transform="translate(234.50,614.60) scale(1.092,1)" font-size="6.25" font-weight="bold" font-style="normal" fill="#000" stroke="#000" stroke-width="0.3">7.5</text>
<text transform="translate(251.53,614.60) scale(1.108,1)" font-size="6.16" font-weight="bold" font-style="normal" fill="#000" stroke="#000" stroke-width="0.3">10</text>
<text transform="translate(264.44,614.60) scale(1.108,1)" font-size="6.16" font-weight="bold" font-style="normal" fill="#000" stroke="#000" stroke-width="0.3">12.5</text>
<text transform="translate(283.59,614.60) scale(1.092,1)" font-size="6.25" font-weight="bold" font-style="normal" fill="#000" stroke="#000" stroke-width="0.3">15</text>
<text transform="translate(296.84,614.60) scale(1.092,1)" font-size="6.25" font-weight="bold" font-style="normal" fill="#000" stroke="#000" stroke-width="0.3">17.5</text>
<text transform="translate(315.83,614.60) scale(1.108,1)" font-size="6.16" font-weight="bold" font-style="normal" fill="#000" stroke="#000" stroke-width="0.3">20</text>
<text transform="translate(328.93,614.60) scale(1.108,1)" font-size="6.16" font-weight="bold" font-style="normal" fill="#000" stroke="#000" stroke-width="0.3">22.5</text>
<text transform="translate(209.45,625.80) scale(0.945,1)" font-size="8.55" font-weight="bold" font-style="normal" fill="#000" stroke="#000" stroke-width="0.35">Rank in Ordered Dataset (x10</text>
<text transform="translate(322.57,621.40) scale(1.033,1)" font-size="5.45" font-weight="bold" font-style="normal" fill="#000">3</text>
<text transform="translate(326.28,625.80) scale(0.706,1)" font-size="9.10" font-weight="bold" font-style="normal" fill="#000">)</text>
<rect x="356.80" y="458.80" width="156.50" height="150.20" fill="#fff"/>
<line x1="356.80" y1="459.10" x2="513.30" y2="459.10" stroke="#d8d8d8" stroke-width="0.6"/>
<line x1="373.90" y1="460.00" x2="373.90" y2="530.00" stroke="#f4f4f4" stroke-width="0.7"/>
<line x1="390.00" y1="460.00" x2="390.00" y2="530.00" stroke="#f4f4f4" stroke-width="0.7"/>
<line x1="406.10" y1="460.00" x2="406.10" y2="530.00" stroke="#f4f4f4" stroke-width="0.7"/>
<line x1="422.20" y1="460.00" x2="422.20" y2="530.00" stroke="#f4f4f4" stroke-width="0.7"/>
<line x1="438.30" y1="460.00" x2="438.30" y2="530.00" stroke="#f4f4f4" stroke-width="0.7"/>
<line x1="454.40" y1="460.00" x2="454.40" y2="530.00" stroke="#f4f4f4" stroke-width="0.7"/>
<line x1="470.50" y1="460.00" x2="470.50" y2="530.00" stroke="#f4f4f4" stroke-width="0.7"/>
<line x1="486.60" y1="460.00" x2="486.60" y2="530.00" stroke="#f4f4f4" stroke-width="0.7"/>
<line x1="356.80" y1="463.80" x2="513.30" y2="463.80" stroke="#f4f4f4" stroke-width="0.7"/>
<line x1="356.80" y1="472.70" x2="513.30" y2="472.70" stroke="#f4f4f4" stroke-width="0.7"/>
<line x1="356.80" y1="481.70" x2="513.30" y2="481.70" stroke="#f4f4f4" stroke-width="0.7"/>
<line x1="356.80" y1="490.60" x2="513.30" y2="490.60" stroke="#f4f4f4" stroke-width="0.7"/>
<line x1="356.80" y1="499.50" x2="513.30" y2="499.50" stroke="#f4f4f4" stroke-width="0.7"/>
<line x1="356.80" y1="508.50" x2="513.30" y2="508.50" stroke="#f4f4f4" stroke-width="0.7"/>
<line x1="356.80" y1="517.40" x2="513.30" y2="517.40" stroke="#f4f4f4" stroke-width="0.7"/>
<line x1="356.80" y1="526.30" x2="513.30" y2="526.30" stroke="#f4f4f4" stroke-width="0.7"/>
<line x1="356.80" y1="530.80" x2="513.30" y2="530.80" stroke="#e4e4e4" stroke-width="0.6"/>
<path d="M356.8,463.8 L357.8,464.9 L360.2,463.8 L362.5,465.4 L365.5,466.9 L368.6,467.5 L371.7,468.0 L373.2,468.5 L377.1,469.5 L380.9,469.1 L384.0,469.5 L389.4,472.6 L395.5,476.2 L403.2,480.8 L410.9,485.4 L418.6,490.0 L426.3,494.6 L434.0,499.2 L441.7,503.4 L449.4,507.5 L457.1,511.8 L464.8,516.2 L472.5,520.3 L480.2,526.5 L483.2,526.9 L486.3,527.2 L489.4,526.0 L493.2,524.5 L496.3,523.4 L498.6,518.8 L501.7,508.8 L504.0,496.5 L505.1,481.1 L506.0,470.3 L506.6,463.8" fill="none" stroke="#36dc36" stroke-width="1.7" stroke-linejoin="round" stroke-linecap="round"/>
<rect x="359.80" y="532.00" width="1.00" height="22.30" fill="#878787"/>
<rect x="365.60" y="532.00" width="1.00" height="22.30" fill="#737373"/>
<rect x="366.70" y="532.00" width="1.00" height="22.30" fill="#c8c8c8"/>
<rect x="370.40" y="532.00" width="1.00" height="22.30" fill="#464646"/>
<rect x="373.00" y="532.00" width="1.00" height="22.30" fill="#cdcdcd"/>
<rect x="376.70" y="532.00" width="1.00" height="22.30" fill="#373737"/>
<rect x="378.80" y="532.00" width="1.00" height="22.30" fill="#aaaaaa"/>
<rect x="381.00" y="532.00" width="1.00" height="22.30" fill="#282828"/>
<rect x="382.50" y="532.00" width="1.00" height="22.30" fill="#969696"/>
<rect x="385.20" y="532.00" width="1.00" height="22.30" fill="#aaaaaa"/>
<rect x="388.90" y="532.00" width="1.00" height="22.30" fill="#464646"/>
<rect x="395.80" y="532.00" width="1.00" height="22.30" fill="#b9b9b9"/>
<rect x="397.40" y="532.00" width="1.00" height="22.30" fill="#969696"/>
<rect x="398.90" y="532.00" width="1.00" height="22.30" fill="#878787"/>
<rect x="401.10" y="532.00" width="1.00" height="22.30" fill="#b9b9b9"/>
<rect x="405.30" y="532.00" width="1.00" height="22.30" fill="#555555"/>
<rect x="425.00" y="532.00" width="1.00" height="22.30" fill="#828282"/>
<rect x="461.90" y="532.00" width="1.80" height="22.30" fill="#969696"/>
<rect x="463.70" y="532.00" width="1.70" height="22.30" fill="#6e6e6e"/>
<rect x="466.50" y="532.00" width="1.80" height="22.30" fill="#505050"/>
<rect x="469.40" y="532.00" width="1.70" height="22.30" fill="#828282"/>
<rect x="474.00" y="532.00" width="1.80" height="22.30" fill="#3c3c3c"/>
<rect x="479.80" y="532.00" width="2.30" height="22.30" fill="#1e1e1e"/>
<rect x="482.10" y="532.00" width="3.50" height="22.30" fill="#b9b9b9"/>
<rect x="485.60" y="532.00" width="3.40" height="22.30" fill="#505050"/>
<rect x="489.00" y="532.00" width="1.80" height="22.30" fill="#969696"/>
<rect x="490.80" y="532.00" width="2.30" height="22.30" fill="#3c3c3c"/>
<rect x="493.10" y="532.00" width="1.70" height="22.30" fill="#aaaaaa"/>
<rect x="494.80" y="532.00" width="2.30" height="22.30" fill="#6e6e6e"/>
<rect x="497.10" y="532.00" width="2.30" height="22.30" fill="#0a0a0a"/>
<rect x="499.40" y="532.00" width="1.70" height="22.30" fill="#828282"/>
<rect x="501.10" y="532.00" width="1.80" height="22.30" fill="#3c3c3c"/>
<rect x="502.90" y="532.00" width="3.40" height="22.30" fill="#050505"/>
<defs><linearGradient id="cb356" x1="0" x2="1" y1="0" y2="0"><stop offset="0" stop-color="#ee4444"/><stop offset="0.213" stop-color="#f05050"/><stop offset="0.253" stop-color="#f48080"/><stop offset="0.263" stop-color="#fac0dc"/><stop offset="0.692" stop-color="#f6b0d6"/><stop offset="0.699" stop-color="#d0d0f6"/><stop offset="0.875" stop-color="#a8a8ec"/><stop offset="0.973" stop-color="#5656d6"/><stop offset="1" stop-color="#3434bc"/></linearGradient></defs>
<rect x="357.30" y="555.10" width="149.50" height="5.00" fill="url(#cb356)"/>
<text transform="translate(358.99,564.80) scale(0.879,1)" font-size="4.55" font-weight="bold" font-style="normal" fill="#d01828" stroke="#d01828" stroke-width="0.15">&#39;na_pos&#39; (positively correlated)</text>
<text transform="translate(434.62,605.60) scale(0.789,1)" font-size="4.28" font-weight="bold" font-style="normal" fill="#2424d0" stroke="#2424d0" stroke-width="0.15">&#39;na_neg&#39; (negatively correlated)</text>
<text transform="translate(393.48,587.00) scale(0.802,1)" font-size="5.16" font-weight="bold" font-style="normal" fill="#333">Zero cross at 9769</text>
<path d="M357.3,576 L358.0,580.8 L388.8,581.3" fill="none" stroke="#a8a8a8" stroke-width="0.9"/>
<path d="M388.8,581.3 L466.8,582.4" fill="none" stroke="#e4e4e4" stroke-width="0.8"/>
<path d="M466.8,582.4 L503.8,583.0 L506.0,583.4 L506.3,608.5" fill="none" stroke="#b0b0b0" stroke-width="0.9"/>
<text transform="translate(355.40,614.60) scale(1.108,1)" font-size="6.16" font-weight="bold" font-style="normal" fill="#000" stroke="#000" stroke-width="0.3">0</text>
<text transform="translate(368.53,614.60) scale(1.108,1)" font-size="6.16" font-weight="bold" font-style="normal" fill="#000" stroke="#000" stroke-width="0.3">2.5</text>
<text transform="translate(387.40,614.60) scale(1.092,1)" font-size="6.25" font-weight="bold" font-style="normal" fill="#000" stroke="#000" stroke-width="0.3">5</text>
<text transform="translate(400.80,614.60) scale(1.092,1)" font-size="6.25" font-weight="bold" font-style="normal" fill="#000" stroke="#000" stroke-width="0.3">7.5</text>
<text transform="translate(417.83,614.60) scale(1.108,1)" font-size="6.16" font-weight="bold" font-style="normal" fill="#000" stroke="#000" stroke-width="0.3">10</text>
<text transform="translate(430.74,614.60) scale(1.108,1)" font-size="6.16" font-weight="bold" font-style="normal" fill="#000" stroke="#000" stroke-width="0.3">12.5</text>
<text transform="translate(449.89,614.60) scale(1.092,1)" font-size="6.25" font-weight="bold" font-style="normal" fill="#000" stroke="#000" stroke-width="0.3">15</text>
<text transform="translate(463.14,614.60) scale(1.092,1)" font-size="6.25" font-weight="bold" font-style="normal" fill="#000" stroke="#000" stroke-width="0.3">17.5</text>
<text transform="translate(482.13,614.60) scale(1.108,1)" font-size="6.16" font-weight="bold" font-style="normal" fill="#000" stroke="#000" stroke-width="0.3">20</text>
<text transform="translate(495.23,614.60) scale(1.108,1)" font-size="6.16" font-weight="bold" font-style="normal" fill="#000" stroke="#000" stroke-width="0.3">22.5</text>
<text transform="translate(375.85,625.80) scale(0.945,1)" font-size="8.55" font-weight="bold" font-style="normal" fill="#000" stroke="#000" stroke-width="0.35">Rank in Ordered Dataset (x10</text>
<text transform="translate(488.97,621.40) scale(1.033,1)" font-size="5.45" font-weight="bold" font-style="normal" fill="#000">3</text>
<text transform="translate(492.68,625.80) scale(0.706,1)" font-size="9.10" font-weight="bold" font-style="normal" fill="#000">)</text>
<text transform="translate(191.74,456.80) scale(1.128,1)" font-size="8.69" font-weight="bold" font-style="normal" fill="#000" stroke="#000" stroke-width="0.35">Enrichment plot: RNA Processing</text>
<text transform="translate(357.34,456.50) scale(1.125,1)" font-size="8.69" font-weight="bold" font-style="normal" fill="#000" stroke="#000" stroke-width="0.35">Enrichment plot: DNA Replication</text>
<text transform="translate(179.08,462.90) scale(1.070,1)" font-size="6.45" font-weight="bold" font-style="normal" fill="#000" stroke="#000" stroke-width="0.3">0.0</text>
<text transform="translate(176.70,471.75) scale(1.070,1)" font-size="6.45" font-weight="bold" font-style="normal" fill="#000" stroke="#000" stroke-width="0.3">-0.1</text>
<text transform="translate(176.77,480.90) scale(1.070,1)" font-size="6.45" font-weight="bold" font-style="normal" fill="#000" stroke="#000" stroke-width="0.3">-0.2</text>
<text transform="translate(176.75,489.80) scale(1.070,1)" font-size="6.45" font-weight="bold" font-style="normal" fill="#000" stroke="#000" stroke-width="0.3">-0.3</text>
<text transform="translate(176.55,498.80) scale(1.070,1)" font-size="6.45" font-weight="bold" font-style="normal" fill="#000" stroke="#000" stroke-width="0.3">-0.4</text>
<text transform="translate(176.70,510.85) scale(1.070,1)" font-size="6.45" font-weight="bold" font-style="normal" fill="#000" stroke="#000" stroke-width="0.3">-0.5</text>
<text transform="translate(176.75,519.65) scale(1.070,1)" font-size="6.45" font-weight="bold" font-style="normal" fill="#000" stroke="#000" stroke-width="0.3">-0.6</text>
<text transform="translate(176.81,528.15) scale(1.070,1)" font-size="6.45" font-weight="bold" font-style="normal" fill="#000" stroke="#000" stroke-width="0.3">-0.7</text>
<text transform="translate(181.82,563.75) scale(1.084,1)" font-size="6.55" font-weight="bold" font-style="normal" fill="#000" stroke="#000" stroke-width="0.3">15</text>
<text transform="translate(181.91,570.25) scale(1.100,1)" font-size="6.45" font-weight="bold" font-style="normal" fill="#000" stroke="#000" stroke-width="0.3">10</text>
<text transform="translate(185.76,577.45) scale(1.084,1)" font-size="6.55" font-weight="bold" font-style="normal" fill="#000" stroke="#000" stroke-width="0.3">5</text>
<text transform="translate(185.85,584.55) scale(1.100,1)" font-size="6.45" font-weight="bold" font-style="normal" fill="#000" stroke="#000" stroke-width="0.3">0</text>
<text transform="translate(183.40,591.75) scale(1.084,1)" font-size="6.55" font-weight="bold" font-style="normal" fill="#000" stroke="#000" stroke-width="0.3">-5</text>
<text transform="translate(179.53,599.55) scale(1.100,1)" font-size="6.45" font-weight="bold" font-style="normal" fill="#000" stroke="#000" stroke-width="0.3">-10</text>
<text transform="translate(179.44,606.75) scale(1.084,1)" font-size="6.55" font-weight="bold" font-style="normal" fill="#000" stroke="#000" stroke-width="0.3">-15</text>
<text transform="translate(169.70,539.55) rotate(-90) scale(1.051,1)" font-size="7.72" font-weight="bold" font-style="normal" fill="#000" stroke="#000" stroke-width="0.4">Enrichment Score (ES)</text>
<text transform="translate(166.40,618.95) rotate(-90) scale(0.965,1)" font-size="8.41" font-weight="bold" font-style="normal" fill="#000" stroke="#000" stroke-width="0.4">Ranked List Metric</text>
<text transform="translate(175.00,607.31) rotate(-90) scale(0.983,1)" font-size="8.41" font-weight="bold" font-style="normal" fill="#000" stroke="#000" stroke-width="0.4">(PreRanked)</text>
<text transform="translate(194.58,579.00) scale(1.094,1)" font-size="11.86" font-weight="bold" font-style="italic" fill="#000">Gab2</text>
<text transform="translate(227.91,573.30) scale(1.107,1)" font-size="7.72" font-weight="bold" font-style="italic" fill="#000">–/–</text>
<text transform="translate(321.16,576.30) scale(1.147,1)" font-size="11.35" font-weight="bold" font-style="italic" fill="#000">WT</text>
<text transform="translate(365.20,579.00) scale(1.073,1)" font-size="11.86" font-weight="bold" font-style="italic" fill="#000">Gab2</text>
<text transform="translate(399.12,572.60) scale(1.199,1)" font-size="6.76" font-weight="bold" font-style="italic" fill="#000">–/–</text>
<text transform="translate(487.83,575.20) scale(1.067,1)" font-size="11.93" font-weight="bold" font-style="italic" fill="#000">WT</text>
<rect x="212.40" y="633.20" width="274.50" height="14.00" fill="#fff" stroke="#3a3a3a" stroke-width="1.3"/>
<line x1="218.80" y1="640.10" x2="236.50" y2="640.10" stroke="#88dcb0" stroke-width="1.1"/>
<text transform="translate(241.35,642.80) scale(0.978,1)" font-size="8.29" font-weight="bold" font-style="normal" fill="#000" stroke="#000" stroke-width="0.35">Enrichment profile</text>
<line x1="325.80" y1="640.10" x2="341.90" y2="640.10" stroke="#111" stroke-width="1.1"/>
<text transform="translate(345.23,642.80) scale(1.010,1)" font-size="8.29" font-weight="bold" font-style="normal" fill="#000" stroke="#000" stroke-width="0.35">Hits</text>
<line x1="371.90" y1="640.10" x2="389.60" y2="640.10" stroke="#b8b8b8" stroke-width="1.1"/>
<text transform="translate(394.46,642.80) scale(0.972,1)" font-size="8.29" font-weight="bold" font-style="normal" fill="#000" stroke="#000" stroke-width="0.35">Ranking metric scores</text>
<text transform="translate(155.19,646.55) scale(1.037,1)" font-size="17.96" font-weight="bold" font-style="normal" fill="#000" stroke="#000" stroke-width="0.4">F</text>
<text transform="translate(502.19,647.60) scale(0.925,1)" font-size="19.07" font-weight="bold" font-style="normal" fill="#000" stroke="#000" stroke-width="0.4">G</text>
</svg>
</body></html>
